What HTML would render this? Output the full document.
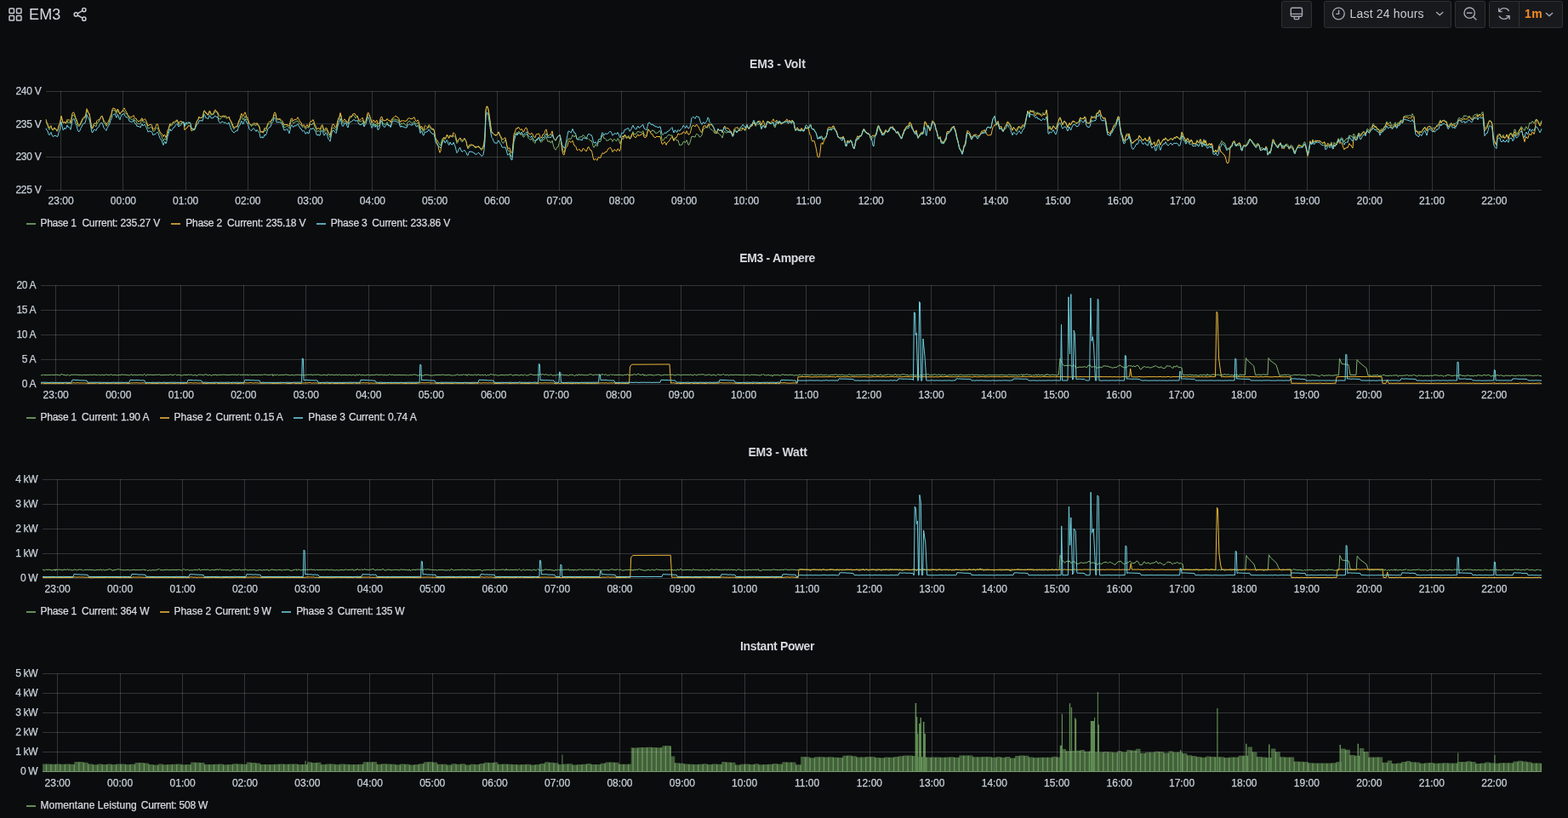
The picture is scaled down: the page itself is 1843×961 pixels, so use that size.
<!DOCTYPE html>
<html><head><meta charset="utf-8"><title>EM3 - Grafana</title>
<style>
html,body{margin:0;padding:0;background:#0b0c0e;}
body{width:1843px;height:961px;overflow:hidden;position:relative;font-family:"Liberation Sans",Arial,sans-serif;color:#ccccdc;}
.t{position:absolute;white-space:nowrap;line-height:1;transform-origin:0 0;}
.dash{position:absolute;height:2px;width:11px;opacity:0.78;}
.btn{position:absolute;top:1px;height:32px;background:#18191d;border:1px solid #303135;border-radius:2.5px;box-sizing:border-box;}
svg{position:absolute;left:0;top:0;}
</style></head><body>

<svg width="120" height="36" viewBox="0 0 120 36" style="left:0;top:0">
<g fill="none" stroke="#c7cad1" stroke-width="1.5">
<rect x="11" y="10" width="5.5" height="5.5" rx="0.8"/><rect x="19.5" y="10" width="5.5" height="5.5" rx="0.8"/>
<rect x="11" y="18.5" width="5.5" height="5.5" rx="0.8"/><rect x="19.5" y="18.5" width="5.5" height="5.5" rx="0.8"/>
<circle cx="98.8" cy="11.6" r="2.1"/><circle cx="98.8" cy="22.2" r="2.1"/><circle cx="89.3" cy="16.9" r="2.1"/>
<path d="M91.2 15.8 L96.9 12.7 M91.2 18 L96.9 21.1"/>
</g></svg>

<div class="t" style="left:33.96px;top:7.56px;font-size:18px;letter-spacing:0.185px;color:#d8d9e0;">EM3</div>
<div class="btn" style="left:1506px;width:36px;"></div>
<div class="btn" style="left:1556px;width:150px;"></div>
<div class="btn" style="left:1710px;width:36px;"></div>
<div class="btn" style="left:1750px;width:87px;"></div>
<svg width="1843" height="36" viewBox="0 0 1843 36" style="left:0;top:0">
<g fill="none" stroke="#a3a8b3" stroke-width="1.4" stroke-linecap="round" stroke-linejoin="round">
<rect x="1517.3" y="9.2" width="13.2" height="10" rx="1.5"/><path d="M1517.3 16.4 H1530.5"/><rect x="1521.3" y="19.6" width="5.4" height="3" rx="0.8"/>
<circle cx="1573.3" cy="16" r="6.9"/><path d="M1573.6 12.2 V16.4 H1570.8"/>
<path d="M1688.6 14.4 L1692.2 17.8 L1695.8 14.4"/>
<circle cx="1727.2" cy="15.2" r="6.2"/><path d="M1724.4 15.2 H1730 M1731.7 19.7 L1735 23"/>
<path d="M1773.4 12.6 A6.3 6.3 0 0 0 1762.3 13.4 M1762.3 19.2 A6.3 6.3 0 0 0 1773.5 18.6 M1761.7 10 V13.6 H1765.2 M1774.2 22.3 V18.6 H1770.6"/>
<path d="M1817.4 15.4 L1821 18.8 L1824.6 15.4"/>
</g>
<path d="M1785.5 1.5 V32.5" stroke="#303135" stroke-width="1"/>
</svg>

<div class="t" style="left:1586.58px;top:9.35px;font-size:14px;letter-spacing:0.172px;color:#c9cad3;">Last 24 hours</div>
<div class="t" style="left:1792.06px;top:9.15px;font-size:14px;font-weight:bold;letter-spacing:0.450px;color:#f48c26;">1m</div>
<div class="t" style="left:880.99px;top:68.15px;font-size:14px;font-weight:bold;letter-spacing:-0.091px;color:#d8d9e0;">EM3 - Volt</div>
<svg width="1843" height="130" viewBox="0 100 1843 130" style="top:100px">
<path d="M54 107.5H1812M54 145.5H1812M54 184.5H1812M54 223.5H1812M71.5 107 V224M144.5 107 V224M218.5 107 V224M291.5 107 V224M364.5 107 V224M437.5 107 V224M511.5 107 V224M584.5 107 V224M657.5 107 V224M730.5 107 V224M804.5 107 V224M877.5 107 V224M950.5 107 V224M1023.5 107 V224M1097.5 107 V224M1170.5 107 V224M1243.5 107 V224M1316.5 107 V224M1390.5 107 V224M1463.5 107 V224M1536.5 107 V224M1609.5 107 V224M1683.5 107 V224M1756.5 107 V224" stroke="rgba(200,200,200,0.22)" stroke-width="1" fill="none"/>
<path d="M54 142.8l1 2.6 1 1.7 1 3.9 1 1.3 1 -2.6 1 -2 1 3.4 1 2 1 -0.6 1 -1.5 1 0.6 1 0.4 1 2.5 1 -0.9 1 -4.6 1 -2.5 1 -3.5 1 -5.9 1 3.5 1 3.6 1 0.2 1 -1.4 1 1.8 1 -0.3 1 -2.4 1 2.4 1 -0.8 1 0.1 1 1.4 1 -4.7 1 -4.7 1 -0.8 1 0 1 2.4 1 3.1 1 2.1 1 3.7 1 2.1 1 0 1 -0.9 1 -1.9 1 -1.9 1 -2.7 1 -1.4 1 -0.7 1 -0.6 1 -3.4 1 -5.4 1 2.2 1 2 1 0.2 1 5.9 1 6.4 1 5 1 -0.3 1 -3.2 1 -0.8 1 1.4 1 0.4 1 -3.7 1 -1.1 1 -0.7 1 -2.3 1 -2.3 1 -2.1 1 -0.2 1 3.8 1 4.2 1 0.6 1 1.2 1 2.2 1 -1.4 1 -0.5 1 -2.6 1 -3.1 1 -3.5 1 -1.9 1 -4.8 1 -1.6 1 0.7 1 0 1 3.1 1 0.9 1 -3.8 1 0.4 1 2.6 1 1.6 1 -2.1 1 -1.2 1 -0.4 1 -0.6 1 0.4 1 2.3 1 0.4 1 0.5 1 2.3 1 0.9 1 2.3 1 0.4 1 0.3 1 0.5 1 0 1 -1.4 1 2 1 1.2 1 -0.1 1 3 1 -0.4 1 1.4 1 -0.7 1 0.3 1 -3.5 1 -1.9 1 3.1 1 0.1 1 -0.5 1 0.8 1 1.2 1 2.3 1 3.5 1 -0.3 1 0 1 -1.3 1 0 1 2.1 1 3.3 1 -0.9 1 -0.2 1 -2 1 -1.2 1 -0.2 1 2.3 1 2.9 1 1.7 1 1.4 1 2 1 3 1 2.4 1 -2.6 1 -0.4 1 1.8 1 -3 1 -5 1 -2.5 1 -5.1 1 -3 1 2.2 1 -1 1 -1.5 1 -0.9 1 0 1 -1.3 1 -0.2 1 -1.2 1 1.8 1 3 1 -1.3 1 0 1 -1.1 1 -1.3 1 0.4 1 -0.2 1 4.6 1 -3 1 0.5 1 0.7 1 -1.4 1 0 1 -1.2 1 1.7 1 5.2 1 0.4 1 0.4 1 1.8 1 -1.9 1 -4.4 1 -3.6 1 -1.6 1 -1.1 1 -3.2 1 1.3 1 -0.3 1 0 1 -0.1 1 -3.4 1 -4.5 1 0.2 1 2.6 1 -0.3 1 2.4 1 -0.1 1 -3.6 1 0.5 1 3.1 1 -0.2 1 -0.4 1 0 1 -2 1 -1.5 1 0.6 1 0.2 1 2.7 1 4.5 1 1.1 1 -0.1 1 -1.4 1 -1 1 -0.7 1 0.3 1 0.5 1 0 1 1.2 1 0.2 1 -1 1 -1 1 3.2 1 1.8 1 3.1 1 2.9 1 2.1 1 1.6 1 -1.6 1 -1.4 1 0 1 0.4 1 -3.4 1 -2.8 1 -1.3 1 -4.1 1 -1.2 1 3.7 1 0.6 1 -2.4 1 -1.9 1 1.9 1 2.7 1 -0.7 1 3.1 1 1.8 1 0.8 1 1.9 1 0.6 1 -1.2 1 -1.2 1 0.9 1 0.1 1 0.3 1 -2 1 1.8 1 0.8 1 2.1 1 5.3 1 -0.1 1 -1.4 1 2.3 1 -0.8 1 -2.9 1 1.6 1 -1.5 1 -3.6 1 -3.1 1 -0.1 1 -0.2 1 -1 1 -2.7 1 -0.8 1 -0.7 1 -4.1 1 -1.7 1 0.7 1 5 1 1.1 1 -0.8 1 -0.6 1 0.7 1 1.7 1 0.9 1 0.9 1 2.6 1 3.2 1 -0.2 1 -1 1 -1 1 0.5 1 1.3 1 1.5 1 -4.4 1 -4.1 1 -1.3 1 2.2 1 1.5 1 -1.3 1 -0.7 1 -0.1 1 -0.5 1 -0.7 1 2 1 1.6 1 1.6 1 -0.6 1 2.5 1 0.9 1 -1.3 1 1 1 2.3 1 -0.4 1 -2.2 1 1 1 -0.1 1 -3.4 1 -0.6 1 0.5 1 -0.1 1 -2.2 1 1.8 1 3.4 1 0.8 1 3.9 1 0.7 1 -1.5 1 0.8 1 0.7 1 -2.9 1 -2.4 1 -1 1 3.5 1 3.3 1 -0.8 1 -2.4 1 0.2 1 2.9 1 2.9 1 1.5 1 2.1 1 -4.5 1 -5.5 1 -1.8 1 0.5 1 0 1 1.5 1 1.5 1 -3.5 1 -5.6 1 -4.1 1 -1.8 1 -4.1 1 3.2 1 5.5 1 1.5 1 -0.5 1 -1.6 1 0.2 1 0.1 1 2.5 1 0.7 1 -3.7 1 -3 1 -1 1 -0.2 1 -1.7 1 -1.3 1 1.1 1 0.6 1 2.3 1 -1 1 -1.5 1 3 1 3.1 1 0.3 1 -0.1 1 -0.5 1 -1 1 2.2 1 3.1 1 -2.5 1 -1.3 1 -2.5 1 -4.8 1 -0.9 1 1.3 1 2.5 1 3 1 5.1 1 0.3 1 -2.6 1 1.3 1 2.2 1 -2.1 1 -1.1 1 4.1 1 0 1 -1.7 1 -4.3 1 -2.3 1 0.6 1 4.3 1 -0.1 1 1.5 1 -1.2 1 -0.1 1 -2 1 2.1 1 1.9 1 -0.2 1 1.5 1 -3.5 1 -4 1 -0.8 1 -0.4 1 0.2 1 0.3 1 0.4 1 0.4 1 -0.5 1 1.8 1 3.8 1 0.1 1 -1.8 1 1.3 1 -1.4 1 0.3 1 1.7 1 0.6 1 0.6 1 -3.6 1 -1.2 1 -0.9 1 0.4 1 1.6 1 0.6 1 0.6 1 -2 1 -0.9 1 2 1 1.5 1 -0.2 1 -1.7 1 1.5 1 3.2 1 4.9 1 -2.5 1 -0.7 1 3.3 1 1.1 1 -2.6 1 0 1 -0.6 1 -0.6 1 -0.1 1 -2.2 1 0.9 1 1.6 1 0.3 1 1.5 1 -1 1 0.4 1 4.4 1 6.3 1 0.5 1 1.5 1 1.4 1 1.9 1 2.2 1 -0.1 1 -4.5 1 -2.8 1 -1.2 1 -0.9 1 1.7 1 -0.8 1 -2.8 1 -0.1 1 2.7 1 0 1 -3 1 1.8 1 -0.3 1 1.1 1 -2.3 1 1.2 1 1 1 3.4 1 3.9 1 -1.2 1 -2.8 1 -1.8 1 0 1 3 1 1.1 1 -0.6 1 -2.2 1 -1.6 1 1.7 1 2.1 1 5.4 1 3.3 1 -1.4 1 -1.8 1 0.1 1 -1 1 -0.2 1 0 1 0.3 1 2.3 1 0.2 1 0.2 1 -1 1 -1.1 1 0.5 1 1.4 1 0.8 1 0.6 1 -1.6 1 -1.2 1 -4.1 1 -10 1 -28.4 1 -3.8 1 0.1 1 3.3 1 6.1 1 8.5 1 7.8 1 4.8 1 -0.4 1 0.8 1 1.2 1 1.5 1 -0.5 1 -0.2 1 -1.9 1 -1.6 1 2.8 1 2.5 1 2.2 1 4.2 1 1.3 1 -0.4 1 -1.9 1 -2 1 3.5 1 5.4 1 4.2 1 0.3 1 0.2 1 4 1 2.5 1 0.4 1 -11.2 1 -11 1 -3.2 1 -2.6 1 -1 1 2.3 1 -2.8 1 -0.7 1 2.5 1 1.9 1 -1.4 1 1.6 1 2.2 1 -0.1 1 -1.8 1 -1.1 1 -0.7 1 2.2 1 2.7 1 1.1 1 0.7 1 0.2 1 -1.7 1 1.6 1 2.3 1 1.1 1 0.8 1 -4.2 1 -1.1 1 0 1 -1.6 1 1 1 3.8 1 1.2 1 -1 1 -2.5 1 0.5 1 -0.8 1 -2.2 1 -0.9 1 3.4 1 2.8 1 -0.8 1 -0.4 1 2.3 1 -0.3 1 -2.5 1 4.3 1 3.6 1 2.3 1 1 1 -1.5 1 -1.9 1 -0.3 1 -3.6 1 -4.4 1 -2.1 1 5.5 1 6.3 1 3.7 1 1.2 1 -3.8 1 -4.4 1 -5 1 -0.5 1 -2.4 1 0.1 1 -0.1 1 0.6 1 -2 1 -3.2 1 1.5 1 1.2 1 -2 1 0.6 1 3.7 1 0.3 1 -1.5 1 -1.3 1 0.3 1 -0.6 1 0.2 1 -2.1 1 0.2 1 1 1 1.1 1 2.4 1 -0.4 1 -0.5 1 1 1 0.8 1 1.4 1 -0.7 1 2.1 1 4.1 1 2.2 1 -1.4 1 -2.3 1 1.5 1 0.7 1 -4.2 1 -1.9 1 1.2 1 -1.1 1 -4.3 1 -3.4 1 1.8 1 2.8 1 -0.4 1 1.2 1 1.6 1 0.1 1 -0.8 1 -0.1 1 -1.4 1 -0.1 1 1.2 1 2.2 1 -1.9 1 -1.2 1 1 1 1.5 1 -0.3 1 -2.9 1 0.8 1 3.5 1 2.4 1 -4.1 1 -2.9 1 1.5 1 -0.6 1 -4.7 1 0 1 2.6 1 0.3 1 -1.3 1 -0.5 1 3.4 1 0.2 1 -2 1 -3.6 1 -2.8 1 2.7 1 0.2 1 0.1 1 -0.8 1 -2 1 -0.8 1 1.2 1 -0.4 1 0.6 1 0.4 1 -1.5 1 -0.5 1 4.3 1 0.4 1 1.3 1 -0.2 1 -4.8 1 -2.8 1 1.4 1 0.4 1 1.1 1 -0.7 1 -1.7 1 1.4 1 -0.2 1 2.3 1 0.3 1 -0.1 1 -0.4 1 -0.9 1 -1.3 1 0.2 1 4.7 1 5 1 1.7 1 -0.7 1 -2.1 1 -1.3 1 1.1 1 -2 1 -1.2 1 -0.8 1 0.2 1 0.6 1 0.1 1 -0.4 1 3.5 1 2.7 1 -2.5 1 0.4 1 2 1 0.1 1 -0.3 1 3.6 1 2.7 1 -1 1 0.1 1 -0.4 1 -3 1 -0.3 1 0.7 1 0.2 1 -2.7 1 2.1 1 3.6 1 -0.4 1 -2.3 1 -3.8 1 -3.7 1 0.5 1 -0.4 1 0.4 1 0.7 1 -3 1 -1.2 1 1.2 1 0.1 1 2.6 1 0.1 1 -1 1 -1.2 1 -4.7 1 -3 1 -0.2 1 -1.3 1 -0.4 1 1.2 1 -2.3 1 -1.2 1 3.3 1 1.2 1 0.7 1 0.3 1 1.1 1 1.4 1 1.8 1 -0.7 1 0.3 1 0 1 -0.7 1 1.6 1 1 1 0.4 1 1.1 1 2.3 1 -3.5 1 -3.6 1 -0.7 1 1.7 1 0.1 1 -0.6 1 0 1 -0.7 1 -0.1 1 -0.7 1 2.1 1 3.2 1 -0.5 1 -5.8 1 -1.1 1 1.7 1 1.8 1 -1.5 1 -0.1 1 -0.7 1 -1.6 1 -0.5 1 -0.3 1 -0.8 1 1.5 1 1.6 1 0.5 1 -2.1 1 -2.5 1 1.3 1 0.8 1 -1.2 1 -1.2 1 -0.4 1 0 1 -2.9 1 -1.8 1 2 1 2.8 1 -0.7 1 -1 1 -1.2 1 0.9 1 -1.1 1 2.2 1 3 1 -1.8 1 -1.5 1 0.4 1 1.3 1 0 1 -3.8 1 -2.5 1 0.9 1 0.5 1 0.7 1 0.8 1 -0.6 1 -0.5 1 0.1 1 4.4 1 1.1 1 -3 1 -2.2 1 0.6 1 0.3 1 -2.9 1 0.8 1 1.4 1 -0.4 1 -0.5 1 -0.5 1 -0.5 1 0.6 1 -0.6 1 -0.2 1 2 1 -0.2 1 -2.2 1 1.5 1 1.3 1 -1.3 1 -0.4 1 -0.1 1 5.4 1 3.5 1 0 1 -0.7 1 1.7 1 -0.6 1 1 1 -0.2 1 -2.1 1 1.9 1 0.4 1 0.4 1 -3.1 1 -1.6 1 1.7 1 0.4 1 -1.2 1 -1 1 -3 1 -0.1 1 5 1 0.8 1 -0.8 1 0.8 1 2.2 1 1.4 1 3.3 1 3.9 1 0 1 -1 1 1.4 1 -3.3 1 0.1 1 3.2 1 -0.6 1 -0.2 1 -0.9 1 -0.6 1 -2.9 1 -4.2 1 -1.4 1 -0.4 1 -0.7 1 0.6 1 -1.3 1 -1.7 1 -0.2 1 2.2 1 1.9 1 1.5 1 3.4 1 3.7 1 0.1 1 0.8 1 -0.2 1 0.3 1 0.5 1 -2.3 1 2 1 3.4 1 5.3 1 -0.2 1 -6 1 0.4 1 1.7 1 -0.7 1 -1.5 1 1.7 1 3.9 1 3.1 1 1.3 1 -3.6 1 -4.9 1 -1 1 -2.9 1 1.3 1 -2.3 1 -1.4 1 0.3 1 -2.2 1 -3.2 1 -1.8 1 0.5 1 1.6 1 0.5 1 0.5 1 1.6 1 -0.9 1 1.7 1 3.7 1 2.2 1 -2.1 1 -1.4 1 -0.4 1 -1 1 -0.6 1 -1.5 1 -4 1 -4.1 1 -0.7 1 3.8 1 2.1 1 1.4 1 1.7 1 -0.5 1 1 1 -2.6 1 -2.6 1 1.2 1 1 1 -1.9 1 -1.9 1 -1.9 1 -0.8 1 1 1 -0.2 1 2 1 -0.1 1 1.4 1 2.3 1 1.1 1 -0.7 1 2.2 1 1.7 1 0.5 1 2.1 1 -0.2 1 -4.4 1 -2 1 -2.9 1 0 1 -2.2 1 -1.5 1 0 1 -0.7 1 -3.1 1 0.7 1 1.5 1 3.2 1 2 1 2.2 1 1.1 1 0.1 1 -1.9 1 5.1 1 3.6 1 -1.6 1 -2 1 -1.5 1 -1.7 1 0.8 1 0.2 1 -6.6 1 -7 1 1 1 3.2 1 1.8 1 -1.1 1 2.4 1 2.3 1 -2 1 -3.8 1 -3.1 1 0.6 1 1 1 1.2 1 4.6 1 2 1 5 1 4 1 -0.4 1 -0.4 1 4.4 1 2 1 -0.4 1 1.5 1 -1.9 1 -2.2 1 -1.7 1 -6.6 1 -0.8 1 -0.2 1 -1.3 1 -1.2 1 -1.7 1 -1.4 1 -0.6 1 -1.5 1 3.3 1 2.2 1 4.2 1 4.8 1 3.6 1 4.6 1 3.6 1 1.2 1 2.4 1 2.8 1 -3.5 1 -5.1 1 -0.5 1 -3.2 1 -8.6 1 -4.3 1 0.3 1 1.2 1 1.6 1 2.5 1 1.7 1 -2.1 1 -1.4 1 -0.5 1 0.8 1 0 1 1.3 1 0.3 1 -1.4 1 -0.8 1 -1.1 1 -1.3 1 -1 1 0 1 -0.4 1 -1 1 1.5 1 -2.7 1 -2.8 1 -1.1 1 -0.1 1 0.9 1 0.8 1 -0.4 1 -6 1 -4.7 1 -1.6 1 -1.6 1 5.5 1 4.1 1 -0.6 1 -1.9 1 4 1 3.9 1 -1.3 1 0 1 3 1 1.5 1 -2.6 1 -3 1 -1.1 1 -1.2 1 -2.8 1 0.3 1 2 1 0.8 1 2.1 1 2.6 1 1.2 1 -3.4 1 0.5 1 1.6 1 2.2 1 0.6 1 -1.9 1 -1.9 1 -1.7 1 1.2 1 1.7 1 -1.3 1 -2 1 0.1 1 -0.8 1 -2.6 1 -4.4 1 -4.9 1 -5.5 1 2.2 1 1.7 1 -4.5 1 0.6 1 0.2 1 -0.7 1 0 1 1.9 1 1.5 1 -0.7 1 -1.1 1 1.5 1 -0.2 1 0.4 1 0.9 1 0.5 1 -1 1 -1.4 1 1.8 1 0.6 1 -2.4 1 -3.4 1 6.6 1 14.3 1 -0.2 1 -1.6 1 2.6 1 0.9 1 -1.8 1 -2.2 1 1.2 1 1.6 1 0.8 1 -2.5 1 -3.5 1 -2.9 1 -2.2 1 -0.5 1 1.8 1 3.5 1 1.5 1 -3.1 1 -1.4 1 1.4 1 0.6 1 3.3 1 2.5 1 -3 1 -1.9 1 2.4 1 -0.7 1 -2.5 1 -0.8 1 -0.3 1 0.3 1 1 1 0.8 1 -0.7 1 -0.3 1 -0.4 1 -2.8 1 -2.7 1 1.3 1 0.2 1 -0.5 1 0.2 1 -2.2 1 2.1 1 4.4 1 1.1 1 0.3 1 0.1 1 -1.3 1 -3.8 1 -3.8 1 1.4 1 0 1 -1 1 0.9 1 -0.9 1 -3.6 1 -0.5 1 0.4 1 -2.7 1 1.3 1 3.7 1 1.8 1 1.1 1 1.7 1 -1.1 1 0 1 4.9 1 6.6 1 5.2 1 0.2 1 1 1 0.7 1 -3.4 1 0.4 1 -3.4 1 -3.2 1 -1.2 1 -1.3 1 -1.6 1 -3.6 1 -3 1 0 1 7.8 1 6.9 1 4.8 1 2.7 1 4.3 1 3.2 1 -1 1 -4.6 1 -3.5 1 -0.6 1 1.7 1 -1.8 1 4 1 3.1 1 3.8 1 0.7 1 -0.3 1 -1.9 1 -0.5 1 -0.9 1 -1.5 1 0.2 1 -1.3 1 -3 1 1.9 1 0.5 1 2.5 1 0.9 1 -1.1 1 -1.2 1 -0.7 1 3.4 1 -0.2 1 0.6 1 -2.7 1 -2.8 1 3.2 1 3.8 1 2.4 1 -0.5 1 -1.7 1 -0.8 1 4.2 1 0.1 1 -2.9 1 -2.6 1 -1.1 1 3.9 1 1.3 1 -2.6 1 -0.4 1 -1.7 1 -0.7 1 0.3 1 -2.6 1 1.4 1 1.2 1 0.2 1 -0.2 1 -0.4 1 -1.5 1 0.3 1 1.9 1 -0.9 1 -1.5 1 0 1 0.1 1 -1.1 1 0.4 1 -0.2 1 1.3 1 0.1 1 -2.3 1 -5.4 1 3.2 1 3.7 1 0.1 1 2.1 1 2.6 1 -2 1 -1.8 1 0.5 1 2.6 1 -0.6 1 -1.8 1 2.2 1 3.3 1 -0.2 1 -0.7 1 0.9 1 -2.2 1 -2.7 1 2.2 1 1 1 -2.4 1 -1.2 1 2.9 1 1.9 1 -2.5 1 -2.7 1 3 1 -2 1 3.8 1 2.4 1 0.4 1 -1.6 1 -0.3 1 1.6 1 -1.9 1 2.2 1 6.9 1 0.1 1 0.3 1 -1.9 1 1.5 1 -0.7 1 -2.6 1 -4.1 1 -1.8 1 -1 1 -2.7 1 1.5 1 1.4 1 -0.6 1 1.6 1 2.8 1 3.2 1 -0.8 1 -0.7 1 0.8 1 -1.8 1 -0.1 1 -0.4 1 -3.3 1 -1.3 1 -0.8 1 4 1 1.2 1 -2.7 1 -0.3 1 -1.2 1 0 1 2.6 1 4.6 1 0.1 1 -3.3 1 -1.2 1 0.6 1 -0.6 1 -0.2 1 -2.3 1 -1.9 1 -1.7 1 -1.6 1 1.2 1 0.8 1 1.6 1 0.8 1 1.9 1 0.1 1 1.4 1 -0.7 1 -1.8 1 0.6 1 1.4 1 3.5 1 1.2 1 -1.7 1 0.4 1 1.5 1 -0.9 1 2 1 -3.1 1 1.3 1 7.9 1 -1.4 1 -3.3 1 1.2 1 -3.6 1 -5.8 1 -5.8 1 0.6 1 3.4 1 1.8 1 0.8 1 1.3 1 0.9 1 -2.8 1 0 1 -1.7 1 2.1 1 2.1 1 -1.5 1 1.5 1 -1 1 -1.6 1 -0.1 1 -0.2 1 1.2 1 2.7 1 -0.3 1 -2 1 -0.4 1 1.3 1 1.4 1 3.7 1 2 1 -2.1 1 -2.1 1 -2.1 1 -2.1 1 -0.5 1 0.6 1 1 1 0.6 1 -0.3 1 -2.8 1 -2.2 1 0.3 1 4.4 1 4.6 1 4.6 1 -2.9 1 -5.4 1 -6 1 1.6 1 -0.5 1 -3.6 1 2.6 1 0.8 1 -1 1 0.3 1 -0.6 1 -1.2 1 1.2 1 -0.5 1 0.9 1 0.7 1 1.1 1 0.5 1 -1.2 1 0 1 4.5 1 0.2 1 -1.2 1 -1.4 1 0.8 1 0.6 1 -2.4 1 -1.7 1 4.8 1 0.5 1 -4.9 1 2.1 1 -0.8 1 -1.3 1 -1.5 1 -3.2 1 2 1 0.7 1 -2.7 1 -1.1 1 1.3 1 2.5 1 1.6 1 -2.5 1 -0.3 1 -1.9 1 1.2 1 -2.2 1 -2.4 1 1.1 1 -0.8 1 1.9 1 0.3 1 -4.2 1 1 1 3 1 -0.1 1 0.6 1 -3 1 -2.6 1 1 1 1.4 1 -0.9 1 -1.6 1 -0.8 1 -0.8 1 1.5 1 2.6 1 -3.7 1 -3.4 1 0.6 1 1.7 1 -0.6 1 -2.3 1 -1.5 1 -1.3 1 -2.7 1 1.3 1 2.4 1 -0.8 1 1.6 1 1.9 1 -0.4 1 1 1 2.1 1 -2.3 1 -0.8 1 1.6 1 -2 1 -2.1 1 -0.5 1 -3 1 -2.4 1 2.4 1 0.6 1 -1.7 1 -1 1 2.8 1 2.1 1 -0.5 1 -1.3 1 -0.2 1 -2.3 1 2.1 1 1.2 1 -3 1 0.1 1 0.2 1 -2.7 1 -0.6 1 1.5 1 -1.1 1 -4.6 1 -0.2 1 -0.7 1 -0.1 1 0.2 1 0 1 0.1 1 -0.9 1 1.3 1 -0.7 1 -2.2 1 1.8 1 1.1 1 11.4 1 5.4 1 0.7 1 0 1 1.2 1 -0.3 1 -0.9 1 1.8 1 -0.7 1 -2.9 1 -0.6 1 -1.9 1 -0.5 1 1.9 1 1.6 1 -3.2 1 -0.8 1 -0.4 1 -0.2 1 1.1 1 1.6 1 0.6 1 -1.6 1 0.9 1 -0.7 1 -1.3 1 -1.9 1 0.4 1 -1.1 1 -3.2 1 -2 1 2.5 1 -1.1 1 -0.5 1 -0.5 1 -0.2 1 1.5 1 -0.1 1 3 1 2.8 1 -0.2 1 -1.6 1 -1.8 1 -0.3 1 2.2 1 0.1 1 -2 1 1.4 1 -1.6 1 -0.7 1 -0.1 1 -4 1 -1.6 1 0.9 1 0.9 1 -0.3 1 -0.6 1 -1.5 1 -1.9 1 1.3 1 -1.4 1 1.2 1 0.9 1 -0.7 1 -0.4 1 0.8 1 1.5 1 0.9 1 -1.4 1 -2.5 1 -1 1 0 1 -0.2 1 -1 1 2.6 1 -1.6 1 -0.4 1 0.7 1 -1.1 1 -1.8 1 -0.5 1 9.6 1 10.2 1 -1 1 -1.7 1 -0.7 1 -3 1 -2.5 1 -1.3 1 1.1 1 0.6 1 4.3 1 12 1 5.4 1 1.7 1 2 1 1.1 1 -10.7 1 -0.8 1 0 1 0 1 3 1 -0.5 1 -0.5 1 -1.4 1 3.2 1 0.5 1 -0.8 1 -3.1 1 1.7 1 2 1 -4.2 1 -1.2 1 -0.1 1 0.6 1 2.6 1 -2.1 1 -5.4 1 0 1 4.4 1 0.4 1 -0.8 1 -1.4 1 -2.6 1 -1 1 -2.4 1 0.8 1 2.3 1 0.4 1 1.3 1 -4 1 -0.9 1 2.7 1 0.2 1 -4.2 1 -3.4 1 1 1 -0.1 1 -2.5 1 0.9 1 1.8 1 -2.2 1 -2.3 1 -0.1 1 0.7 1 2 1 1.7 1 1.5 1 -2.1 1 -2.6" stroke="#7EB26D" stroke-width="1" fill="none" stroke-linejoin="round"/><path d="M54 140.2l1 3.5 1 2.1 1 3.2 1 1.1 1 -1.5 1 -0.7 1 3.4 1 1.3 1 -1.5 1 -1.3 1 1.7 1 0.2 1 1.9 1 -1.4 1 -4.6 1 -2 1 -3.6 1 -5.9 1 3.9 1 4.1 1 0.1 1 -1.3 1 2 1 -0.9 1 -3.6 1 1.1 1 -1.2 1 1.4 1 2.2 1 -5.4 1 -5.5 1 -1.2 1 0.5 1 3.1 1 3.1 1 1.7 1 3.8 1 2.7 1 0.4 1 -0.7 1 -2.4 1 -2.3 1 -2.4 1 -1.2 1 -0.9 1 -0.2 1 -3.5 1 -5.8 1 2.3 1 2.4 1 1 1 5.9 1 6.3 1 4.9 1 -0.6 1 -3.6 1 -1.7 1 0.6 1 0.1 1 -3.6 1 -1 1 0.4 1 -0.6 1 -1.4 1 -2.2 1 -0.8 1 2.5 1 3.2 1 0.7 1 1.5 1 2.4 1 -1.8 1 -1.2 1 -2.2 1 -2.1 1 -3.2 1 -2.2 1 -5.3 1 -1.7 1 0.9 1 -0.2 1 2.8 1 1.2 1 -3.3 1 0.6 1 3.3 1 1.9 1 -1.8 1 -1 1 -0.9 1 -2 1 -1.4 1 2.2 1 1.8 1 1.4 1 2.4 1 1.1 1 2.1 1 -0.1 1 -0.1 1 -0.2 1 -0.7 1 -1.3 1 2.7 1 1.4 1 -0.4 1 2.5 1 0.1 1 1.4 1 -1.4 1 0.2 1 -2.3 1 -0.9 1 2.9 1 -0.8 1 -1.2 1 0.7 1 2.1 1 2.6 1 3 1 -1.1 1 -0.2 1 -0.6 1 0.4 1 2.3 1 3.6 1 -1.1 1 0 1 -2.6 1 -2.7 1 -0.5 1 3.2 1 3.5 1 2.5 1 1.6 1 0.6 1 1.6 1 2 1 -2.2 1 0.5 1 3 1 -3 1 -5.8 1 -1.5 1 -3.6 1 -2.8 1 1.4 1 -1.2 1 -1.3 1 -1 1 0.3 1 -1 1 -0.3 1 -1.3 1 1.8 1 2.8 1 -2.1 1 -0.6 1 -0.1 1 0.5 1 1.4 1 0.9 1 7.5 1 -1.7 1 -0.3 1 -0.5 1 -2.5 1 0.2 1 -0.5 1 1.6 1 4.8 1 -0.3 1 -1.7 1 0.5 1 -1.4 1 -2.9 1 -3.9 1 -2.7 1 -1.4 1 -2.9 1 1.6 1 -0.3 1 -0.3 1 -1 1 -3.9 1 -3.5 1 0.9 1 2.6 1 -0.5 1 2.2 1 -0.3 1 -4.4 1 0.3 1 3.1 1 0.4 1 0.1 1 -1 1 -3.3 1 -1.1 1 2.1 1 0.2 1 1 1 3.1 1 1.1 1 0.6 1 0.1 1 -0.1 1 -0.9 1 0 1 0.5 1 -0.6 1 0.9 1 1.6 1 0.1 1 -1.5 1 3.1 1 1.4 1 1.7 1 2 1 2.6 1 2.4 1 -0.5 1 -0.9 1 -0.5 1 -0.1 1 -4 1 -3 1 -1.2 1 -4.5 1 -2.2 1 2.7 1 0.2 1 -2.5 1 -1.9 1 2.5 1 3.8 1 -0.1 1 4.1 1 3 1 1 1 1 1 -0.2 1 -1.5 1 -1 1 0.8 1 -0.3 1 0.7 1 -1.3 1 2.1 1 0.7 1 2 1 5.8 1 0.7 1 -1.1 1 1.4 1 -2.3 1 -3.3 1 1.2 1 -1.4 1 -2.5 1 -2.8 1 -1.4 1 -0.6 1 0.5 1 -2.1 1 -1.5 1 -1.5 1 -4.7 1 -1.6 1 1.2 1 5.6 1 1.2 1 -0.1 1 0 1 -0.2 1 0.7 1 1 1 1.3 1 2.1 1 2.1 1 -0.3 1 0 1 -0.2 1 0.4 1 0.9 1 0.3 1 -4.3 1 -3.8 1 -1 1 2.5 1 0.7 1 -1.7 1 0.1 1 0.5 1 -1.5 1 -1.7 1 2.1 1 1.7 1 2.2 1 0.2 1 2.9 1 1.1 1 -1.4 1 1.3 1 2.1 1 -1.4 1 -2 1 2 1 0.4 1 -4.1 1 -2.2 1 -0.3 1 0.1 1 -1.9 1 2.4 1 4.1 1 0.5 1 3.6 1 0.8 1 -1.7 1 0.7 1 1.2 1 -2.5 1 -2.4 1 -0.5 1 3.7 1 2.8 1 -1 1 -2.1 1 0.4 1 2.4 1 2.2 1 1.4 1 2.4 1 -4.4 1 -5.7 1 -2.8 1 -0.1 1 1.2 1 2.4 1 0.5 1 -4.1 1 -4.5 1 -2.8 1 -1.6 1 -4.5 1 3.4 1 5.6 1 1.1 1 -1.5 1 -1.3 1 1.6 1 0.6 1 1.8 1 -0.1 1 -4 1 -2.7 1 -0.6 1 0.6 1 -1.7 1 -1.7 1 0.2 1 -0.4 1 2.2 1 0.7 1 -0.1 1 2.6 1 2.5 1 -0.2 1 -0.6 1 -1.2 1 -1.1 1 2.7 1 3.7 1 -1.9 1 -1.3 1 -3.1 1 -5.5 1 -0.5 1 2.1 1 2.9 1 3 1 3.4 1 -0.7 1 -2.1 1 1 1 2.1 1 -1.8 1 -0.9 1 4.3 1 -0.1 1 -1.8 1 -3.8 1 -2.6 1 0 1 4 1 -0.3 1 1.2 1 -1.1 1 0.3 1 -2 1 1.6 1 0.6 1 -0.4 1 2.7 1 -2.1 1 -2.6 1 -0.5 1 -0.9 1 -1.1 1 -0.6 1 0.5 1 1.4 1 0.2 1 1.5 1 3.4 1 0.2 1 -2 1 1 1 -0.7 1 0.4 1 0.6 1 -0.8 1 0.5 1 -2.6 1 -0.5 1 -0.6 1 0.5 1 0.8 1 -0.5 1 0.2 1 -1.7 1 -0.1 1 2.8 1 1.8 1 0.1 1 -1.7 1 1.8 1 3.5 1 4.6 1 -2.4 1 0.3 1 4 1 0.3 1 -4.6 1 -0.9 1 1 1 1.1 1 0.2 1 -3 1 0.6 1 2.2 1 0.6 1 1.6 1 -0.7 1 1.6 1 4.7 1 6 1 1.6 1 3.5 1 3.4 1 4.4 1 3.2 1 -2.4 1 -7.6 1 -3.6 1 -1.9 1 -1.8 1 1.6 1 -1.5 1 -3.5 1 -0.1 1 3.3 1 0.3 1 -3.1 1 1.4 1 -0.9 1 -0.3 1 -3.6 1 1 1 1.1 1 3.9 1 4.3 1 -0.2 1 -1.6 1 -1.5 1 -0.8 1 2.2 1 1 1 -0.3 1 -1.4 1 -0.6 1 1.8 1 1.8 1 4.8 1 2.3 1 -2 1 -1.6 1 0.4 1 -0.5 1 0.3 1 0.7 1 0.3 1 1.6 1 -0.5 1 0.3 1 0.2 1 -0.4 1 0.7 1 1.2 1 0.9 1 1.4 1 -1.1 1 -1.9 1 -5.4 1 -10 1 -28.5 1 -4.7 1 0.1 1 4 1 5.8 1 6.9 1 7.9 1 5.8 1 0.7 1 1.3 1 0.9 1 0.6 1 -0.5 1 0.3 1 -1.9 1 -2 1 2.3 1 2.4 1 1.3 1 2.7 1 0.3 1 -0.7 1 -1 1 -0.3 1 4.7 1 5 1 2.9 1 -0.3 1 -0.3 1 3.5 1 1.9 1 0.5 1 -10.7 1 -10.9 1 -2.6 1 -2.5 1 -2.6 1 1 1 -2.1 1 0.5 1 2.1 1 1 1 -1.6 1 1.6 1 2.3 1 -0.8 1 -3.1 1 -1.3 1 0.5 1 3.2 1 2.6 1 0.8 1 0.8 1 -0.2 1 -1.6 1 1.6 1 2.1 1 1.4 1 0.6 1 -3.5 1 -0.8 1 0.3 1 -1.1 1 1.4 1 3.4 1 0.6 1 -1.3 1 -2.8 1 0 1 -1.5 1 -3.2 1 -1.4 1 4.2 1 3.5 1 -0.2 1 -1.1 1 0.1 1 -1.9 1 -2.6 1 4.8 1 3.7 1 1.9 1 1 1 -1.9 1 -2.2 1 -0.8 1 -1.2 1 -1.1 1 5 1 7.5 1 7.4 1 3.5 1 0.6 1 -4.1 1 -4.2 1 -1 1 -1.6 1 -4.7 1 -1.1 1 0.8 1 1.3 1 -1.3 1 -1.1 1 3.1 1 3 1 0.1 1 1.2 1 3.7 1 0.4 1 -1.1 1 -0.2 1 1.8 1 0.2 1 0.4 1 -3.1 1 -0.1 1 1.3 1 0.7 1 1.5 1 -2.2 1 -2.8 1 -0.3 1 2.1 1 2 1 -0.4 1 3.1 1 5.3 1 3.1 1 -0.2 1 -1.4 1 1.3 1 0.8 1 -3.2 1 -0.8 1 1.4 1 -0.8 1 -3.1 1 -2.1 1 0.3 1 0.5 1 -1.9 1 0 1 -0.3 1 -1.9 1 -2 1 -0.1 1 -1.2 1 0.8 1 1.8 1 2.8 1 -1.5 1 -1.4 1 0.4 1 1.3 1 0.1 1 -2.7 1 0.6 1 2.1 1 -0.8 1 -7.9 1 -7.3 1 -1.8 1 1.5 1 -2.6 1 0.9 1 2.7 1 0.1 1 -0.9 1 -0.5 1 2.2 1 -1.3 1 -2.6 1 -2 1 -0.9 1 3.9 1 0.7 1 0.9 1 -0.8 1 -2.5 1 -0.5 1 1.9 1 -1.2 1 -0.2 1 -0.3 1 -1.5 1 -0.1 1 4.4 1 0.2 1 0.5 1 -1.5 1 -5.4 1 -3.1 1 1.6 1 1.4 1 2.2 1 0.5 1 0.1 1 3 1 0.1 1 1.4 1 -1.1 1 -0.6 1 0.2 1 0.1 1 -0.2 1 0.2 1 4.1 1 4.3 1 0.5 1 -1.4 1 -1.5 1 0.8 1 3 1 -2.4 1 -1.1 1 -0.7 1 -1.4 1 -1.8 1 -1.5 1 -1.1 1 2.8 1 2.3 1 -3.1 1 -0.8 1 0.2 1 -2 1 -3 1 0.8 1 0.7 1 -1.1 1 0 1 -0.1 1 -2.2 1 0.2 1 1.2 1 0.8 1 -3.3 1 1.6 1 2.7 1 -0.2 1 -1.1 1 -3.3 1 -4.9 1 -0.7 1 -0.4 1 0.4 1 1 1 -2.1 1 -0.5 1 1.9 1 0.7 1 2.4 1 2.1 1 1.7 1 0.3 1 -4.5 1 -3 1 0.2 1 -0.4 1 0.9 1 1.3 1 -3 1 -1.7 1 2 1 -0.6 1 0 1 0.5 1 1.8 1 1.6 1 3.4 1 1.9 1 1 1 -2 1 -2.6 1 0.9 1 0.5 1 -0.4 1 0.2 1 2.5 1 -3.2 1 -3.7 1 -0.8 1 2 1 0.7 1 -0.4 1 0.4 1 0.9 1 2.1 1 0.5 1 2.1 1 2.8 1 -2 1 -5.6 1 -1.3 1 -0.1 1 -0.3 1 -0.5 1 2.7 1 1.4 1 -0.9 1 1 1 -1 1 -2.5 1 0.8 1 1.4 1 -0.7 1 -2.9 1 -2 1 2.5 1 2.3 1 -0.6 1 -2.5 1 -1.2 1 0.4 1 -2.8 1 -1.3 1 1.9 1 1.5 1 -1.5 1 -1.2 1 -1.9 1 0.3 1 -0.7 1 2.4 1 2.6 1 -3 1 -2.4 1 2.1 1 3.9 1 2.3 1 -4 1 -3.3 1 0.4 1 0.2 1 0.6 1 0.7 1 -1.4 1 -1.6 1 -1.7 1 2.7 1 1 1 -1.7 1 -0.7 1 1.8 1 1.6 1 -1.6 1 1.8 1 1.4 1 -0.8 1 -0.9 1 -0.3 1 -1.1 1 -1 1 -1.2 1 -0.9 1 2.1 1 0.7 1 -1.5 1 1.7 1 0.1 1 -2 1 1.3 1 1.9 1 5.8 1 3.5 1 -1.4 1 -2.4 1 1.6 1 0.5 1 1.2 1 -0.5 1 -2.1 1 1.7 1 0.2 1 0.9 1 -2.1 1 -1.8 1 1.2 1 0.1 1 -1.6 1 5.6 1 3.5 1 1.1 1 5.6 1 1.4 1 -0.9 1 0.1 1 3.5 1 4.2 1 5.4 1 5.5 1 0.7 1 -0.1 1 -5.9 1 -10.1 1 -1 1 2 1 -2.8 1 -2.6 1 -1.3 1 -1.6 1 -4.8 1 -5.5 1 -1.6 1 0.4 1 -0.1 1 0.7 1 -1.1 1 -1.3 1 0 1 2.6 1 2.1 1 1 1 2.9 1 4.1 1 0.5 1 0.8 1 -0.1 1 -0.1 1 0.2 1 -1.8 1 2.3 1 3.3 1 5.3 1 0 1 -5.7 1 0.2 1 0.7 1 -1.1 1 -0.5 1 2.2 1 3.3 1 2.7 1 1.7 1 -4.6 1 -6.2 1 -1.6 1 -2.5 1 1.6 1 -1.6 1 -0.6 1 0.5 1 -2.2 1 -3.8 1 -2.2 1 0.5 1 2.3 1 1.1 1 0.2 1 1.3 1 -0.4 1 1.7 1 2.6 1 1 1 -2.3 1 -0.3 1 0.4 1 -0.4 1 -0.5 1 -2.8 1 -5 1 -3.2 1 0.1 1 3.1 1 1.3 1 1.9 1 2.8 1 -0.6 1 0.4 1 -2.3 1 -1.9 1 1.1 1 1.2 1 -0.4 1 -1.3 1 -2.2 1 -1.3 1 0 1 -1 1 2.1 1 0.4 1 1.9 1 2.7 1 0.9 1 -1.8 1 0.6 1 2.3 1 2.3 1 2.1 1 -0.2 1 -3.6 1 -2.3 1 -4 1 -0.6 1 -2.3 1 -1.1 1 0.6 1 -0.9 1 -3.9 1 0.2 1 1.4 1 3.5 1 2.3 1 2.5 1 1.3 1 0.2 1 -2.2 1 4.8 1 3.9 1 -1.6 1 -2 1 -1.2 1 -1.5 1 0.8 1 -0.2 1 -6.4 1 -6.7 1 0.6 1 2.7 1 1.7 1 -0.6 1 3.5 1 3.2 1 -3 1 -5.6 1 -3.5 1 1.1 1 1 1 1.9 1 5.4 1 2.4 1 5.3 1 3.9 1 -1.4 1 -1 1 4.1 1 1.9 1 -0.2 1 1.4 1 -2.2 1 -2.3 1 -1.5 1 -6.6 1 -0.9 1 0.7 1 -0.2 1 -1.2 1 -2.5 1 -1.6 1 0.2 1 -1.3 1 2.3 1 2.1 1 5.2 1 4.7 1 3.2 1 5.4 1 4 1 1.2 1 1.6 1 1.9 1 -3.3 1 -5.4 1 -1.5 1 -3.5 1 -8.3 1 -4.3 1 0.2 1 1.1 1 1.8 1 2.7 1 2 1 -1 1 -1.1 1 -1.1 1 0.3 1 -0.7 1 0.9 1 1 1 0 1 -0.1 1 -1.4 1 -2.2 1 -1.9 1 0 1 -0.2 1 -1.5 1 2.2 1 1.2 1 2.3 1 1 1 0.1 1 -0.4 1 -0.1 1 -0.1 1 -5 1 -3.9 1 -1.2 1 -1.8 1 0.6 1 -0.6 1 -2.8 1 -1.6 1 3.9 1 3.7 1 -1.4 1 0.2 1 3.4 1 2.2 1 -1.8 1 -2.9 1 -1.5 1 -1.9 1 -3 1 0 1 1.8 1 0.8 1 2.1 1 3.6 1 1.9 1 -3.4 1 0.4 1 1.3 1 1.6 1 -0.5 1 -2.6 1 -1.2 1 -0.6 1 1.3 1 0.7 1 -2.1 1 -1.6 1 0.9 1 -0.4 1 -2.9 1 -5 1 -4.2 1 -4.6 1 1.4 1 1.8 1 -4 1 1.6 1 0.3 1 -0.5 1 1.3 1 2.7 1 1.1 1 -1.5 1 -1.6 1 1.3 1 -0.6 1 0.3 1 1.3 1 1.2 1 -0.5 1 -1.7 1 0.5 1 0.2 1 -1.9 1 -3.5 1 6.6 1 14.8 1 0.4 1 -1.6 1 2.2 1 0.6 1 -1.9 1 -2.4 1 0.7 1 1.6 1 1.4 1 -2.2 1 -3.7 1 -3.4 1 -3.5 1 -1.4 1 2.3 1 4.3 1 2.3 1 -2.4 1 -1.2 1 1.3 1 0.5 1 3.1 1 1.9 1 -3.1 1 -2.3 1 1.8 1 -0.3 1 -2.7 1 -1.3 1 0.3 1 0.6 1 0.9 1 1.4 1 -0.4 1 -0.9 1 -1.1 1 -2.8 1 -2.1 1 1.7 1 0.1 1 -0.4 1 0.2 1 -2.6 1 2 1 4.6 1 0.9 1 -0.1 1 0.4 1 -0.5 1 -3.1 1 -3.6 1 1.2 1 -0.4 1 -0.9 1 1.5 1 -0.4 1 -4.2 1 -1.3 1 0.5 1 -3.9 1 0 1 4.7 1 2.7 1 0.6 1 1.6 1 -0.9 1 0.5 1 5.1 1 7 1 5.1 1 -0.6 1 0.8 1 1.1 1 -3.8 1 -0.2 1 -2.9 1 -2.1 1 -0.4 1 -1.2 1 -1.4 1 -4 1 -3.6 1 -0.4 1 7.6 1 7.1 1 4.9 1 1.7 1 3.5 1 3.1 1 -0.4 1 -3.7 1 -2.4 1 0.6 1 1.1 1 -3.2 1 3.4 1 3.5 1 3.7 1 0 1 -0.7 1 -1.3 1 -0.1 1 -0.9 1 -1.2 1 0.9 1 -1.3 1 -3.9 1 1.7 1 0.5 1 2.1 1 1.4 1 0.1 1 -1.2 1 -1.8 1 2.5 1 -0.1 1 1.4 1 -1.9 1 -2.8 1 3.1 1 4 1 1.9 1 -1.3 1 -1.4 1 0.1 1 4.4 1 -0.6 1 -3.9 1 -3.2 1 -0.5 1 5 1 1.6 1 -3 1 -1.3 1 -2.3 1 -0.7 1 1 1 -2.3 1 1.5 1 1.8 1 0.6 1 -1.1 1 -0.8 1 -1.3 1 0.1 1 1.3 1 -1.1 1 -1.3 1 0 1 -0.3 1 -1.2 1 0.9 1 0.7 1 1.8 1 0.7 1 -1.9 1 -6.7 1 1.2 1 3.3 1 1.2 1 2.4 1 1.9 1 -2.4 1 -0.9 1 2.1 1 3.3 1 -0.6 1 -2.9 1 1 1 3.4 1 0.1 1 -0.5 1 1.8 1 -1.6 1 -2.6 1 1.6 1 0.3 1 -2.8 1 -1.4 1 3.5 1 2.7 1 -2 1 -2.2 1 2.7 1 -2.6 1 3.2 1 1.9 1 -0.4 1 -1.7 1 0.1 1 2 1 -2.3 1 1.9 1 7.4 1 0.6 1 -0.3 1 -1.9 1 2.6 1 -0.4 1 -2.8 1 -3.8 1 3.2 1 4 1 -0.2 1 1.2 1 1.7 1 0.3 1 2 1 3.4 1 4.3 1 0 1 -0.3 1 -6.1 1 -12.8 1 -0.8 1 -1.3 1 -3.4 1 -0.7 1 -0.6 1 3.9 1 1.5 1 -1.7 1 0.7 1 -1.4 1 -0.6 1 2.3 1 5.3 1 1.1 1 -4.1 1 -2.1 1 0.8 1 -0.3 1 0.1 1 -1.2 1 -1.3 1 -1.9 1 -2.8 1 0.2 1 1.1 1 2.6 1 1.2 1 1.8 1 0.1 1 1.6 1 -0.5 1 -2 1 -0.1 1 0.8 1 4 1 2.3 1 -1.2 1 -0.3 1 0.6 1 -1.6 1 1.2 1 -3.7 1 1.5 1 8.4 1 -0.5 1 -3.2 1 0.6 1 -2.9 1 -4.8 1 -6.2 1 -0.1 1 2.8 1 1.6 1 2.4 1 1.4 1 0.9 1 -3.4 1 -1.1 1 -1.6 1 3.5 1 3.4 1 -1.1 1 1.3 1 -1.9 1 -2.4 1 0.4 1 0.4 1 1.1 1 2.7 1 -0.4 1 -2.6 1 0.1 1 1.8 1 1.1 1 3.3 1 1.9 1 -2.8 1 -2.6 1 -1.7 1 -1.6 1 -0.4 1 0.2 1 -0.2 1 0.7 1 0.7 1 -1.8 1 -0.8 1 0.4 1 3.6 1 4.3 1 5.1 1 -3.2 1 -7.1 1 -7.5 1 2.6 1 0.3 1 -3.8 1 2 1 -0.2 1 -1.6 1 0.4 1 0.3 1 -0.5 1 1 1 -0.9 1 0.7 1 0.8 1 1.2 1 0.5 1 -1.4 1 -0.2 1 4.9 1 -0.5 1 -2.1 1 -0.9 1 1.9 1 1.6 1 -1.9 1 -1.3 1 5.2 1 1.2 1 -4.4 1 1.7 1 -1.9 1 -1.7 1 -1.4 1 -3.3 1 3.3 1 1.5 1 -1.6 1 0.6 1 3 1 2.8 1 2.3 1 -1.9 1 0.5 1 -1.4 1 0.7 1 -3 1 -2.2 1 2.1 1 -0.2 1 2.5 1 1.2 1 -12.5 1 -1 1 3.1 1 -0.6 1 -0.7 1 -3.3 1 -2 1 1.4 1 1.8 1 -1.2 1 -2.2 1 -1.1 1 -1.1 1 1 1 2.4 1 -2.3 1 -2 1 0.7 1 1.1 1 -0.8 1 -1.9 1 -1.3 1 -1.5 1 -3.2 1 1.1 1 1.8 1 -1.3 1 1.5 1 2.5 1 -0.3 1 1.1 1 3 1 -1.9 1 -1.6 1 1.1 1 -1.8 1 -2 1 -0.6 1 -2.8 1 -2.5 1 2.1 1 1.2 1 -0.2 1 -0.5 1 2.2 1 1.3 1 -0.5 1 -1.6 1 -0.2 1 -2 1 2.2 1 1.2 1 -3 1 -0.8 1 -0.3 1 -2.7 1 -0.1 1 1.4 1 -1.8 1 -4.7 1 0.4 1 0.2 1 -0.2 1 -0.2 1 0.9 1 0.8 1 -1.1 1 1 1 -0.9 1 -2 1 1.3 1 0.3 1 11.4 1 5.2 1 0 1 0.4 1 2.4 1 0 1 -2.6 1 0.4 1 0.4 1 -2.2 1 -1.1 1 -2.1 1 0 1 2.4 1 1.4 1 -3.7 1 -1.6 1 -0.2 1 1.5 1 1.1 1 0.7 1 1.7 1 -0.3 1 -0.4 1 -2.2 1 -1.4 1 -1.2 1 0.6 1 -1.2 1 -3.2 1 -1.7 1 2.1 1 -2.1 1 -0.9 1 0.4 1 0.6 1 1.4 1 -0.7 1 2.8 1 3.1 1 -0.2 1 -1.8 1 -1.1 1 -0.2 1 1.5 1 0.3 1 -1.1 1 2.4 1 -1.1 1 -1.3 1 -1 1 -4.1 1 -1 1 0.9 1 0.2 1 -0.4 1 -0.2 1 -0.8 1 -1.2 1 1.8 1 -1.2 1 0.7 1 -0.5 1 -1.6 1 -0.9 1 0.9 1 1.8 1 1 1 -0.6 1 -1.7 1 -0.6 1 -0.3 1 -1 1 -1.3 1 2.1 1 -2 1 -0.3 1 1.2 1 0 1 -1.3 1 -1.3 1 9.4 1 10.6 1 -1.5 1 -1.6 1 -0.5 1 -3.7 1 -3 1 -1.4 1 1 1 0.1 1 3.8 1 12 1 5.6 1 2.5 1 2.6 1 0.6 1 -10.4 1 0.2 1 -0.8 1 -1.7 1 3.1 1 1.1 1 0.1 1 -1.8 1 2.3 1 -0.5 1 -1.5 1 -2.5 1 3 1 2.7 1 -4.6 1 -1.5 1 0.2 1 0.7 1 2.8 1 -1.1 1 -4.6 1 -0.3 1 3.6 1 0.2 1 -1 1 -2.1 1 -3 1 -0.8 1 -1.8 1 3.7 1 5.7 1 3.5 1 3.4 1 -4.5 1 -1.5 1 1.8 1 -0.1 1 -3.6 1 -1.8 1 1.9 1 -0.5 1 -3.3 1 0.4 1 2.2 1 -2.9 1 -10.1 1 -4.4 1 1.5 1 2.5 1 1.8 1 2.1 1 -1.8 1 -3" stroke="#EAB839" stroke-width="1" fill="none" stroke-linejoin="round"/><path d="M54 150.7l1 2.2 1 1.1 1 3.3 1 1.5 1 -1.8 1 -1.6 1 2.9 1 2 1 0.1 1 -1.3 1 0.7 1 -0.5 1 1.5 1 -0.8 1 -4.2 1 -2.4 1 -4.5 1 -5.9 1 4.9 1 4.7 1 -0.4 1 -2.2 1 1.6 1 -1.3 1 -3.3 1 2.2 1 -0.1 1 1.4 1 1.8 1 -5.2 1 -5.4 1 -1.9 1 -0.3 1 2.6 1 3.3 1 2.2 1 3.9 1 2.8 1 0.4 1 -1.6 1 -2.4 1 -1.9 1 -2.6 1 -1 1 -0.3 1 -0.4 1 -3.7 1 -6.2 1 2.1 1 2.7 1 0.6 1 4.9 1 5.7 1 4.9 1 0.2 1 -2.8 1 -1 1 1 1 0.5 1 -2.8 1 -0.4 1 -1 1 -2.3 1 -1.7 1 -1.1 1 0.3 1 2.6 1 3.1 1 1.2 1 1.2 1 0.9 1 -3 1 -1.6 1 -1.7 1 -1.9 1 -3.8 1 -1.7 1 -4 1 -1.2 1 0.1 1 -1.2 1 3.4 1 1.5 1 -4 1 1 1 3.9 1 1.5 1 -3.5 1 -2.5 1 -0.2 1 -0.6 1 -0.4 1 2.9 1 1.4 1 -0.4 1 0.9 1 1.3 1 2.8 1 0.4 1 0.2 1 0.4 1 -0.6 1 -1.8 1 2.8 1 1.9 1 -0.1 1 2.9 1 -0.5 1 1 1 -0.5 1 1.5 1 -2.6 1 -1.9 1 2.5 1 -1 1 -0.9 1 1.7 1 1.9 1 2.4 1 3.1 1 -1.1 1 0.1 1 0 1 0.4 1 1.5 1 2.8 1 -1.3 1 0.5 1 -0.8 1 -1.2 1 -1 1 1.6 1 2.8 1 2.7 1 1.7 1 1.2 1 2.9 1 2.5 1 -3.4 1 -0.7 1 2.4 1 -3 1 -5.6 1 -2.7 1 -4.2 1 -1.7 1 2.4 1 -1.2 1 -1.6 1 -1.5 1 -0.1 1 -1.9 1 -1.4 1 -1 1 1.7 1 2.1 1 -1.6 1 0.2 1 -1.3 1 -2.4 1 -0.7 1 0 1 5.2 1 -4 1 -0.4 1 0.5 1 -1.2 1 0.9 1 -0.3 1 1.8 1 5.2 1 0.3 1 0.2 1 1.6 1 -1 1 -2.7 1 -2.1 1 -1.2 1 -1.1 1 -3.4 1 0.5 1 -0.7 1 0.5 1 0.4 1 -3.7 1 -4.3 1 1.3 1 3.3 1 -0.7 1 1.5 1 -0.3 1 -3.7 1 0.3 1 2.7 1 0.1 1 0 1 -0.4 1 -1.9 1 -0.4 1 1.6 1 -0.7 1 1.1 1 4.1 1 1.7 1 0.6 1 -0.9 1 -0.6 1 -0.1 1 1 1 0.6 1 -0.8 1 1 1 1.2 1 -0.6 1 -1.5 1 3.4 1 2.5 1 2.7 1 1.7 1 0.9 1 1.1 1 -1.1 1 -0.9 1 -0.5 1 0.3 1 -3.2 1 -2.9 1 -0.7 1 -3.7 1 -1.4 1 3.6 1 0.1 1 -3.4 1 -2.5 1 1.9 1 2.7 1 -0.5 1 4.4 1 3.2 1 1.2 1 1 1 -0.5 1 -1.8 1 -1 1 1.4 1 1.3 1 1.5 1 -2.1 1 1.3 1 0.7 1 1.9 1 5.2 1 0.2 1 -1.3 1 1.7 1 -1.1 1 -3.1 1 1.1 1 -1.5 1 -3.2 1 -3.3 1 -1 1 -0.6 1 -0.6 1 -3.3 1 -1.8 1 -1 1 -3.6 1 -0.7 1 1.1 1 4.1 1 0.1 1 -0.4 1 0.2 1 0.2 1 0.2 1 0.7 1 2.4 1 3.2 1 2.7 1 -0.1 1 -0.2 1 -1.2 1 0.5 1 2.3 1 2.5 1 -4.5 1 -4 1 -1.6 1 2.1 1 0.5 1 -1.6 1 0.2 1 0.1 1 -1.4 1 -1.1 1 2.3 1 1.5 1 1.9 1 0 1 2.4 1 0.7 1 -1 1 1.5 1 2.5 1 -0.7 1 -1.7 1 2 1 -0.1 1 -4.3 1 -1.4 1 0.2 1 0.5 1 -1.7 1 1 1 2.5 1 0.6 1 4 1 1 1 -1.4 1 1.3 1 0.1 1 -3.9 1 -1.9 1 -0.1 1 3.3 1 2.6 1 -1.3 1 -2.2 1 1.1 1 3.6 1 2.9 1 1.1 1 1.8 1 -4.9 1 -5.7 1 -2.3 1 0.3 1 0.3 1 1.7 1 1.1 1 -3.7 1 -5 1 -3.5 1 -1.1 1 -4.3 1 2.8 1 5.4 1 1.3 1 -1.6 1 -2.3 1 -0.2 1 0.3 1 3.5 1 1.7 1 -4 1 -2.7 1 -0.3 1 0.3 1 -1.2 1 -1.3 1 0.2 1 -0.2 1 1.7 1 -0.6 1 -0.8 1 2.8 1 2.2 1 0.1 1 0.7 1 -0.8 1 -1.7 1 1.6 1 3 1 -2.2 1 -1.3 1 -3.1 1 -5.1 1 0.4 1 3.2 1 3.6 1 2.7 1 3.3 1 -1.2 1 -3.1 1 0.9 1 2.3 1 -1.8 1 -0.1 1 5 1 -0.3 1 -2.3 1 -4.7 1 -3 1 0.6 1 5.1 1 0.6 1 1.2 1 -2.1 1 -0.6 1 -1.7 1 2.1 1 0.6 1 -0.7 1 2.3 1 -2.8 1 -3.6 1 -0.9 1 -0.3 1 0.2 1 -0.1 1 0.6 1 0.9 1 -0.6 1 1.1 1 3.9 1 1.4 1 -1.6 1 1.3 1 -0.3 1 0.5 1 0.9 1 -0.5 1 0.4 1 -2.8 1 -0.6 1 -1 1 0.4 1 1.2 1 -0.7 1 0.4 1 -1.3 1 -1 1 1.6 1 2.2 1 0.4 1 -1.8 1 1.6 1 3 1 4.8 1 -2.4 1 0.2 1 4.1 1 0.8 1 -3.9 1 -0.2 1 0.2 1 -0.6 1 -0.6 1 -2.2 1 1.2 1 2.3 1 0.3 1 1.7 1 -0.3 1 0.5 1 3.7 1 6.1 1 0.7 1 1.9 1 1.2 1 0.7 1 1.2 1 0.8 1 -3.5 1 -2.7 1 -2.1 1 -0.8 1 3.1 1 -0.5 1 -3 1 0.9 1 4.4 1 0.7 1 -3.4 1 2.2 1 0.4 1 0.2 1 -2.5 1 2.3 1 2.3 1 4 1 3.8 1 -1.1 1 -2.7 1 -2.1 1 -0.3 1 3.4 1 1.4 1 -0.5 1 -1 1 -0.4 1 1.7 1 1.2 1 2.8 1 0.4 1 -3.1 1 -1.8 1 0.9 1 -0.4 1 0.4 1 0.6 1 0.1 1 1.7 1 0.2 1 0.2 1 -0.8 1 -1.1 1 0.3 1 1.4 1 0.9 1 1.5 1 -0.5 1 -1.3 1 -5.5 1 -10.5 1 -28.4 1 -4.7 1 -0.3 1 3.7 1 6.1 1 7.6 1 7 1 4.8 1 1.1 1 2.8 1 2.1 1 0.8 1 -0.6 1 0.8 1 -1.7 1 -1.9 1 2 1 1.7 1 1.4 1 2.9 1 0.2 1 0 1 0.2 1 -0.5 1 3.2 1 3.9 1 2.4 1 -1.3 1 -0.7 1 4.6 1 2.8 1 0.2 1 -11.1 1 -10.5 1 -3.3 1 -3.8 1 -2.3 1 2 1 -2 1 -0.6 1 0.8 1 -0.2 1 -1.8 1 1.9 1 1.9 1 -0.6 1 -1.6 1 -1 1 -0.8 1 2.2 1 2.4 1 0.8 1 1 1 0 1 -1.7 1 1.9 1 2.2 1 1.3 1 1 1 -1.2 1 -0.2 1 -0.4 1 -2.8 1 0.8 1 3.3 1 -0.2 1 -1.9 1 -2.1 1 0.8 1 -1.5 1 -2.5 1 -1.2 1 2.6 1 2.4 1 -0.6 1 -0.5 1 1.2 1 -1.5 1 -2.8 1 3.2 1 1.9 1 1.2 1 0.9 1 -1.9 1 -2.2 1 -0.7 1 -0.8 1 -0.6 1 4.4 1 5.2 1 3.4 1 0.1 1 2.3 1 -0.7 1 -4.1 1 -5.8 1 -4.7 1 -4.7 1 0.1 1 0.9 1 1.1 1 -2.2 1 -2.6 1 2.5 1 2.5 1 -0.3 1 2.4 1 4.8 1 1.1 1 -0.4 1 -0.5 1 0.8 1 -0.1 1 0.9 1 -2.9 1 -0.5 1 0.7 1 -0.3 1 0.7 1 -2 1 -2.7 1 -0.6 1 0 1 1.3 1 -0.4 1 2 1 4.5 1 3.1 1 -0.1 1 -1.3 1 2.1 1 1 1 -4.2 1 -2.2 1 0.6 1 -1.1 1 -3.9 1 -3.3 1 1.1 1 2.3 1 -1.7 1 -0.5 1 0.4 1 0.3 1 -1.3 1 -0.8 1 -1.2 1 0.6 1 1.6 1 2.9 1 -1 1 -1.5 1 -0.2 1 0.8 1 0 1 -1.9 1 1.5 1 3.1 1 1.9 1 -3.9 1 -2.3 1 1 1 -0.9 1 -3.4 1 -0.5 1 0.3 1 -1.3 1 -0.5 1 0.7 1 3 1 -0.7 1 -2 1 -2.5 1 -1.9 1 2.9 1 0.6 1 1.2 1 0 1 -2.8 1 -0.9 1 2.3 1 -0.7 1 -0.9 1 -0.6 1 -1.6 1 0 1 4.3 1 0.3 1 1.5 1 0.1 1 -4.4 1 -3.9 1 -0.5 1 0.3 1 1.8 1 0.3 1 -0.6 1 1.9 1 -0.6 1 1.8 1 -0.2 1 0.1 1 0.8 1 0.3 1 -0.8 1 -0.4 1 4 1 4.7 1 1.1 1 -1.2 1 -1.1 1 -0.3 1 0.8 1 -2 1 -0.4 1 -0.5 1 -0.9 1 -1 1 -1.3 1 -1 1 3.9 1 2.5 1 -2.9 1 0.1 1 2 1 -0.1 1 -2.6 1 1.1 1 0.3 1 -2 1 -0.5 1 -1.1 1 -2.9 1 0.7 1 1.5 1 0.8 1 -3 1 1.4 1 2.2 1 -0.4 1 -1.7 1 -4.3 1 -5.9 1 -1 1 -0.3 1 0.9 1 1.2 1 -2.4 1 -0.8 1 1.4 1 -0.7 1 1.9 1 3.4 1 2.5 1 1.5 1 -2.1 1 -0.7 1 1.6 1 -0.4 1 -1.7 1 -1.3 1 -3.8 1 1.2 1 4.4 1 1.2 1 1 1 0.6 1 1.7 1 2 1 2.8 1 0.9 1 1.1 1 -1.4 1 -2.3 1 1.4 1 1 1 -0.7 1 -0.3 1 2.8 1 -2.6 1 -2.8 1 0.4 1 2.6 1 0.8 1 0.2 1 0.7 1 0.4 1 1 1 -0.5 1 2 1 3 1 -0.9 1 -5.3 1 -0.7 1 1.2 1 1.2 1 -2.3 1 -0.3 1 -0.9 1 -2.6 1 -0.8 1 -0.7 1 -2.1 1 0.7 1 2.1 1 1.1 1 -2.1 1 -1.7 1 3 1 1.7 1 -1.6 1 -2.4 1 -0.9 1 0.3 1 -3.4 1 -1.9 1 2 1 2.7 1 -0.9 1 -1.5 1 -1 1 1.9 1 0 1 3.5 1 3.9 1 -2.1 1 -2.1 1 1.1 1 1.7 1 -0.9 1 -4.4 1 -2.3 1 1.3 1 0.4 1 0.6 1 0.7 1 -1 1 -0.9 1 -0.2 1 3.7 1 0.5 1 -3.4 1 -1.8 1 1.4 1 0.7 1 -3 1 1 1 1.7 1 -0.3 1 0.4 1 -0.6 1 -0.5 1 0.2 1 -1.2 1 -0.6 1 2.5 1 0.4 1 -2.4 1 0.7 1 0.8 1 -1.2 1 -0.1 1 0.6 1 6.1 1 3.8 1 -0.3 1 -1.1 1 1.6 1 -0.5 1 0.8 1 0.5 1 -1.6 1 1.3 1 -0.2 1 0.5 1 -3.2 1 -3.7 1 0 1 1 1 2.3 1 0 1 -2.5 1 -0.7 1 3.7 1 1 1 -0.1 1 0.9 1 2.1 1 0.9 1 3.2 1 4.3 1 -0.5 1 -2.2 1 1.7 1 -1.7 1 1 1 2.9 1 -1.2 1 -0.7 1 -1 1 -0.6 1 -3.7 1 -4.9 1 -0.6 1 0.6 1 -0.2 1 1 1 -1.3 1 -1.1 1 0.1 1 1.5 1 1.2 1 1.4 1 2.8 1 3.1 1 0.1 1 1.4 1 0.9 1 1.5 1 0.3 1 -3.5 1 1.2 1 3.3 1 5.5 1 0.4 1 -5.1 1 0.6 1 0.7 1 -1.6 1 -1.8 1 1.3 1 3.9 1 3.6 1 1.1 1 -5.1 1 -5.5 1 0.1 1 -2.3 1 1 1 -2.1 1 -1.3 1 0.2 1 -2 1 -3.3 1 -2.4 1 0.5 1 2.7 1 1 1 0.1 1 1.3 1 -0.6 1 1.4 1 2.5 1 1.4 1 2.9 1 6 1 0.8 1 -9.4 1 -2.8 1 -1.5 1 -4.4 1 -4.3 1 -1.2 1 3 1 2.3 1 2.8 1 2.6 1 -1.2 1 0.6 1 -1.8 1 -2.4 1 0.1 1 0.7 1 -0.2 1 -0.8 1 -2.7 1 -1.8 1 0.8 1 -0.1 1 2.3 1 -0.3 1 0.8 1 2.1 1 0.6 1 -1.5 1 1.6 1 2.7 1 2 1 2.4 1 -0.1 1 -3.7 1 -1.7 1 -3.7 1 -0.7 1 -1.7 1 -1 1 0.5 1 -0.3 1 -3.3 1 0.4 1 1 1 2.5 1 1.1 1 2.2 1 2.3 1 1.2 1 -2.4 1 3.4 1 2.3 1 -1.2 1 -0.7 1 -0.6 1 -1.7 1 0.6 1 -0.4 1 -7.2 1 -0.5 1 8.3 1 1.5 1 -8.7 1 -3.2 1 1.6 1 3 1 -1.4 1 -4.4 1 -3.1 1 1.1 1 1.3 1 2.1 1 5.2 1 1.6 1 4.4 1 4.3 1 -0.4 1 -0.2 1 4.6 1 1.4 1 -1.5 1 1 1 -1.4 1 -1.2 1 -1.4 1 -6.7 1 -0.7 1 0.2 1 -1.3 1 -1 1 -1.4 1 -1.8 1 -1.1 1 -1.4 1 3.5 1 2.4 1 5 1 4.2 1 2.8 1 5.2 1 3.5 1 0.6 1 2.5 1 2.8 1 -3.1 1 -5.4 1 -0.9 1 -3.3 1 -8.1 1 -3.8 1 -0.1 1 0.5 1 2 1 3.1 1 1.8 1 -1.8 1 -1.6 1 -1 1 0.3 1 -0.4 1 2.2 1 1.5 1 -1.2 1 -1.7 1 -1.7 1 -1.2 1 -0.9 1 -0.2 1 0.1 1 -0.9 1 1 1 -3.3 1 -3.1 1 -0.9 1 0.1 1 0.6 1 0 1 -0.7 1 -5.2 1 -4 1 -1.7 1 -2.1 1 5.1 1 4.6 1 0.5 1 -1.4 1 3.5 1 3.4 1 -1.1 1 0.1 1 2.2 1 1.3 1 -1.5 1 -1.5 1 -0.4 1 -1.6 1 -3 1 0.6 1 2.6 1 1 1 2.3 1 3.5 1 2.3 1 -3.1 1 0.3 1 0.5 1 1.2 1 0.5 1 -1.9 1 -1.5 1 -1.2 1 1.7 1 1.8 1 -1.7 1 -2.8 1 -0.5 1 -1.9 1 -3.7 1 -5.8 1 -5 1 -4.3 1 2.5 1 4.2 1 -4.4 1 0.9 1 0.3 1 -0.2 1 0.7 1 2 1 1.1 1 -0.8 1 -0.2 1 2.4 1 -0.3 1 0.3 1 1.2 1 0.7 1 -1.1 1 -1.5 1 1.2 1 0.5 1 -1.2 1 -2.7 1 5.9 1 14.1 1 0.2 1 -2.6 1 1.1 1 0 1 -1.5 1 -1.7 1 1.7 1 2.6 1 1.3 1 -3.1 1 -4.5 1 -3.5 1 -2.2 1 -0.4 1 1.6 1 3.3 1 1.9 1 -1.5 1 -0.8 1 0.2 1 0.1 1 3.4 1 1.5 1 -3.9 1 -1.3 1 3.5 1 0.1 1 -3.3 1 -2 1 -0.9 1 -0.3 1 0.8 1 1.7 1 0.3 1 -0.6 1 -0.7 1 -3.3 1 -3.7 1 1.4 1 1.3 1 0.3 1 -0.2 1 -2.7 1 2.3 1 4.8 1 1.4 1 0 1 0.5 1 -0.9 1 -4.2 1 -3.4 1 1.7 1 -0.2 1 -1.3 1 0.7 1 -0.8 1 -4.5 1 -0.9 1 1.1 1 -2.8 1 1.3 1 4.7 1 1.7 1 -0.4 1 0.8 1 -1.6 1 1 1 6 1 6.6 1 4.4 1 -0.6 1 0.9 1 0.7 1 -3.8 1 0.3 1 -2.2 1 -2.2 1 -1 1 -2.1 1 -1.7 1 -3.7 1 -3 1 -0.6 1 7.3 1 6.9 1 4.9 1 3.2 1 4.4 1 2.6 1 -0.4 1 -3.1 1 -1.8 1 0 1 -0.4 1 -3.6 1 3.7 1 4.2 1 5.2 1 2.2 1 0.5 1 -1.6 1 -1.3 1 -2.2 1 -1.6 1 0.9 1 -1.5 1 -4 1 0.9 1 -0.3 1 2.6 1 1.9 1 0 1 -0.8 1 -1 1 2.5 1 -0.1 1 1.4 1 -2.5 1 -3.3 1 2.6 1 3.9 1 2.2 1 -1.1 1 -1.2 1 0.4 1 4.8 1 -0.2 1 -3.9 1 -3.2 1 -0.4 1 5.3 1 1.8 1 -3.7 1 -1.5 1 -1.8 1 -0.6 1 0.4 1 -2.6 1 1.8 1 1.9 1 0.6 1 -0.7 1 -1 1 -1.2 1 0.9 1 1.6 1 -1.3 1 -1.2 1 0.4 1 0.2 1 -0.8 1 1.1 1 0.7 1 2.1 1 -1.1 1 -3.8 1 -7.6 1 2.6 1 3 1 -0.1 1 2.3 1 2.2 1 -2.4 1 -0.9 1 1 1 2.5 1 0.3 1 -1 1 1 1 2.1 1 -0.2 1 -0.5 1 1 1 -1.5 1 -1.7 1 2.7 1 0.5 1 -3.3 1 -2.2 1 2.9 1 3 1 -1.8 1 -2.7 1 3.3 1 -2.2 1 3 1 2 1 -0.1 1 -1.8 1 -0.3 1 1.9 1 -1.9 1 1.9 1 7.1 1 0.4 1 0.1 1 -2.2 1 2.5 1 1.3 1 -1.3 1 -4.7 1 -3.3 1 -1.4 1 -3.5 1 0 1 1.1 1 0.4 1 2 1 2.2 1 2.3 1 -1.4 1 -0.7 1 0.9 1 -1.8 1 -0.8 1 -1.1 1 -3.3 1 -1 1 -0.5 1 3.6 1 1 1 -1.6 1 1.2 1 -0.9 1 -0.4 1 1.9 1 4.7 1 0.6 1 -4.2 1 -1.9 1 1.2 1 -0.2 1 -0.3 1 -1.4 1 -1.4 1 -2.4 1 -2.6 1 0.8 1 0.9 1 2 1 0.8 1 2.3 1 0.8 1 1.9 1 -0.7 1 -2.3 1 0 1 1 1 3.8 1 1.9 1 -1 1 -0.5 1 0 1 -1.3 1 2.4 1 -3.3 1 1 1 7.3 1 -0.9 1 -2 1 1.5 1 -3.6 1 -5 1 -4.8 1 0.2 1 2.1 1 1 1 0.8 1 1.2 1 1.6 1 -2.1 1 -0.9 1 -2.5 1 2.3 1 2.9 1 -1.4 1 1.1 1 -1.4 1 -1.3 1 0.7 1 0.2 1 1 1 1.7 1 -0.8 1 -1.2 1 0.9 1 1.7 1 1.1 1 3.5 1 1.5 1 -3.3 1 -2.7 1 -1 1 -0.6 1 -0.1 1 0.1 1 -0.1 1 -0.1 1 0.2 1 -2 1 -1.9 1 -0.2 1 3.6 1 4.1 1 4.7 1 -2.5 1 -5.3 1 -6.4 1 2.1 1 0.2 1 -3.4 1 3 1 0.2 1 -2.3 1 -0.1 1 0.4 1 -0.8 1 0.9 1 -0.3 1 1.6 1 0.9 1 0.6 1 0.4 1 -0.4 1 1 1 4.5 1 -0.7 1 -2.1 1 -1.8 1 1.1 1 1.2 1 -2.1 1 -1.9 1 4.8 1 0.6 1 -5 1 1.5 1 -0.6 1 -0.7 1 -1.7 1 -4.3 1 1.8 1 0.9 1 -3.1 1 -0.9 1 2.4 1 3.3 1 1.6 1 -2.8 1 0.3 1 -1 1 0.9 1 -4.1 1 -3.1 1 2.5 1 0.3 1 2.2 1 0.4 1 -4.9 1 0.5 1 3.1 1 0 1 -0.1 1 -3.7 1 -2.3 1 2.6 1 2.9 1 -0.8 1 -2.4 1 -1.4 1 -1.7 1 0.6 1 1.6 1 -3.9 1 -2.6 1 1.2 1 1.8 1 -0.6 1 -1.9 1 -1 1 -0.7 1 -2.1 1 1.2 1 1.8 1 -1.1 1 1.4 1 1.6 1 -0.4 1 1.7 1 2.9 1 -2.5 1 -2 1 0.8 1 -1.6 1 -1.5 1 0.2 1 -2.6 1 -2.2 1 2.5 1 0.5 1 -0.9 1 -0.9 1 1.6 1 1.1 1 -0.6 1 -1.6 1 -0.3 1 -1.6 1 2.4 1 0.8 1 -3.3 1 -0.3 1 0.5 1 -2.7 1 -1.2 1 1 1 -0.8 1 -4 1 0.4 1 0.2 1 0.4 1 0.1 1 0.2 1 0.8 1 -0.2 1 1 1 -0.9 1 -1.5 1 2.6 1 -0.1 1 9.6 1 5.7 1 0.8 1 0.1 1 1.7 1 -0.8 1 -2.6 1 1.4 1 0.7 1 -2.3 1 -1.5 1 -2.1 1 0 1 2.9 1 2.6 1 -4.1 1 -3 1 -1 1 0.8 1 1.2 1 1.2 1 0.8 1 -1.1 1 1.2 1 -0.5 1 -1.4 1 -1.7 1 0.9 1 -1 1 -3.3 1 -2.2 1 1.9 1 -1.7 1 -0.7 1 0.1 1 0 1 1 1 -0.4 1 2.7 1 2.8 1 -0.8 1 -2.1 1 -1.2 1 0.3 1 2.1 1 0.4 1 -1.3 1 2 1 -1.5 1 -1.9 1 -1.2 1 -3.8 1 -1.7 1 0.3 1 1.6 1 0.6 1 0.1 1 -0.6 1 -0.5 1 2.2 1 -1.5 1 0.3 1 -0.7 1 -1.7 1 -0.3 1 1.3 1 1.4 1 0.2 1 -1.8 1 -2.2 1 -0.7 1 0.1 1 0 1 -0.8 1 2.5 1 -2.2 1 -1 1 0.9 1 0.2 1 -0.5 1 -0.3 1 10.9 1 11 1 -1.7 1 -1.4 1 0.1 1 -3.3 1 -3.9 1 -2.1 1 1.1 1 0.1 1 3.5 1 12.8 1 6.1 1 1.3 1 1.4 1 0.9 1 -10.9 1 -1.3 1 -0.4 1 0.1 1 3.9 1 0.7 1 -0.2 1 -2.2 1 2.1 1 0.2 1 -0.2 1 -2.2 1 1.7 1 1.4 1 -4 1 -0.9 1 -0.2 1 0.4 1 3.2 1 -1.1 1 -5.7 1 -1 1 3.7 1 0.1 1 -1 1 -1.5 1 -2.8 1 -1.1 1 -1.8 1 1.6 1 3.4 1 1.2 1 1.7 1 -4.6 1 -1.8 1 2.4 1 0.1 1 -3.8 1 -2.5 1 2.3 1 0.8 1 -2.4 1 0.5 1 1.2 1 -2.7 1 -2.1 1 0.2 1 0.9 1 1.8 1 1.9 1 2.2 1 -2.1 1 -2.5" stroke="#6ED0E0" stroke-width="1" fill="none" stroke-linejoin="round"/>
</svg>
<div class="t" style="left:18.40px;top:101.24px;font-size:12px;letter-spacing:-0.265px;-webkit-text-stroke:0.25px #c7d0d9;color:#c7d0d9;">240 V</div>
<div class="t" style="left:18.40px;top:139.84px;font-size:12px;letter-spacing:-0.265px;-webkit-text-stroke:0.25px #c7d0d9;color:#c7d0d9;">235 V</div>
<div class="t" style="left:18.40px;top:178.44px;font-size:12px;letter-spacing:-0.265px;-webkit-text-stroke:0.25px #c7d0d9;color:#c7d0d9;">230 V</div>
<div class="t" style="left:18.40px;top:217.04px;font-size:12px;letter-spacing:-0.265px;-webkit-text-stroke:0.25px #c7d0d9;color:#c7d0d9;">225 V</div>
<div class="t" style="left:56.55px;top:229.84px;font-size:12px;letter-spacing:0.030px;-webkit-text-stroke:0.25px #c7d0d9;color:#c7d0d9;">23:00</div>
<div class="t" style="left:129.86px;top:229.84px;font-size:12px;letter-spacing:0.030px;-webkit-text-stroke:0.25px #c7d0d9;color:#c7d0d9;">00:00</div>
<div class="t" style="left:203.11px;top:229.84px;font-size:12px;letter-spacing:0.030px;-webkit-text-stroke:0.25px #c7d0d9;color:#c7d0d9;">01:00</div>
<div class="t" style="left:276.36px;top:229.84px;font-size:12px;letter-spacing:0.030px;-webkit-text-stroke:0.25px #c7d0d9;color:#c7d0d9;">02:00</div>
<div class="t" style="left:349.61px;top:229.84px;font-size:12px;letter-spacing:0.030px;-webkit-text-stroke:0.25px #c7d0d9;color:#c7d0d9;">03:00</div>
<div class="t" style="left:422.86px;top:229.84px;font-size:12px;letter-spacing:0.030px;-webkit-text-stroke:0.25px #c7d0d9;color:#c7d0d9;">04:00</div>
<div class="t" style="left:496.11px;top:229.84px;font-size:12px;letter-spacing:0.030px;-webkit-text-stroke:0.25px #c7d0d9;color:#c7d0d9;">05:00</div>
<div class="t" style="left:569.36px;top:229.84px;font-size:12px;letter-spacing:0.030px;-webkit-text-stroke:0.25px #c7d0d9;color:#c7d0d9;">06:00</div>
<div class="t" style="left:642.61px;top:229.84px;font-size:12px;letter-spacing:0.030px;-webkit-text-stroke:0.25px #c7d0d9;color:#c7d0d9;">07:00</div>
<div class="t" style="left:715.86px;top:229.84px;font-size:12px;letter-spacing:0.030px;-webkit-text-stroke:0.25px #c7d0d9;color:#c7d0d9;">08:00</div>
<div class="t" style="left:789.11px;top:229.84px;font-size:12px;letter-spacing:0.030px;-webkit-text-stroke:0.25px #c7d0d9;color:#c7d0d9;">09:00</div>
<div class="t" style="left:862.15px;top:229.84px;font-size:12px;letter-spacing:0.030px;-webkit-text-stroke:0.25px #c7d0d9;color:#c7d0d9;">10:00</div>
<div class="t" style="left:935.85px;top:229.84px;font-size:12px;letter-spacing:0.029px;-webkit-text-stroke:0.25px #c7d0d9;color:#c7d0d9;">11:00</div>
<div class="t" style="left:1008.65px;top:229.84px;font-size:12px;letter-spacing:0.030px;-webkit-text-stroke:0.25px #c7d0d9;color:#c7d0d9;">12:00</div>
<div class="t" style="left:1081.90px;top:229.84px;font-size:12px;letter-spacing:0.030px;-webkit-text-stroke:0.25px #c7d0d9;color:#c7d0d9;">13:00</div>
<div class="t" style="left:1155.15px;top:229.84px;font-size:12px;letter-spacing:0.030px;-webkit-text-stroke:0.25px #c7d0d9;color:#c7d0d9;">14:00</div>
<div class="t" style="left:1228.40px;top:229.84px;font-size:12px;letter-spacing:0.030px;-webkit-text-stroke:0.25px #c7d0d9;color:#c7d0d9;">15:00</div>
<div class="t" style="left:1301.65px;top:229.84px;font-size:12px;letter-spacing:0.030px;-webkit-text-stroke:0.25px #c7d0d9;color:#c7d0d9;">16:00</div>
<div class="t" style="left:1374.90px;top:229.84px;font-size:12px;letter-spacing:0.030px;-webkit-text-stroke:0.25px #c7d0d9;color:#c7d0d9;">17:00</div>
<div class="t" style="left:1448.15px;top:229.84px;font-size:12px;letter-spacing:0.030px;-webkit-text-stroke:0.25px #c7d0d9;color:#c7d0d9;">18:00</div>
<div class="t" style="left:1521.40px;top:229.84px;font-size:12px;letter-spacing:0.030px;-webkit-text-stroke:0.25px #c7d0d9;color:#c7d0d9;">19:00</div>
<div class="t" style="left:1594.80px;top:229.84px;font-size:12px;letter-spacing:0.030px;-webkit-text-stroke:0.25px #c7d0d9;color:#c7d0d9;">20:00</div>
<div class="t" style="left:1668.05px;top:229.84px;font-size:12px;letter-spacing:0.030px;-webkit-text-stroke:0.25px #c7d0d9;color:#c7d0d9;">21:00</div>
<div class="t" style="left:1741.30px;top:229.84px;font-size:12px;letter-spacing:0.030px;-webkit-text-stroke:0.25px #c7d0d9;color:#c7d0d9;">22:00</div>
<div class="dash" style="left:30.5px;top:262px;background:#7EB26D;"></div>
<div class="dash" style="left:201.3px;top:262px;background:#EAB839;"></div>
<div class="dash" style="left:371.7px;top:262px;background:#6ED0E0;"></div>
<div class="t" style="left:47.44px;top:255.84px;font-size:12px;letter-spacing:-0.273px;-webkit-text-stroke:0.25px #d8d9e0;color:#d8d9e0;">Phase 1</div>
<div class="t" style="left:96.40px;top:255.84px;font-size:12px;letter-spacing:-0.183px;-webkit-text-stroke:0.25px #d8d9e0;color:#d8d9e0;">Current: 235.27 V</div>
<div class="t" style="left:218.14px;top:255.84px;font-size:12px;letter-spacing:-0.163px;-webkit-text-stroke:0.25px #d8d9e0;color:#d8d9e0;">Phase 2</div>
<div class="t" style="left:267.10px;top:255.84px;font-size:12px;letter-spacing:-0.145px;-webkit-text-stroke:0.25px #d8d9e0;color:#d8d9e0;">Current: 235.18 V</div>
<div class="t" style="left:388.64px;top:255.84px;font-size:12px;letter-spacing:-0.150px;-webkit-text-stroke:0.25px #d8d9e0;color:#d8d9e0;">Phase 3</div>
<div class="t" style="left:437.20px;top:255.84px;font-size:12px;letter-spacing:-0.164px;-webkit-text-stroke:0.25px #d8d9e0;color:#d8d9e0;">Current: 233.86 V</div>
<div class="t" style="left:869.19px;top:296.15px;font-size:14px;font-weight:bold;letter-spacing:-0.329px;color:#d8d9e0;">EM3 - Ampere</div>
<svg width="1843" height="130" viewBox="0 328 1843 130" style="top:328px">
<path d="M48 335.5H1812M48 364.5H1812M48 393.5H1812M48 422.5H1812M48 451.5H1812M65.5 335 V452M139.5 335 V452M212.5 335 V452M286.5 335 V452M359.5 335 V452M433.5 335 V452M506.5 335 V452M580.5 335 V452M653.5 335 V452M727.5 335 V452M800.5 335 V452M874.5 335 V452M947.5 335 V452M1021.5 335 V452M1094.5 335 V452M1168.5 335 V452M1241.5 335 V452M1315.5 335 V452M1388.5 335 V452M1462.5 335 V452M1535.5 335 V452M1609.5 335 V452M1682.5 335 V452M1756.5 335 V452" stroke="rgba(200,200,200,0.22)" stroke-width="1" fill="none"/>
<path d="M48 440.7l1 0.2 1 -0.3 1 -0.7 1 1 1 -0.2 1 -0.4 1 0.5 1 -0.1 1 -0.1 1 -0.1 1 0.2 1 -0.5 1 0.2 1 -0.1 1 0.5 1 -0.3 1 -0.1 1 -0.3 1 0.3 1 0.1 1 -0.1 1 0.7 1 -0.1 1 -1.7 1 0.3 1 0.8 1 -0.1 1 0.3 1 0 1 0.9 1 -1.5 1 0.3 1 1.1 1 -0.6 1 0 1 -0.5 1 -0.5 1 0.8 1 -0.1 1 -0.6 1 0.3 1 0.3 1 -0.4 1 0.4 1 0 1 0 1 -0.2 1 0.5 1 0.1 1 -0.3 1 -0.5 1 0.7 1 -0.5 1 0.6 1 -0.9 1 0.9 1 -0.4 1 -0.6 1 0.5 1 0.1 1 0.1 1 -0.5 1 -0.1 1 0.6 1 -0.3 1 0.3 1 0.2 1 -1 1 0.8 1 0.5 1 -0.7 1 -0.3 1 0.7 1 -0.2 1 0.3 1 -0.6 1 -0.5 1 0.7 1 -0.2 1 0.5 1 -0.2 1 -0.8 1 0.2 1 0.9 1 -0.1 1 -0.6 1 0.3 1 0.2 1 0 1 0.2 1 -0.3 1 -0.1 1 -0.1 1 0.6 1 -1.5 1 0.9 1 0.1 1 -0.6 1 0.7 1 -0.4 1 0.7 1 -0.5 1 0.4 1 0.2 1 -0.3 1 -0.6 1 -0.3 1 1.5 1 -0.9 1 -0.2 1 0.4 1 -0.2 1 0.5 1 -0.4 1 0 1 -0.3 1 0.5 1 -0.7 1 0.8 1 0.4 1 -1.4 1 -0.4 1 1.4 1 0.8 1 -1.6 1 -0.1 1 0.9 1 -0.7 1 0.2 1 0 1 0.4 1 -0.4 1 0.3 1 -0.2 1 -0.3 1 0.3 1 -0.3 1 0.4 1 -0.5 1 0 1 1.2 1 -0.7 1 0 1 0.2 1 -0.4 1 0.1 1 0.3 1 -0.1 1 -0.6 1 0.9 1 -0.7 1 -0.2 1 0.1 1 0.2 1 0.9 1 -1.2 1 0.6 1 -1.1 1 1 1 0.4 1 -0.5 1 -0.2 1 0.4 1 0.2 1 0 1 0.6 1 -0.8 1 -0.4 1 0.2 1 0.1 1 0 1 0 1 0.1 1 -0.9 1 1.2 1 -0.7 1 -0.2 1 0.8 1 0.3 1 -0.4 1 -0.1 1 -0.5 1 1.7 1 -0.9 1 -0.9 1 0.1 1 0.4 1 -0.7 1 0.8 1 -0.3 1 0.8 1 -0.2 1 -1.6 1 1.2 1 -0.7 1 1.2 1 -0.4 1 0.1 1 -0.7 1 1.3 1 0.1 1 -1.4 1 0.7 1 -0.5 1 0.3 1 -0.6 1 1.4 1 -1.2 1 0.3 1 0.3 1 -0.5 1 0.2 1 -0.2 1 0.2 1 -0.4 1 0.3 1 0.1 1 -0.1 1 0.2 1 -0.1 1 0.4 1 -0.4 1 0 1 -0.2 1 0.1 1 -0.4 1 0.8 1 -0.7 1 0.2 1 0.5 1 0 1 -0.4 1 -0.7 1 1.1 1 -0.1 1 -0.7 1 0.9 1 -0.6 1 -0.2 1 0.5 1 -0.1 1 0.2 1 -0.8 1 1.5 1 -1.1 1 -0.4 1 1 1 -0.5 1 0.3 1 -0.3 1 0.2 1 0.1 1 -0.4 1 0.6 1 -0.5 1 -0.2 1 0.4 1 0.2 1 -0.3 1 -0.3 1 0.7 1 -1.1 1 0.3 1 0.5 1 -0.6 1 0.6 1 0 1 0.4 1 -0.8 1 0.1 1 0.4 1 -1.2 1 2.5 1 -1.7 1 0 1 0.7 1 -0.4 1 -0.8 1 1.1 1 0.1 1 -0.6 1 0.1 1 0.3 1 -0.6 1 0.6 1 -0.1 1 -0.4 1 -0.3 1 0.5 1 -0.3 1 0.9 1 -0.4 1 0.3 1 -0.3 1 0 1 -0.5 1 0.7 1 0.5 1 -0.9 1 -0.2 1 0.2 1 -0.1 1 -0.1 1 0.4 1 -0.2 1 0.7 1 -0.6 1 0.1 1 0.3 1 -0.5 1 0.7 1 -0.9 1 -0.1 1 0.2 1 0.1 1 -0.5 1 0.6 1 -0.8 1 1.4 1 -0.6 1 -0.3 1 -0.1 1 0.2 1 0.1 1 -0.4 1 0.1 1 0.3 1 -0.1 1 0.6 1 0.1 1 -0.5 1 0.2 1 -0.8 1 0.9 1 -0.3 1 0.2 1 0.5 1 -1.7 1 1.1 1 -0.6 1 0.8 1 -0.9 1 0.4 1 0.3 1 0.2 1 -0.3 1 -0.4 1 0.2 1 0.6 1 -0.4 1 -0.8 1 1.2 1 -0.2 1 0.2 1 -0.6 1 0.6 1 -0.9 1 0.8 1 -0.5 1 0.5 1 0.2 1 -0.8 1 0.3 1 0 1 0.5 1 -0.2 1 -0.8 1 0.7 1 0.1 1 0.7 1 -1.8 1 0.6 1 0.8 1 -1.2 1 0.1 1 0.7 1 0.3 1 -0.8 1 0.5 1 -0.1 1 0.6 1 -0.7 1 0.4 1 -0.8 1 0.3 1 0.1 1 0.5 1 -0.2 1 -0.6 1 0.6 1 0 1 -0.4 1 0 1 0 1 -0.7 1 0.9 1 0 1 -0.5 1 0.7 1 -0.9 1 0.4 1 0 1 1.1 1 -1.6 1 1 1 0.1 1 -0.2 1 0.3 1 -1 1 -0.5 1 1.3 1 -0.8 1 0.4 1 -0.4 1 1 1 -0.1 1 -0.7 1 0.7 1 -0.3 1 -0.2 1 0.1 1 -0.1 1 0.4 1 -0.2 1 -0.3 1 0.7 1 -0.8 1 0.4 1 0.1 1 0.5 1 -0.9 1 1 1 -0.7 1 -0.2 1 -0.2 1 0.6 1 -0.3 1 -0.5 1 0 1 0.3 1 -0.1 1 0.8 1 0.1 1 -0.2 1 -0.2 1 -0.4 1 0.2 1 0.4 1 0.6 1 -0.6 1 -0.5 1 0.1 1 -0.2 1 -0.2 1 0.3 1 0.2 1 0.7 1 -0.8 1 0.6 1 0.2 1 -0.8 1 0.7 1 -0.4 1 -0.5 1 0.3 1 -0.1 1 -0.1 1 0 1 0.2 1 0.1 1 -0.6 1 0.4 1 -0.7 1 0.8 1 0.2 1 -0.2 1 0 1 0.2 1 -0.6 1 0.2 1 0.3 1 0.3 1 -0.3 1 0.9 1 -1.1 1 0.4 1 0.2 1 -0.7 1 -0.3 1 -0.1 1 0.6 1 0.4 1 -0.4 1 0 1 -0.3 1 0.5 1 -1.3 1 1.1 1 -0.1 1 -0.6 1 1.6 1 -1.6 1 0.1 1 0 1 1 1 -0.9 1 0.7 1 0 1 -0.2 1 -0.7 1 0.3 1 1.1 1 -1.4 1 0.2 1 0.3 1 0.5 1 -0.3 1 0.2 1 -0.8 1 0.9 1 -0.1 1 -1 1 1.4 1 0.3 1 -1.3 1 0.3 1 0.6 1 -1.3 1 -0.2 1 0.3 1 0.3 1 0 1 0.6 1 -0.2 1 -0.7 1 0.9 1 0.5 1 -0.3 1 -0.1 1 -0.4 1 0.4 1 -0.8 1 0.7 1 -0.3 1 0.5 1 -0.3 1 -0.7 1 0.6 1 0.4 1 -1 1 0.2 1 0 1 -0.4 1 1.1 1 0.2 1 -0.2 1 -0.3 1 -0.1 1 0.1 1 -0.4 1 0.7 1 0.1 1 -0.1 1 -0.6 1 0.2 1 -0.1 1 0.9 1 -0.7 1 -0.9 1 1 1 0.6 1 -0.5 1 0.1 1 -0.4 1 -0.9 1 0.1 1 0.2 1 0.5 1 0.2 1 0.2 1 -0.5 1 0.6 1 -0.5 1 -0.2 1 0.7 1 -0.8 1 -0.8 1 0.7 1 0.5 1 -1.4 1 1.2 1 0.1 1 -0.5 1 -0.1 1 0.5 1 0 1 0.8 1 -0.4 1 -0.9 1 0.3 1 0.7 1 0.6 1 -0.7 1 -0.1 1 0.7 1 -0.8 1 -0.1 1 -0.5 1 0.4 1 1.2 1 -1.6 1 0.6 1 -0.6 1 0.7 1 0.3 1 -0.5 1 0.4 1 0 1 -0.1 1 0.6 1 -0.4 1 -0.5 1 -0.2 1 -0.1 1 0.6 1 -0.3 1 1.3 1 -0.4 1 -0.9 1 0 1 0.9 1 -1.6 1 0.6 1 0.6 1 -0.8 1 0.2 1 0 1 0.5 1 -0.2 1 0.1 1 0.1 1 -0.3 1 0.5 1 -0.8 1 -0.3 1 -0.2 1 0.1 1 0.5 1 0.7 1 -0.4 1 -0.4 1 -0.2 1 0.3 1 0 1 -0.1 1 -0.3 1 0.4 1 0.7 1 -1.5 1 0.9 1 -0.9 1 1.1 1 -0.4 1 -0.6 1 0.9 1 0.8 1 -0.8 1 0.5 1 -0.5 1 -1 1 1.2 1 -0.4 1 -0.5 1 1.1 1 -0.3 1 -0.3 1 0.6 1 -0.8 1 0.7 1 -0.7 1 0.6 1 -0.7 1 1.2 1 -0.6 1 0.5 1 -1 1 0.2 1 0.6 1 -1.6 1 0.7 1 1 1 -0.3 1 0.2 1 -0.5 1 0.4 1 -0.6 1 -0.3 1 -0.2 1 0.6 1 0 1 -0.1 1 -1.3 1 0.7 1 0.7 1 0.3 1 -0.4 1 -0.1 1 -0.6 1 1.9 1 -1.4 1 1.3 1 -0.1 1 -0.6 1 -0.4 1 0.4 1 -0.6 1 0.6 1 -0.1 1 0.2 1 0.2 1 0.4 1 -1 1 0.7 1 -0.9 1 0 1 0.1 1 -0.1 1 0.8 1 0 1 0.2 1 -0.6 1 0.1 1 -0.4 1 -0.2 1 0.7 1 -0.1 1 -0.6 1 0.8 1 -1.1 1 0.7 1 -0.2 1 0.1 1 -0.3 1 0.9 1 -0.1 1 0.2 1 -0.4 1 -0.7 1 0.4 1 -0.3 1 0.7 1 0.3 1 -0.4 1 -0.4 1 0.1 1 0.3 1 -0.8 1 0.8 1 0 1 -0.4 1 0.1 1 0.3 1 -0.5 1 0 1 0.7 1 -0.2 1 0.6 1 -1.2 1 -0.3 1 1.2 1 0 1 -0.7 1 -0.4 1 0.7 1 -0.8 1 0.6 1 -0.8 1 0.9 1 -0.9 1 0.9 1 0.8 1 -0.8 1 0.4 1 -0.6 1 -0.1 1 -0.3 1 1.2 1 -0.5 1 0.7 1 -1.2 1 0.4 1 0.1 1 0.6 1 0.2 1 -1.1 1 -0.2 1 -0.3 1 1.4 1 -0.7 1 -0.2 1 0.3 1 -1.2 1 0.4 1 1.2 1 -0.2 1 -0.2 1 -0.5 1 0.7 1 0.6 1 -1.4 1 0.6 1 -0.2 1 0.3 1 -0.1 1 -0.1 1 -0.3 1 0.4 1 -0.3 1 0.2 1 0 1 0.4 1 -0.6 1 0.1 1 0.7 1 -0.6 1 0 1 0.5 1 -0.3 1 -0.1 1 0.1 1 -0.7 1 0.8 1 0.4 1 -0.4 1 -0.9 1 0.8 1 -0.5 1 0.3 1 0.1 1 -0.6 1 1.2 1 -0.7 1 0.4 1 0 1 0.3 1 -0.1 1 -1.2 1 0.7 1 -1 1 0.8 1 0.5 1 0.1 1 0.2 1 -0.8 1 0.3 1 -0.1 1 0.6 1 0.1 1 -0.9 1 1.9 1 -1.7 1 -0.2 1 0.5 1 0 1 -0.1 1 -0.5 1 0.9 1 -0.6 1 0.7 1 -0.1 1 -1.2 1 0.1 1 0 1 0.6 1 -0.1 1 0.1 1 -0.5 1 0.6 1 0.4 1 -1.2 1 0.5 1 0.2 1 -0.2 1 0 1 0.9 1 -0.2 1 -0.2 1 -0.7 1 1.3 1 -0.8 1 -0.5 1 0.1 1 0 1 1.1 1 -0.8 1 -0.1 1 -1 1 1.3 1 -0.8 1 0 1 0.8 1 -0.7 1 0.8 1 0.1 1 -1.3 1 0.7 1 -0.6 1 0.7 1 0.4 1 -1 1 1.4 1 -0.9 1 -0.4 1 0.4 1 0.4 1 -0.9 1 0.6 1 -0.6 1 1.1 1 -0.4 1 -0.3 1 0.7 1 -1.1 1 0.4 1 1 1 -0.9 1 0.7 1 -0.5 1 -0.4 1 0.2 1 0.1 1 -0.2 1 -0.2 1 0 1 -0.3 1 0.7 1 0.2 1 0.1 1 -1.1 1 1.2 1 -0.4 1 -0.7 1 0.7 1 0.4 1 -0.2 1 0.1 1 0.1 1 0 1 -0.4 1 -0.9 1 0.5 1 0.6 1 -0.4 1 0.5 1 0 1 -0.3 1 0.8 1 -1.2 1 0.8 1 -0.6 1 -0.2 1 0.7 1 -0.6 1 0.7 1 -0.9 1 0.5 1 -0.4 1 0.3 1 -0.1 1 -0.3 1 0.8 1 -0.9 1 0.2 1 0.8 1 0 1 -0.1 1 -0.2 1 0.9 1 -1.6 1 0.3 1 -0.2 1 0.9 1 -0.3 1 0.4 1 -0.1 1 -0.5 1 -0.3 1 -0.1 1 1.5 1 -0.6 1 -0.1 1 -0.5 1 0.1 1 -0.1 1 0 1 -0.9 1 1.1 1 -0.2 1 0.3 1 0 1 0.3 1 -0.4 1 0.4 1 -1.6 1 0.7 1 1.3 1 -1.4 1 0.5 1 0.4 1 -0.7 1 0.7 1 -0.9 1 -0.3 1 0.3 1 -0.2 1 0.8 1 -0.1 1 0.2 1 -0.6 1 1.6 1 -1.1 1 0 1 0.2 1 -0.3 1 -0.2 1 0.3 1 0.4 1 -0.1 1 0.1 1 -0.7 1 -0.1 1 1.3 1 -1 1 0.3 1 0.1 1 0.3 1 -1.2 1 0.4 1 0 1 0.1 1 -1 1 1.1 1 -1.3 1 1.4 1 0.1 1 0.1 1 -0.8 1 0.9 1 -0.8 1 -0.2 1 0.2 1 0 1 0.5 1 0.3 1 -1.3 1 0.7 1 0.6 1 -0.3 1 0.1 1 -0.9 1 1.1 1 -1.1 1 0.8 1 0.5 1 0.2 1 -0.6 1 0.2 1 -0.7 1 0.1 1 0.7 1 -0.5 1 -0.1 1 -0.5 1 0.7 1 0.2 1 -0.7 1 0.2 1 0.9 1 -0.6 1 -0.2 1 -0.4 1 0.2 1 0.2 1 0.7 1 -0.9 1 1.1 1 -1.2 1 0.2 1 0.6 1 -0.5 1 -0.3 1 0.3 1 0.3 1 -1 1 0.7 1 0.1 1 -0.2 1 0.5 1 -0.6 1 0.1 1 0.2 1 0.3 1 -0.4 1 0.8 1 -1.1 1 1 1 -1 1 0.3 1 0.3 1 0.7 1 -0.5 1 -0.6 1 0.8 1 -0.7 1 -0.3 1 0.6 1 -0.2 1 0.4 1 -0.6 1 0.4 1 0.1 1 -0.2 1 -0.1 1 -0.3 1 0.7 1 -0.3 1 0.1 1 -0.4 1 0.2 1 -0.5 1 0.5 1 0.3 1 -0.3 1 0.4 1 -0.3 1 0.5 1 -0.7 1 -0.6 1 0.9 1 -0.3 1 -0.3 1 0.7 1 -0.2 1 0.1 1 -0.3 1 0.2 1 0 1 0.7 1 -1.1 1 0.3 1 0.2 1 -1 1 0.1 1 1.7 1 -1.8 1 1.1 1 -0.7 1 0.1 1 -0.6 1 0.5 1 0.8 1 -1 1 0.9 1 -0.2 1 0.8 1 -1.1 1 0.8 1 -0.2 1 -0.5 1 -0.6 1 1.4 1 -1.3 1 0.4 1 0.6 1 0.1 1 -0.9 1 0.4 1 -0.1 1 0.6 1 0.6 1 -1.9 1 1.2 1 -1.7 1 1.3 1 -0.5 1 1.4 1 -0.8 1 -0.4 1 0.1 1 -0.1 1 0.4 1 -0.2 1 0.4 1 0.4 1 -0.4 1 -0.9 0.4 0.4 1.6 -19.1 2.8 6.3 2.2 2.5 1 -0.6 1 -0.1 1 0.1 1 0.3 1 0.1 1 -1 1 0.2 1 1.2 1 0.6 1 -1.3 1 -1 1 1.4 1 1.8 1 1 1 -1.3 1 0.6 1 -0.8 1 0 1 -0.1 1 0.4 1 -0.3 1 0 1 -0.3 1 -0.1 1 0.3 1 1 1 -0.9 1 -2 1 0.1 1 -0.5 1 0.9 1 1.7 1 -0.1 1 -0.9 1 1 1 -1 1 0.7 1 1.4 1 -0.2 1 -0.8 1 -0.3 1 0.2 1 0.3 1 0.4 1 -1.5 1 -0.8 1 0.4 1 -0.6 1 0.6 1 0.3 1 -0.5 1 0.6 1 0.9 1 -0.7 1 0.8 1 0.5 1 0.1 1 -0.3 1 -0.3 1 -0.1 1 0.5 1 -1 1 -1.2 1 0.2 1 -1.2 1 0.7 1 0.6 1 0.9 1 0.3 1 0.1 1 1.3 1 -1.7 1 0.4 1 -0.3 1 -1 1 -0.9 1 1.1 1 -0.9 1 0.4 1 1.2 1 -0.9 1 -0.3 1 1.3 1 -0.9 1 -0.6 1 -0.6 1 1 1 1.1 1 2.6 1 0.2 1 -0.4 1 -2.2 1 0 1 -0.8 1 0.2 1 1.1 1 -0.1 1 -0.8 1 0.4 1 0.6 1 0.3 1 -0.7 1 0.4 1 -1.3 1 0.4 1 -0.8 1 -0.4 1 -0.1 1 1.1 1 0.7 1 -0.4 1 1.3 1 -1.4 1 -0.1 1 1.3 1 0.4 1 0.3 1 -0.3 1 -0.7 1 -2.1 1 0.1 1 0.1 1 0.3 1 -0.4 1 0.6 1 1.3 1 0.3 1 0.4 1 -2.5 1 0.7 1 0.4 1 -1.6 1 0.4 1 1.9 1 0.1 1 -0.8 1 1 1 -0.2 1 8.4 1 0.3 1 -0.2 1 0.4 1 -1 1 1.1 1 -0.6 1 0.6 1 -1.1 1 0.5 1 0.2 1 0.4 1 -0.9 1 1.3 1 -0.6 1 -0.4 1 0.7 1 -0.5 1 0.5 1 0.5 1 -0.7 1 -0.5 1 0 1 0.5 1 -0.2 1 -0.5 1 0.1 1 0.6 1 0.8 1 -2.3 1 1.5 1 -0.4 1 0.5 1 0 1 -0.4 1 -0.5 1 -0.1 1 -0.2 1 1.4 1 -0.7 1 -0.1 1 0.1 1 -0.5 1 0.7 1 0.5 1 -0.1 1 -1.2 1 1.3 1 -0.9 1 -0.6 1 0.3 1 0.2 1 0.4 1 -0.5 1 -0.2 1 0.6 1 1 1 -1.2 1 0.5 1 -0.2 1 1.2 1 -2.1 1 1.4 1 -1.1 1 0.3 1 0.3 1 1.4 1 -1.7 1 -0.5 1 1.4 1 -1 1 0.3 1 0.1 1 0 0.5 0 1 -20 1.5 2.5 7.7 7 1.8 10.5 0.5 0.1 1 0.2 1 -0.8 1 0 1 0.4 1 -0.4 1 0.8 1 -0.9 1 0.6 1 -1.1 1 0.6 1 0.3 1 0.1 1 -0.7 1 0.8 1 -20 2 3 7 5.2 3.7 11.8 0.3 1 1 -0.6 1 -0.2 1 0 1 0.3 1 -0.9 1 0 1 0.6 1 -0.5 1 0.4 1 -1 1 1.2 1 0.4 1 -0.4 1 0.1 1 0.6 1 -1.2 1 0.1 1 -0.1 1 0.3 1 -0.3 1 0.5 1 -0.3 1 -0.4 1 0 1 1.2 1 -0.5 1 -0.1 1 0.1 1 0 1 0.3 1 0 1 -0.6 1 -0.1 1 -0.1 1 -0.1 1 1.2 1 -1 1 -0.5 1 0.5 1 0 1 0.5 1 -0.5 1 0.6 1 0 1 0.4 1 0.4 1 0.3 1 -0.7 1 -1.1 1 0.3 1 0.3 1 0.8 1 -0.6 1 0.2 1 -0.6 1 0.4 1 0 1 -0.5 1 0.5 1 0.2 1 -0.6 1 0.6 1 0.2 1 -0.7 1 0 1 -0.1 1 -0.2 1 0.4 1 -0.3 0.5 0.2 1 -19.8 2.5 6.5 8 1 2 12 7 0 1 -18 3 3.5 8 6.5 2 8.5 1 0 1 -0.4 1 0.4 1 1.5 1 -1.2 1 -0.6 1 0.4 1 -0.3 1 0.2 1 0.2 1 -1.2 1 1.4 1 0.4 1 -0.7 1 -0.1 1 0.7 1 -1.1 1 0 1 0 1 0.5 1 0.3 1 -0.2 1 0.2 1 0.2 1 -0.2 1 -0.6 1 0.3 1 0.7 1 -1.1 1 0.4 1 -0.1 1 0.1 1 -0.4 1 -0.1 1 1.8 1 -0.8 1 -0.7 1 0.3 1 0.3 1 -0.5 1 0.5 1 -0.6 1 0.1 1 0.2 1 -0.2 1 -0.9 1 1.1 1 0.1 1 0.1 1 -0.6 1 0.6 1 -0.1 1 -0.9 1 -0.2 1 1.2 1 -0.6 1 0.9 1 0.5 1 -1.3 1 0 1 0.3 1 0.3 1 -0.8 1 1.1 1 -0.2 1 -0.1 1 -0.5 1 0.6 1 0 1 -0.9 1 1.4 1 -1 1 0.3 1 -0.4 1 0.4 1 0.3 1 -0.9 1 -0.3 1 0.5 1 -0.4 1 0.3 1 0.2 1 0.1 1 0.6 1 -1.1 1 0.7 1 -0.4 1 0.8 1 0.5 1 -1 1 0.7 1 -1 1 -0.5 1 0.1 1 -0.1 1 0.3 1 0.3 1 0.6 1 -0.2 1 -0.1 1 -0.4 1 -0.1 1 0.3 1 0.1 1 0 1 0.1 1 -0.3 1 -0.8 1 0.4 1 0.1 1 1.2 1 -1 1 0.5 1 0.4 1 -0.5 1 -0.4 1 0.1 1 -0.4 1 0.6 1 0.4 1 -0.2 1 0 1 0 1 0.6 1 -1.2 1 0.4 1 0.2 1 0.3 1 -1.7 1 0.9 1 0.1 1 -0.4 1 0.9 1 -0.3 1 -0.3 1 -0.5 1 0.1 1 0.2 1 0.6 1 -0.7 1 -0.4 1 0.2 1 0.4 1 1.1 1 0.3 1 -1.3 1 0.6 1 0.2 1 0 1 -0.7 1 -0.5 1 0.4 1 -0.6 1 0.9 1 0.2 1 -1.2 1 0.9 1 0.1 1 0.5 1 0 1 -0.2 1 -0.7 1 0.1 1 0.7 1 -0.8 1 0.3 1 0.7 1 -0.6 1 -0.7 1 0.5 1 0.4 1 -0.4 1 0.6 1 0.1 1 -0.9 1 0.1 1 0.2 1 -0.5 1 0.7 1 -0.3 1 0.5 1 -0.7 1 -0.1 1 1.2 1 -1.2 1 0.1 1 0 1 0.2 1 -0.3 1 0.4 1 -0.3 1 0.1 1 0.4 1 0.1 1 -0.1 1 -0.5 1 0.5 1 -0.3 1 0.1 1 -0.8 1 1.1 1 -0.4 1 0.9 1 -0.5" stroke="#7EB26D" stroke-width="1" fill="none" stroke-linejoin="round"/><path d="M48 450.3l1 -0.1 1 0 1 -0.3 1 0.7 1 -0.1 1 -0.2 1 0.1 1 -0.1 1 -0.1 1 0.2 1 -0.1 1 0 1 -0.1 1 0.2 1 -0.1 1 0.1 1 -0.2 1 0.1 1 -0.1 1 0.2 1 -0.1 1 0 1 0.1 1 -0.3 1 0.3 1 0.2 1 -0.5 1 -0.1 1 0.1 1 0.3 1 -0.1 1 0.2 1 -0.1 1 -0.1 1 0 1 0 1 -0.3 1 -0.3 1 0.1 1 0.1 1 0.2 1 -0.3 1 -0.1 1 0.1 1 0.2 1 -0.1 1 0.2 1 -0.5 1 0.5 1 0 1 -0.4 1 0.3 1 0.1 1 -0.1 1 0.4 1 0.3 1 -0.4 1 0 1 -0.1 1 0.2 1 -0.1 1 0 1 0 1 0.1 1 -0.3 1 0 1 -0.2 1 0.6 1 -0.2 1 0.2 1 -0.2 1 -0.1 1 0.2 1 -0.1 1 -0.2 1 0.1 1 0.4 1 -0.2 1 0 1 -0.1 1 -0.1 1 0.2 1 -0.1 1 -0.1 1 0.1 1 -0.1 1 0.1 1 0.2 1 -0.3 1 0.3 1 -0.3 1 0.1 1 -0.1 1 0.1 1 0 1 -0.1 1 0 1 0 1 0 1 -0.1 1 0.2 1 0.1 1 0 1 0 1 -0.2 1 -0.3 1 -0.1 1 0.3 1 -0.4 1 0.3 1 -0.3 1 0.2 1 -0.3 1 0.4 1 -0.1 1 -0.1 1 0.4 1 -0.2 1 -0.1 1 -0.1 1 0.1 1 0 1 0.5 1 0 1 -0.2 1 0 1 0 1 -0.1 1 0.1 1 0.1 1 0.1 1 0.1 1 -0.3 1 0.2 1 -0.2 1 0.4 1 -0.3 1 0.1 1 -0.2 1 0 1 0.1 1 -0.1 1 0.2 1 -0.3 1 0.3 1 -0.2 1 0.4 1 -0.3 1 0.2 1 -0.4 1 0.3 1 -0.2 1 0 1 0.1 1 0 1 0 1 0.1 1 0 1 -0.1 1 -0.2 1 0.1 1 0.1 1 -0.3 1 0.4 1 -0.1 1 0 1 0.1 1 0 1 -0.1 1 -0.2 1 0.2 1 0.1 1 -0.7 1 0.3 1 -0.1 1 -0.3 1 0.3 1 -0.2 1 0.4 1 -0.1 1 -0.3 1 0.1 1 0.1 1 0 1 0.3 1 -0.2 1 -0.1 1 0.1 1 -0.3 1 0.6 1 0.1 1 -0.1 1 -0.1 1 0.2 1 0.2 1 -0.3 1 -0.2 1 0.4 1 -0.5 1 0.4 1 -0.2 1 0.2 1 -0.2 1 0.3 1 -0.2 1 -0.3 1 0 1 0.3 1 0.2 1 -0.2 1 0 1 0 1 0.1 1 0 1 -0.1 1 -0.1 1 0.3 1 0 1 -0.4 1 0.5 1 -0.2 1 -0.2 1 -0.2 1 0.4 1 0 1 -0.2 1 -0.2 1 0.5 1 -0.3 1 0 1 0.5 1 -0.1 1 -0.2 1 -0.2 1 0.2 1 -0.4 1 0.3 1 -0.1 1 -0.1 1 -0.5 1 0.3 1 0 1 0 1 0.1 1 -0.3 1 0 1 -0.1 1 0.2 1 0.2 1 -0.1 1 0.1 1 -0.3 1 0.2 1 -0.1 1 0 1 0.4 1 -0.1 1 0.1 1 0 1 0.1 1 -0.2 1 0.3 1 -0.3 1 0.1 1 -0.1 1 0.1 1 -0.1 1 0 1 0.1 1 0 1 0.1 1 0 1 0.2 1 -0.1 1 -0.1 1 0.1 1 -0.2 1 0.3 1 -0.1 1 -0.3 1 0.3 1 0 1 -0.5 1 0.3 1 0 1 -0.2 1 0.1 1 0.1 1 0.2 1 -0.1 1 0.4 1 -0.5 1 0.3 1 -0.2 1 0 1 -0.2 1 -0.1 1 0.2 1 0.2 1 0.1 1 -0.1 1 0 1 -0.2 1 0.3 1 0 1 -0.3 1 0.1 1 -0.6 1 0.4 1 -0.2 1 -0.1 1 0.1 1 0 1 -0.1 1 -0.1 1 0 1 -0.1 1 0.4 1 0.3 1 -0.6 1 0.3 1 0 1 -0.2 1 0.2 1 -0.2 1 0.7 1 -0.3 1 0.1 1 0.1 1 -0.2 1 -0.2 1 0.2 1 0.2 1 -0.1 1 0 1 -0.2 1 0.2 1 0.1 1 -0.1 1 0.3 1 -0.3 1 -0.2 1 0 1 0.4 1 -0.2 1 0.2 1 -0.1 1 0.1 1 0 1 -0.3 1 0.1 1 0.2 1 -0.4 1 0.4 1 0 1 -0.1 1 -0.1 1 0 1 -0.2 1 0.2 1 -0.1 1 0.1 1 -0.1 1 0.1 1 0.2 1 -0.4 1 0.3 1 -0.4 1 0 1 0.3 1 0 1 0.1 1 -0.3 1 0.2 1 0 1 -0.3 1 -0.2 1 0.1 1 -0.2 1 0.1 1 0 1 0.2 1 -0.3 1 0.1 1 0.2 1 0.2 1 -0.2 1 0 1 -0.1 1 0.2 1 -0.1 1 0.2 1 -0.2 1 0.2 1 0 1 0 1 -0.1 1 0.4 1 -0.1 1 -0.3 1 0.5 1 -0.3 1 -0.1 1 0.2 1 -0.1 1 -0.1 1 -0.2 1 0.3 1 0 1 -0.4 1 0.5 1 0 1 -0.2 1 0.1 1 0 1 -0.1 1 0 1 0.3 1 -0.4 1 0.2 1 0 1 -0.1 1 0 1 -0.1 1 0.1 1 0.1 1 0 1 -0.1 1 0.6 1 -0.6 1 0.1 1 0 1 -0.1 1 0.3 1 -0.3 1 0.3 1 0 1 -0.4 1 0.4 1 -0.3 1 0.5 1 -0.5 1 0 1 -0.2 1 0.1 1 -0.3 1 -0.1 1 0 1 0.1 1 0 1 0.3 1 -0.5 1 0.2 1 0 1 -0.1 1 0 1 0.1 1 0.2 1 -0.1 1 0 1 0.1 1 0 1 -0.1 1 0.5 1 -0.2 1 0.2 1 0 1 -0.2 1 -0.1 1 0.4 1 -0.2 1 0.5 1 -0.6 1 0.2 1 -0.2 1 0.1 1 0.1 1 -0.2 1 0.1 1 0 1 0 1 0.1 1 0.1 1 -0.1 1 -0.1 1 -0.1 1 -0.1 1 0.1 1 0 1 0.2 1 -0.2 1 -0.1 1 0.3 1 -0.2 1 0 1 0.1 1 0.1 1 -0.5 1 0.2 1 0.2 1 -0.1 1 0 1 0 1 0.3 1 -0.3 1 0.2 1 0 1 -0.2 1 0.2 1 -0.2 1 0 1 -0.1 1 0.3 1 -0.2 1 -0.4 1 -0.1 1 0.4 1 -0.1 1 -0.2 1 0 1 -0.1 1 0.2 1 0 1 -0.2 1 0.4 1 -0.1 1 -0.2 1 0 1 0.1 1 0.1 1 -0.1 1 -0.2 1 0.8 1 -0.2 1 0.2 1 0 1 -0.2 1 0.1 1 0 1 0 1 -0.1 1 -0.1 1 0.1 1 -0.1 1 0 1 -0.2 1 0.3 1 -0.2 1 0.1 1 0.1 1 0 1 0.3 1 -0.3 1 -0.2 1 0.2 1 -0.1 1 0.2 1 -0.2 1 0 1 0 1 0 1 -0.2 1 0.2 1 0.1 1 0.2 1 -0.2 1 -0.1 1 0.2 1 0 1 0.1 1 -0.1 1 -0.1 1 0.2 1 0 1 -0.3 1 0.1 1 -0.3 1 0.2 1 0 1 0.1 1 -0.1 1 0.1 1 0 1 0.1 1 -0.1 1 -0.5 1 -0.1 1 0.3 1 0.1 1 -0.3 1 0.2 1 -0.3 1 0 1 0.2 1 0.2 1 -0.3 1 0 1 0.4 1 -0.6 1 0.4 1 0 1 -0.1 1 0.1 1 0.7 1 -0.6 1 0.2 1 0 1 -0.1 1 -0.1 1 0.4 1 -0.2 1 -0.3 1 0.2 1 0.2 1 0 1 -0.3 1 0.2 1 0 1 0.1 1 0 1 -0.4 1 0.6 1 -0.3 1 0.3 1 0.1 1 -0.4 1 -0.2 1 0.3 1 -0.1 1 -0.1 1 -0.1 1 0.5 1 -0.4 1 -0.1 1 0.1 1 -0.1 1 0.2 1 -0.1 1 -0.1 1 0.3 1 -0.2 1 0.2 1 0.1 1 -0.3 1 0 1 0.1 1 0.1 1 -0.1 1 0 1 0 1 0 1 0.1 1 -0.2 1 0 1 0.1 1 -0.1 1 -0.3 1 0 1 0 1 -0.1 1 0 1 0.3 1 -0.1 1 -0.3 1 0.1 1 0.4 1 -0.1 1 -0.2 1 0.2 1 -0.4 1 0.2 1 0.2 1 -0.4 1 0.1 1 0.6 1 0.1 1 -0.3 1 0.1 1 0.2 1 -0.3 1 -0.1 1 0.2 1 -0.1 1 0.3 1 -0.2 1 -0.1 1 0.5 1 -0.5 1 0.2 1 0 1 0 0.5 -0.1 1 -19.3 2 -2.8 44.5 -0.2 1.5 22.3 0.5 -0.7 1 0.5 1 -0.4 1 0.2 1 0.1 1 0.2 1 0.3 1 -0.2 1 -0.1 1 0 1 0.3 1 0.1 1 -0.2 1 -0.2 1 0.3 1 -0.3 1 0 1 0.1 1 0.1 1 -0.1 1 0.1 1 0.1 1 -0.1 1 -0.4 1 0 1 0.3 1 0 1 0.3 1 -0.3 1 0 1 0.1 1 0.1 1 -0.2 1 0.1 1 -0.3 1 0.1 1 0.3 1 -0.4 1 0.3 1 0 1 0 1 0 1 0 1 -0.4 1 0.1 1 0.1 1 0.2 1 -0.3 1 0.1 1 0 1 0.3 1 -0.4 1 0 1 0.3 1 -0.4 1 0.3 1 -0.1 1 -0.6 1 0.2 1 -0.1 1 0.2 1 0 1 0.2 1 -0.2 1 0 1 -0.1 1 0.1 1 0.2 1 -0.5 1 0.4 1 -0.1 1 0 1 0.1 1 0.1 1 -0.1 1 0.2 1 0.1 1 0 1 0 1 0 1 0.1 1 -0.1 1 0 1 -0.2 1 0.2 1 -0.3 1 0.4 1 -0.2 1 0.3 1 0.2 1 -0.5 1 0.3 1 -0.1 1 -0.2 1 0 1 0.2 1 0.1 1 -0.1 1 -0.3 1 0 1 0.2 1 0.2 1 -0.2 1 0 1 0.2 1 -0.2 1 0 1 0 1 -0.3 1 0.4 1 0 1 0 1 -0.3 1 0.1 1 0.2 1 -0.1 1 0.2 1 -0.3 1 0.1 1 -0.1 1 0.1 1 -0.1 1 0.2 1 0.1 1 -0.1 1 -0.4 1 0.4 1 0 1 -0.3 1 -0.4 1 0.1 1 0.1 1 -0.1 1 -0.2 1 0.3 1 0 1 0.4 1 -0.6 1 0.6 1 -0.1 1 -0.2 1 0.2 1 -0.3 1 0.2 1 -0.3 1 0.2 1 -0.2 1 0.3 1 0.2 1 -7.7 1 0.2 1 0.1 1 -0.2 1 0 1 0 1 -0.3 1 0.3 1 0 1 0 1 -0.2 1 -0.1 1 0.3 1 0 1 0.2 1 0 1 0 1 -0.1 1 0.1 1 -0.2 1 0.1 1 0 1 0.3 1 -0.4 1 -0.2 1 0.4 1 -0.3 1 0.1 1 0 1 -0.1 1 0.3 1 -0.1 1 -0.2 1 0.1 1 -0.1 1 0.2 1 -0.2 1 0 1 0 1 0 1 0.1 1 -0.1 1 0.1 1 0.1 1 0.3 1 -0.3 1 -0.5 1 0.3 1 0 1 0.1 1 0.2 1 -0.1 1 -0.4 1 0.3 1 0 1 0.1 1 0.1 1 -0.4 1 0.4 1 -0.4 1 0.2 1 0.1 1 0.2 1 -0.4 1 -0.2 1 0.4 1 -0.2 1 0.3 1 -0.3 1 0 1 0.3 1 -0.2 1 0.2 1 -0.4 1 0.4 1 -0.3 1 0.2 1 -0.3 1 0 1 0.2 1 0 1 0.2 1 -0.1 1 0 1 0 1 0.4 1 -0.6 1 0.3 1 -0.2 1 0 1 -0.1 1 0.3 1 -0.4 1 0 1 0.2 1 -0.2 1 0.3 1 0 1 -0.2 1 0.2 1 -0.2 1 0.1 1 0 1 0.3 1 -0.3 1 -0.1 1 0 1 0.3 1 -0.5 1 0.2 1 0 1 -0.3 1 0.3 1 0.3 1 -0.2 1 -0.1 1 0.2 1 0 1 0.2 1 -0.4 1 0 1 0.1 1 0 1 0 1 0 1 -0.1 1 -0.1 1 0.1 1 -0.1 1 0 1 0.1 1 0.2 1 0 1 -0.3 1 0.2 1 0.1 1 -0.1 1 -0.2 1 -0.1 1 0.4 1 0 1 -0.1 1 -0.2 1 0.4 1 0 1 -0.2 1 0 1 -0.3 1 0.4 1 -0.3 1 0.3 1 0 1 -0.1 1 0.2 1 -0.3 1 0.2 1 0 1 -0.1 1 -0.1 1 0.3 1 -0.1 1 -0.1 1 0 1 0 1 0.3 1 -0.3 1 0 1 -0.2 1 0 1 -0.1 1 0.3 1 0 1 -0.2 1 0 1 0.1 1 0 1 -0.1 1 0.2 1 0 1 0 1 0.1 1 -0.2 1 0.3 1 -0.4 1 0.3 1 0 1 -0.1 1 0 1 -0.2 1 0 1 0.2 1 -0.1 1 0.2 1 -0.1 1 0.1 1 -0.1 1 0 1 0 1 -0.1 1 0 1 0.4 1 -0.6 1 0.3 1 0.1 1 0 1 0.1 1 -0.1 1 -0.3 1 0.1 1 -0.1 1 0.3 1 0.1 1 -0.3 1 0.2 1 -0.2 1 -0.1 1 0.1 1 -0.1 1 0.1 1 0.1 1 0.1 1 0.1 1 -0.3 1 0.1 1 0.1 1 0 1 -0.5 1 0.3 1 0.2 1 -0.3 1 0.2 1 0.1 1 -0.4 1 0.3 1 0 1 0 1 -0.2 1 0.2 1 -0.1 1 0.2 1 0 1 -0.2 1 0.1 1 -0.1 1 0 1 -0.1 1 0.2 1 0.1 1 -0.1 1 0 1 -0.1 1 0 1 0.2 1 -0.3 1 0.5 1 -0.3 1 0.3 1 -0.1 1 -0.3 1 0.2 1 -0.1 1 0.1 1 0 1 -0.2 1 0 1 0 1 -0.1 1 0.1 1 0.1 1 0 1 0 1 -0.1 1 0.2 1 -0.4 1 0.2 1 0 1 0.2 1 0 1 0 1 -0.1 1 0.1 1 -0.3 1 0.2 1 -0.3 1 0.5 1 0 1 -0.3 1 0 1 -0.2 1 0 1 0.3 1 0 1 -0.2 1 0.1 1 0 1 0.1 1 0.1 1 -0.2 1 0.1 1 0 1 -0.3 1 0.3 1 0 1 0.1 1 -0.4 1 0.4 1 -0.2 1 0.1 1 0.2 1 -0.4 1 0 1 0.3 1 -0.3 1 0 1 0.3 1 -0.2 1 0.2 1 -0.1 1 0 1 0.1 1 0.2 1 -0.3 1 0.2 1 -0.1 1 -0.1 1 0 1 -0.2 1 0.1 1 0.1 1 0 1 0.2 1 -0.4 1 0.1 1 0 1 0.1 1 0.2 1 -0.4 1 0.3 1 -0.2 1 0 1 0.2 1 -0.2 1 0.2 1 -0.1 1 0 1 -0.1 1 -0.2 1 0.2 1 0.1 1 0 1 -0.2 1 0.3 1 0 1 -0.3 1 0 1 0.3 1 -0.4 1 0.2 1 0.1 1 0 1 0 1 0 1 -0.1 1 0 1 0.4 1 -0.5 1 0.1 1 0.1 1 -0.1 1 0.3 1 -0.2 1 0.1 1 -0.5 1 0.6 1 0 1 -0.3 1 0.3 1 -0.2 1 0.1 1 0.2 1 -0.3 1 -0.2 1 0.2 1 -0.2 1 0.1 1 0 1 0 1 0.3 1 -0.1 1 -0.2 0.5 0.1 1.2 -9.7 1.3 9.7 1 0 1 0.2 1 -0.1 1 0 1 0.1 1 -0.1 1 0.1 1 -0.3 1 -0.2 1 0.2 1 0.2 1 -0.1 1 0.1 1 0 1 0 1 0 1 -0.2 1 0.3 1 -0.4 1 0.2 1 -0.2 1 0.3 1 -0.3 1 0.4 1 -0.4 1 0.2 1 0 1 -0.1 1 0.3 1 -0.3 1 0.3 1 -0.4 1 0.1 1 -0.2 1 0.4 1 0 1 -0.1 1 0 1 -0.1 1 0.4 1 -0.2 1 -0.4 1 0.2 1 -0.3 1 0.6 1 0.1 1 -0.1 1 -0.2 1 -0.1 1 -0.1 1 0.3 1 -0.2 1 0 1 0 1 0 1 0.2 1 0.1 1 -0.2 1 0 1 -0.2 1 0 1 0 1 0.3 1 -0.1 1 0.1 1 0 1 -0.2 1 -0.1 1 0.1 1 -0.1 1 0.5 1 -0.3 1 -0.1 1 0.4 1 -0.4 1 0.2 1 -0.1 1 0 1 -0.1 1 0.2 1 0.1 1 -0.4 1 -0.1 1 0.5 1 -0.2 1 0.1 1 -0.2 1 0.3 1 0.1 1 -0.5 1 0.3 1 -0.2 1 -0.2 1 0.2 1 0.2 1 -0.3 1 0 1 0.4 0.5 -0.2 1.5 -76.5 1 1.8 1.5 52 1.5 12 1.5 10.7 0.5 0.2 1 -0.2 1 -0.2 1 0.1 1 0.1 1 0.2 1 -0.3 1 0 1 0.1 1 -0.1 1 0 1 0 1 0.2 1 0 1 -0.2 1 0.1 1 -0.2 1 0.3 1 0 1 -0.1 1 -0.3 1 0.6 1 -0.8 1 0.3 1 0 1 0.3 1 -0.3 1 0.2 1 0 1 -0.1 1 0.2 1 0.1 1 -0.2 1 -0.1 1 -0.3 1 0.6 1 -0.3 1 -0.2 1 0.3 1 0.2 1 -0.2 1 -0.2 1 0.5 1 -0.2 1 -0.1 1 0.1 1 -0.4 1 0.3 1 0 1 0.3 1 -0.4 1 0 1 -0.1 1 0.1 1 0.1 1 0 1 0 1 0.3 1 -0.2 1 0 1 0.1 1 -0.1 1 -0.2 1 -0.1 1 0.2 1 -0.1 1 0.3 1 -0.3 1 -0.3 1 0.4 1 0.1 1 -0.1 1 0 1 0 1 0.2 1 -0.2 1 0 1 -0.1 1 -0.2 1 0.5 1 0 1 -0.4 1 7.9 1 -0.1 1 -0.1 1 0 1 0.2 1 -0.3 1 0.1 1 0.1 1 0 1 0 1 0 1 0.1 1 -0.3 1 0.2 1 -0.1 1 0.3 1 -0.4 1 0.1 1 0.2 1 -0.2 1 0 1 0 1 0.1 1 -0.2 1 0.2 1 0 1 -0.2 1 0.2 1 -0.1 1 0.1 1 0.1 1 -0.1 1 -0.2 1 0.2 1 -0.3 1 0.2 1 0.3 1 -0.2 1 0.2 1 -0.2 1 0 1 -0.2 1 0.3 1 -0.1 1 0.1 1 0 1 0 1 -0.1 1 0 1 0 1 -0.1 1 -0.2 1 0.4 1 -7.6 1 -0.1 1 0.1 1 -0.2 1 -0.3 1 0 1 0.3 1 -0.1 1 0 1 0.1 1 -0.2 1 0.2 1 -0.1 1 0 1 0.2 1 -0.2 1 0.2 1 0 1 -0.3 1 0.5 1 -0.6 1 0.2 1 0.1 1 -0.4 1 0.5 1 0 1 -0.2 1 0 1 0 1 0 1 0.2 1 -0.3 1 0.1 1 0.1 1 0 1 0.1 1 -0.4 1 -0.1 1 0.3 1 0 1 -0.2 1 0.2 1 0.1 1 0 1 0.2 1 -0.5 1 0.2 1 0.3 1 -0.2 1 -0.3 1 0.2 1 0.2 1 0.1 1 -0.2 1 7.9 1 -0.4 1 0.2 1 0.2 1 -0.2 1.5 -4.3 1.5 4.3 1 0 1 0.1 1 -0.3 1 0 1 0.5 1 -0.4 1 0 1 0.2 1 0 1 -0.4 1 0.2 1 0.1 1 0 1 0.1 1 -0.2 1 0.1 1 0 1 -0.1 1 0 1 0 1 0.1 1 0 1 -0.1 1 0.1 1 0 1 0 1 0.1 1 -0.3 1 0.3 1 -0.3 1 0.3 1 -0.2 1 0.2 1 0.1 1 -0.5 1 0.4 1 -0.1 1 -0.1 1 0.2 1 -0.2 1 0.1 1 -0.2 1 0.3 1 0 1 0 1 -0.2 1 0.4 1 0 1 -0.3 1 -0.1 1 0 1 0.2 1 0.1 1 -0.3 1 -0.2 1 0.4 1 -0.1 1 0 1 0.1 1 -0.3 1 0.2 1 0 1 0.1 1 0.1 1 -0.2 1 -0.1 1 0.3 1 -0.1 1 -0.1 1 -0.3 1 0.2 1 0.1 1 0.1 1 -0.2 1 0.2 1 -0.2 1 0 1 0.2 1 -0.1 1 0 1 0.1 1 0.1 1 -0.3 1 0.1 1 -0.2 1 0 1 0.2 1 -0.1 1 -0.2 1 0.4 1 -0.2 1 0 1 0.2 1 0 1 -0.1 1 -0.3 1 0.4 1 -0.2 1 -0.1 1 -0.1 1 0.5 1 -0.2 1 0 1 0.1 1 -0.1 1 -0.2 1 0.3 1 0 1 0 1 0.1 1 0.1 1 -0.4 1 0 1 0.2 1 -0.1 1 0 1 0.1 1 0 1 -0.2 1 0.1 1 -0.1 1 0.1 1 -0.2 1 -0.1 1 0.2 1 0 1 0.2 1 0.1 1 -0.2 1 0.1 1 -0.2 1 0 1 0.1 1 0 1 0 1 0 1 0.2 1 -0.2 1 -0.3 1 0.3 1 -0.1 1 0.1 1 0.2 1 -0.3 1 0.1 1 0.1 1 -0.2 1 0.1 1 0.1 1 0 1 0.1 1 -0.1 1 0 1 -0.3 1 -0.2 1 0.3 1 0.3 1 -0.2 1 -0.3 1 0.2 1 0.2 1 -0.4 1 0.4 1 -0.3 1 0.4 1 -0.2 1 0.5 1 -0.7 1 0.2 1 -0.2 1 0.4 1 -0.2 1 0.1 1 -0.1 1 -0.2 1 0.1 1 -0.1 1 0 1 0.2 1 0.2" stroke="#EAB839" stroke-width="1" fill="none" stroke-linejoin="round"/><path d="M48 449.5l1 -0.5 1 0.4 1 -0.2 1 0 1 0.1 1 -0.2 1 0.2 1 -0.1 1 0.5 1 -0.4 1 0 1 0 1 -0.1 1 0 1 0.1 1 0.1 1 -0.1 1 0.1 1 -0.1 1 0 1 0.2 1 -0.1 1 -0.2 1 0.1 1 0.1 1 0.1 1 -0.2 1 0 1 0.1 1 -0.2 1 0.1 1 0.1 1 0 1 -0.1 1 0.1 1 -0.4 1 -2.6 1 -0.2 1 0 1 0.3 1 0.1 1 -0.1 1 0 1 0.1 1 0.1 1 0.2 1 0 1 -0.1 1 0.2 1 -0.1 1 -0.1 1 0.3 1 0 1 0 1 2.1 1 0.1 1 -0.3 1 0.4 1 0 1 -0.3 1 0.2 1 -0.1 1 0.2 1 -0.3 1 0.1 1 0.2 1 0 1 -0.4 1 0.2 1 0.1 1 -0.1 1 0.3 1 -0.3 1 0.1 1 -0.1 1 0.3 1 -0.2 1 0 1 -0.2 1 0.4 1 -0.1 1 0 1 0 1 -0.1 1 -0.1 1 0 1 0 1 0.3 1 -0.4 1 0.1 1 0.1 1 0 1 0.1 1 -0.2 1 -0.1 1 0.2 1 0.1 1 0 1 -0.1 1 0 1 0 1 0 1 0.1 1 -0.2 1 -2.9 1 0 1 0.2 1 0 1 0.3 1 -0.1 1 0.1 1 -0.4 1 0.2 1 0 1 0.2 1 -0.3 1 0.5 1 0 1 -0.2 1 0.1 1 0 1 0.2 1 2.3 1 0.1 1 -0.2 1 0.1 1 -0.1 1 0.2 1 -0.1 1 0.1 1 -0.3 1 0.1 1 -0.1 1 0.3 1 -0.1 1 -0.1 1 -0.1 1 0.2 1 -0.2 1 0 1 0.2 1 0.2 1 -0.3 1 -0.1 1 0 1 -0.1 1 0.3 1 0 1 -0.1 1 0 1 0 1 0 1 -0.2 1 0.1 1 0.1 1 -0.1 1 0 1 0 1 0.1 1 0.1 1 -0.1 1 0 1 0.1 1 0 1 0.1 1 -0.5 1 0.4 1 -0.2 1 0.1 1 0.1 1 0 1 0 1 -3 1 0.2 1 -0.2 1 0.1 1 0.1 1 -0.1 1 0.4 1 -0.1 1 0.2 1 -0.3 1 0 1 0.2 1 0.1 1 -0.1 1 0.1 1 0 1 0.3 1 1.9 1 0.2 1 -0.2 1 0 1 0 1 0 1 0.1 1 0.1 1 -0.1 1 0.1 1 0.1 1 -0.2 1 0 1 0 1 -0.2 1 0.3 1 -0.3 1 0.3 1 -0.1 1 0.1 1 -0.1 1 -0.1 1 0.1 1 -0.1 1 0.1 1 0 1 0 1 0 1 -0.1 1 0.1 1 -0.3 1 0.3 1 -0.1 1 0.2 1 0.1 1 -0.4 1 0.2 1 0 1 -0.1 1 0.2 1 -0.2 1 -0.1 1 0.2 1 0 1 0 1 -0.1 1 0.2 1 0 1 -0.2 1 0 1 -2.9 1 0 1 0.3 1 -0.1 1 -0.1 1 0 1 0.2 1 0.3 1 -0.2 1 0 1 0.1 1 0 1 0.3 1 -0.3 1 0.2 1 0 1 0.1 1 -0.2 1 2.6 1 -0.2 1 0 1 -0.1 1 0 1 0.2 1 0 1 0 1 0 1 0 1 -0.1 1 0.1 1 0 1 -0.1 1 0.1 1 0.1 1 -0.2 1 0 1 0.1 1 0.1 1 -0.2 1 0 1 0 1 0.1 1 -0.3 1 0.2 1 0.1 1 -0.2 1 0.3 1 -0.1 1 -0.2 1 0.1 1 -0.2 1 0.1 1 0.3 1 -0.3 1 0.3 1 -0.2 1 0.1 1 -0.1 1 -0.3 1 0.2 1 0.1 1 -0.1 1 -0.1 1 0.2 1 -0.1 1 -0.1 1 0.1 0.6 0.1 0.7 -28.3 1.1 0.5 0.7 25.4 0.9 -0.3 1 -0.1 1 -0.1 1 0 1 0.2 1 0.1 1 0 1 0.1 1 -0.1 1 0.2 1 -0.1 1 0.1 1 -0.1 1 0 1 0.2 1 0 1 2.2 1 0.2 1 -0.1 1 0.3 1 -0.2 1 -0.2 1 0.2 1 -0.1 1 -0.1 1 0.2 1 -0.2 1 -0.3 1 0.5 1 -0.2 1 0.3 1 -0.3 1 0 1 0.3 1 -0.3 1 0.1 1 0.2 1 -0.2 1 0 1 0 1 0.1 1 -0.2 1 0.2 1 0 1 0.2 1 -0.3 1 -0.1 1 0.2 1 -0.1 1 0 1 0 1 0.1 1 -0.2 1 0.1 1 -0.3 1 0.2 1 0.3 1 -0.3 1 0 1 0 1 0.2 1 -0.1 1 -0.1 1 0.2 1 -0.1 1 0.1 1 -3.2 1 0.4 1 -0.1 1 -0.1 1 0 1 0.1 1 0.2 1 -0.1 1 0.2 1 0 1 0.1 1 0 1 0 1 -0.2 1 0.3 1 0.1 1 0 1 0.1 1 2 1 0.1 1 -0.1 1 0.3 1 -0.2 1 -0.1 1 -0.1 1 0.2 1 0.2 1 -0.1 1 -0.2 1 0.3 1 0 1 -0.1 1 0 1 0 1 0 1 0 1 -0.2 1 0.3 1 -0.2 1 0.2 1 -0.4 1 0.3 1 0 1 -0.1 1 0.1 1 0 1 0 1 -0.2 1 0.1 1 0.1 1 0.1 1 -0.2 1 0 1 0 1 0.1 1 -0.2 1 -0.1 1 0.2 1 -0.1 1 0 1 0.1 1 0.1 1 -0.2 1 0.2 1 -0.3 1 0.3 1 -0.3 1 0 1 0.3 1 -0.1 0.1 0 0.7 -21.1 1.1 0.5 0.7 18.2 0.4 -0.4 1 -0.1 1 0.1 1 0.2 1 -0.2 1 0.1 1 0 1 0.3 1 0 1 0.1 1 -0.1 1 0 1 0.2 1 -0.1 1 0.1 1 0.1 1 2 1 0.1 1 0 1 0.2 1 0.1 1 -0.3 1 0 1 -0.3 1 0.3 1 0 1 -0.1 1 0.2 1 -0.3 1 0.2 1 0 1 -0.1 1 0.2 1 0 1 -0.3 1 0 1 0.3 1 -0.1 1 -0.1 1 0.1 1 0 1 0 1 0.1 1 -0.1 1 0.2 1 0 1 -0.1 1 0 1 0.1 1 -0.1 1 -0.2 1 0.2 1 -0.1 1 0.2 1 -0.2 1 0.1 1 -0.1 1 0.2 1 -0.2 1 0 1 0 1 -0.1 1 0.1 1 0 1 0 1 0.2 1 -0.2 1 -3 1 0 1 0.2 1 -0.2 1 0.1 1 0.1 1 0.2 1 -0.1 1 0 1 0 1 0.2 1 0.2 1 -0.1 1 0 1 0.1 1 -0.1 1 0.1 1 0.1 1 2.2 1 0 1 -0.1 1 0.2 1 0.1 1 -0.2 1 0 1 0 1 0.1 1 -0.3 1 0.4 1 -0.3 1 0.3 1 -0.2 1 0 1 0 1 0.1 1 -0.2 1 0.1 1 -0.1 1 -0.1 1 0.4 1 -0.1 1 -0.1 1 0.1 1 -0.2 1 0.1 1 0.2 1 -0.1 1 -0.4 1 -0.1 1 0.3 1 0.2 1 -0.2 1 0.1 1 0.1 1 -0.2 1 0.1 1 0.1 1 0 1 -0.1 1 -0.1 1 0.2 1 -0.2 1 0.3 1 0.1 1 -0.4 1 -0.2 1 0.2 1 0.1 1 0.1 1 0 0.6 -0.1 0.7 -21.8 1.1 0.5 0.7 18.9 0.9 -0.6 1 0.3 1 -0.1 1 0.1 1 0.1 1 0 1 0.1 1 -0.2 1 0.2 1 0 1 0.1 1 0.2 1 -0.2 1 0 1 0.1 1 0.1 1 2.3 1 -0.2 1 0.2 1 -0.1 1 0 0.9 0 0.7 -12.3 1.1 0.5 0.7 11.8 0.6 -0.2 1 0.3 1 0.1 1 -0.2 1 0.1 1 0.2 1 -0.2 1 -0.2 1 0.1 1 0 1 0 1 -0.3 1 0.4 1 -0.2 1 0.1 1 0 1 0.1 1 -0.1 1 -0.1 1 0.2 1 0.1 1 -0.2 1 0.2 1 -0.2 1 -0.1 1 0.3 1 -0.3 1 0.2 1 -0.2 1 0.2 1 -0.2 1 0 1 0.2 1 -0.1 1 0 1 -0.1 1 0.2 1 -0.3 1 0.1 1 0.1 1 -0.1 1 0 1 0.1 1 0 0.6 0 0.7 -9.3 1.1 0.5 0.7 6.4 0.9 -0.4 1 -0.1 1 0 1 0 1 0.1 1 -0.1 1 0.2 1 0.2 1 0.2 1 -0.1 1 -0.1 1 0.2 1 -0.1 1 0.2 1 -0.1 1 0.2 1 2.4 1 -0.2 1 0.2 1 -0.3 1 0 1 0.2 1 0 1 -0.3 1 0.1 1 -0.2 1 0.2 1 0.1 1 -0.1 1 -0.1 1 -0.1 1 0.2 1 0.1 1 0 1 -0.1 1 -0.2 1 0.4 1 -0.2 1 0 1 0.1 1 -0.4 1 0.3 1 0 1 0 1 0.2 1 -0.1 1 -0.3 1 0.2 1 0 1 0 1 -0.2 1 0 1 0.3 1 -0.1 1 0 1 -0.2 1 0.4 1 -0.5 1 0.3 1 0.3 1 -0.3 1 0 1 -0.1 1 0.3 1 -0.4 1 0.2 1 0 1 -0.1 1 0.2 1 -0.3 1 -2.9 1 0.2 1 0 1 0.1 1 0.1 1 -0.1 1 0 1 0.1 1 0 1 0.2 1 -0.1 1 0.2 1 -0.1 1 0 1 0.3 1 -0.2 1 0.1 1 0.3 1 1.9 1 0.1 1 -0.2 1 0.1 1 -0.1 1 0.2 1 -0.1 1 0.1 1 0.2 1 -0.2 1 0.1 1 -0.1 1 0 1 -0.1 1 -0.1 1 0.2 1 0.2 1 -0.1 1 -0.2 1 0.3 1 -0.3 1 0 1 0 1 0 1 0.1 1 0.2 1 -0.2 1 -0.1 1 0 1 0.1 1 -0.2 1 0.2 1 0.1 1 -0.1 1 0.1 1 -0.3 1 0 1 0.4 1 -0.1 1 -0.3 1 0.2 1 0 1 0.1 1 -0.1 1 -0.1 1 0.1 1 0 1 0 1 -0.2 1 -0.2 1 0.3 1 -3.1 1 0.3 1 0.1 1 0 1 -0.1 1 0.1 1 0.2 1 -0.2 1 0.3 1 0 1 0 1 0.2 1 -0.2 1 0.2 1 -0.2 1 0.1 1 0 1 0.2 1 2.1 1 0.1 1 -0.1 1 0.2 1 0.1 1 -0.2 1 0.2 1 -0.1 1 0.2 1 -0.3 1 -0.2 1 0.4 1 -0.2 1 -0.1 1 0 1 -0.1 1 0.2 1 -0.1 1 0.3 1 -0.1 1 -0.3 1 0 1 0.1 1 -0.1 1 0.2 1 0 1 -0.1 1 0 1 0.2 1 0.1 1 0 1 -0.2 1 0.1 1 -0.2 1 0.1 1 -0.1 1 0.2 1 -0.2 1 0 1 0.1 1 0.1 1 -0.3 1 0.1 1 0.1 1 0 1 -0.1 1 0.1 1 0 1 0.2 1 -0.1 1 -0.3 1 -0.1 1 0.3 1 0.1 1 -3.1 1 0.2 1 -0.2 1 0 1 0.3 1 0 1 0.1 1 -0.2 1 0.2 1 -0.1 1 0.3 1 -0.2 1 0.1 1 0 1 0.3 1 -0.1 1 0 1 0 1 2.2 1 0.3 1 -2.7 1 0.1 1 0.2 1 0 1 -0.1 1 0.1 1 0 1 0 1 -0.1 1 0.2 1 -0.2 1 0.2 1 -0.3 1 0.2 1 -0.2 1 -0.1 1 0.3 1 -0.2 1 0.2 1 -0.2 1 0.3 1 -0.2 1 -0.1 1 0.1 1 0.1 1 -0.2 1 0.2 1 0.2 1 -0.2 1 -0.1 1 -0.1 1 0.2 1 -0.3 1 -0.2 1 0.3 1 0 1 0.3 1 -0.2 1 -0.1 1 0 1 0.2 1 -0.2 1 0 1 0.1 1 0 1 0 1 0 1 0.2 1 -2.1 1 -0.3 1 0.5 1 -0.3 1 0.2 1 -0.2 1 0.2 1 0 1 0 1 0.1 1 0 1 -0.1 1 0.1 1 0.1 1 0.1 1 -0.1 1 0 1 0.1 1 1.4 1 0 1 0.3 1 -0.2 1 0 1 -0.1 1 0.3 1 0 1 -0.2 1 0.1 1 -0.2 1 0.3 1 -0.1 1 -0.2 1 0.3 1 -0.1 1 0 1 0 1 -0.2 1 0 1 0.2 1 -0.1 1 -0.1 1 0.4 1 -0.3 1 -0.1 1 0 1 0.2 1 0 1 -0.1 1 0.1 1 -0.3 1 0.2 1 0 1 0 1 0.1 1 -0.3 1 0.6 1 -0.5 1 0.1 1 0.1 1 0 1 -0.1 1 -0.3 1 0.2 1 0.2 1 -0.2 1 0 1 -0.2 1 0.5 1 -0.1 1 -0.2 1 -2 1 0.1 1 -0.1 1 0.1 1 0.1 1 0.1 1 0.1 1 -0.1 1 -0.1 1 0.2 1 -0.1 1 -0.1 1 0.4 1 -0.2 1 0.1 1 0.1 1 -0.2 1 0.2 0.5 1.5 0.9 -80.1 1.2 0.6 0.6 26.3 1 -2.8 1.6 56.5 0.6 -0.5 1.2 -92.6 0.9 1.6 1.3 91.5 1 -0.5 1.2 -49 2 20.8 1.8 28.2 0.2 0 1 0 1 0.1 1 -0.1 1 0 1 -0.1 1 -0.1 1 0 1 0.1 1 0.3 1 -0.1 1 -0.2 1 -0.1 1 0.3 1 0 1 -0.3 1 0.3 1 -0.1 1 0.2 1 -0.2 1 0.1 1 -0.1 1 -0.1 1 0.1 1 -0.1 1 0.2 1 -0.2 1 -0.1 1 0.3 1 0 1 0.1 1 -0.1 1 -0.3 1 0.1 1 0 1 -2 1 -0.2 1 0.3 1 0.1 1 -0.2 1 0.2 1 0.2 1 -0.1 1 0.1 1 0 1 0 1 0 1 0 1 0.2 1 -0.2 1 0 1 0.2 1 -0.1 1 1.7 1 0 1 -0.1 1 0 1 0.1 1 0 1 -0.3 1 0 1 0.4 1 -0.2 1 -0.2 1 0 1 0.2 1 -0.1 1 0.2 1 -0.1 1 0.1 1 -0.2 1 0.2 1 0.1 1 -0.3 1 0.3 1 -0.1 1 0 1 -0.1 1 -0.1 1 0 1 0.2 1 0 1 0 1 0 1 0 1 -0.1 1 -0.1 1 0.1 1 0.1 1 -0.1 1 -0.2 1 0.1 1 -0.1 1 0.2 1 -0.1 1 0.1 1 0 1 0 1 0.2 1 -0.3 1 -0.2 1 0.4 1 -2 1 0 1 -0.1 1 0.1 1 0 1 -0.2 1 0.2 1 0.1 1 -0.1 1 0.3 1 -0.3 1 0.1 1 0.2 1 -0.1 1 -0.1 1 0 1 0.2 1 0.3 1 1.4 1 0 1 -0.2 1 0.2 1 -0.1 1 -0.1 1 0 1 0.1 1 0.1 1 -0.1 1 0.1 1 0.1 1 -0.3 1 0 1 0.2 1 0 1 -0.1 1 0 1 0 1 0.1 1 -0.1 1 0.1 1 -0.2 1 0 1 0.1 1 -0.1 1 0.2 1 -0.1 1 -0.1 1 0.1 1 -0.1 1 -0.1 1 0.1 1 0 1 0 1 0.1 1 0.1 1 0 0.5 -0.1 1 -65.8 1 65.8 6.5 0 1 -98.2 1.5 67.2 1.3 -70.4 1.2 94.4 0.6 6 0.7 0 0.9 -58 1.1 4 1.7 53.5 1 -0.2 1 -0.1 1 0.1 1 -0.1 1 0 1 0.1 1 0.1 1 0.1 1 -0.2 1 0.3 1 1.2 1 0.1 1 0.1 1 0.1 1 -0.2 0.6 -0.4 1.3 -96.5 1.2 50.6 1.3 -5 1.1 9.4 2 42 1.3 0 1.4 -95.8 0.8 1.3 0.9 94.5 0.1 0 1 0.1 1 -0.1 1 0.3 1 -0.2 1 -0.1 1 0 1 -0.1 1 0.1 1 0.1 1 -0.2 1 0.3 1 -0.2 1 0 1 0.1 1 -0.3 1 0.1 1 0.2 1 -0.1 1 0 1 0.1 1 -0.2 1 0.1 1 -0.2 1 0 1 0.4 1 -0.3 1 0 1 0.3 1 -0.1 0.6 -0.1 0.7 -29.5 1.1 0.5 0.7 27.1 0.9 -0.2 1 0.2 1 0 1 0 1 0.1 1 0 1 0.2 1 0 1 -0.4 1 0.4 1 -0.2 1 0 1 0.3 1 -0.2 1 0.1 1 0.2 1 1.3 1 0 1 0.1 1 0.2 1 -0.1 1 -0.3 1 0.1 1 0.1 1 0.2 1 -0.1 1 0 1 0 1 -0.1 1 0.1 1 0 1 -0.2 1 0.1 1 0.1 1 -0.2 1 0.2 1 0 1 0 1 -0.2 1 0.1 1 0.2 1 -0.1 1 -0.2 1 0.1 1 0.2 1 -0.2 1 0.1 1 0.2 1 -0.3 1 0 1 -0.1 1 0 1 0.3 1 -0.2 1 -0.1 1 0 1 0.1 1 0.1 1 -0.2 1 0.2 1 -0.2 1 0.1 0.1 0 0.7 -10.8 1.1 0.6 0.7 8.3 0.4 -0.2 1 0.1 1 0.1 1 -0.2 1 0.2 1 0.1 1 0.1 1 -0.1 1 0 1 0.1 1 -0.1 1 0.1 1 0.1 1 0 1 -0.1 1 0.1 1 1.3 1 0.4 1 -0.2 1 0.1 1 -0.1 1 0.1 1 0.1 1 0 1 -0.3 1 0.3 1 -0.1 1 -0.1 1 0.2 1 -0.1 1 0 1 -0.1 1 0.1 1 0 1 0 1 -0.1 1 0 1 0.1 1 0.2 1 -0.2 1 0.2 1 -0.2 1 -0.1 1 0.2 1 -0.2 1 0.1 1 0.1 1 -0.1 1 0 1 0.3 1 -0.3 1 0 1 0.1 1 -0.1 1 0 1 0 1 -0.3 1 0.5 1 -0.3 1 0 1 0.2 1 -0.1 1 -0.2 0.1 0.2 0.7 -25.8 1.1 0.6 0.7 23.3 0.4 -0.2 1 -0.1 1 0.2 1 0.1 1 0 1 0.1 1 0.1 1 -0.1 1 0 1 0 1 0.3 1 -0.2 1 0.1 1 0 1 0.1 1 0 1 1.5 1 0 1 -0.1 1 0 1 0.1 1 0.1 1 0 1 -0.1 1 -0.1 1 0.2 1 0 1 -0.3 1 0.3 1 0 1 0.1 1 -0.3 1 -0.1 1 0.3 1 -0.3 1 0.1 1 0 1 0 1 -0.1 1 0.2 1 0.1 1 0 1 0 1 -0.1 1 0.2 1 -0.1 1 0 1 -0.3 1 0.2 1 -0.1 1 0.1 1 0 1 -0.1 1 0.1 1 0.1 1 0 1 0 1 -0.2 1 0 1 0 1 0.1 1 0.1 1 0 1 -2.2 1 -0.1 1 0.2 1 0 1 -0.2 1 0.1 1 0.2 1 -0.1 1 0.4 1 -0.2 1 -0.1 1 0.1 1 0.3 1 -0.3 1 0.3 1 0 1 0.1 1 -0.1 1 1.5 1 0.1 1 -0.1 1 0.1 1 -0.1 1 0.2 1 -0.2 1 0.1 1 -0.2 1 0.1 1 0 1 0 1 0.1 1 -0.2 1 0 1 0.2 1 -0.1 1 -0.1 1 0.2 1 0 1 -0.4 1 0.3 1 0.1 1 0 1 -0.2 1 0.3 1 -0.3 1 0.1 1 0 1 0 1 0.1 1 0 1 -0.1 1 0.2 1 -0.3 1 0.1 1 0.2 1 -0.2 1 0.1 1 -0.1 1 0 1 0 1 0 1 0 1 0 1 0.1 1 0 0.1 -0.1 0.7 -30.8 1.1 0.6 0.7 28.3 0.4 0 1 -0.2 1 0 1 0.4 1 0 1 -0.1 1 0 1 -0.1 1 0 1 0.2 1 -0.2 1 0.4 1 -0.2 1 0.1 1 0.3 1 0 1 1.3 1 0.1 1 -0.2 1 0 1 0.1 1 0.2 1 -0.3 1 0.2 1 -0.1 1 -0.1 1 0.1 1 0.2 1 -0.2 1 0.1 1 0 1 -0.2 1 0.3 1 0 1 0 1 0 1 -0.3 1 0 1 0 1 0 1 0 1 0.2 1 0.1 1 -0.3 1 0.2 1 -0.2 1 0.1 1 -0.1 1 -0.1 1 0.2 1 0 1 0 1 -0.1 1 0 1 0.1 1 -0.1 1 0.1 1 -0.1 1 0.1 1 0.1 1 0.1 1 -0.1 1 -0.1 1 -2.2 1 -0.1 1 0.3 1 0.2 1 0.1 1 -0.5 1 0.2 1 0.1 1 0 1 0.1 1 0.1 1 -0.1 1 0.1 1 -0.1 1 0.1 1 0 1 0.2 1 -0.2 1 1.7 1 0.1 1 -0.1 1 0.1 1 -0.2 1 0.2 1 0 1 0.2 1 -0.2 1 0.1 1 -0.2 1 0 1 0.2 1 -0.1 1 0.1 1 -0.1 1 0.2 1 0 1 -0.4 1 0.3 1 -0.1 1 0 1 -0.1 1 0.1 1 -0.2 1 0 1 0 1 0.1 1 0.1 1 0 1 -0.1 1 -0.1 1 -0.1 1 0.3 1 -0.1 1 0 1 0.2 1 -0.2 1 0 1 -0.3 1 0.4 1 -0.1 1 -0.1 1 0.1 1 -0.1 1 0 1 0.3 1 -0.1 0.4 -0.1 0.6 -21.8 1.2 0.5 0.6 19.4 0.2 0 1 0 1 0.2 1 -0.2 1 0.1 1 -0.1 1 0 1 -0.2 1 0.1 1 0.5 1 0 1 -0.2 1 0.1 1 0.1 1 -0.2 1 0.4 1 1.2 1 0 1 -0.2 1 0.5 1 -0.2 1 0.2 1 -0.3 1 0.1 1 0 1 0 1 0.3 1 0 1 -0.1 1 -0.2 1 0.1 1 0.1 1 -0.1 1 0 1 0 1 -0.2 1 0.1 1 0.2 1 -0.3 1 0.1 1 0.1 0.6 -0.1 0.7 -12.5 1.1 0.5 0.7 12 0.9 -0.1 1 -0.1 1 0.1 1 0 1 0.1 1 0 1 -0.3 1 0.5 1 -0.2 1 -0.1 1 0 1 0.1 1 -0.1 1 0.1 1 -0.1 1 0.2 1 -0.2 1 0.2 1 -0.1 1 -2.1 1 0.2 1 -0.1 1 -0.1 1 0.2 1 0 1 0 1 0.1 1 0.3 1 -0.3 1 0.1 1 -0.1 1 0.3 1 -0.2 1 0 1 0 1 0.2 1 0.1 1 1.2 1 0.1 1 0.2 1 0 1 -0.3 1 0.2 1 0.1 1 -0.2 1 0 1 0 1 -0.1 1 0.2 1 0 1 -0.2 1 0.2 1 0.1 1 -0.1" stroke="#6ED0E0" stroke-width="1" fill="none" stroke-linejoin="round"/>
</svg>
<div class="t" style="left:19.41px;top:329.24px;font-size:12px;letter-spacing:-0.270px;-webkit-text-stroke:0.25px #c7d0d9;color:#c7d0d9;">20 A</div>
<div class="t" style="left:19.40px;top:358.24px;font-size:12px;letter-spacing:-0.266px;-webkit-text-stroke:0.25px #c7d0d9;color:#c7d0d9;">15 A</div>
<div class="t" style="left:19.40px;top:387.24px;font-size:12px;letter-spacing:-0.266px;-webkit-text-stroke:0.25px #c7d0d9;color:#c7d0d9;">10 A</div>
<div class="t" style="left:25.84px;top:416.24px;font-size:12px;letter-spacing:-0.291px;-webkit-text-stroke:0.25px #c7d0d9;color:#c7d0d9;">5 A</div>
<div class="t" style="left:25.84px;top:445.04px;font-size:12px;letter-spacing:-0.291px;-webkit-text-stroke:0.25px #c7d0d9;color:#c7d0d9;">0 A</div>
<div class="t" style="left:50.61px;top:457.84px;font-size:12px;letter-spacing:0.030px;-webkit-text-stroke:0.25px #c7d0d9;color:#c7d0d9;">23:00</div>
<div class="t" style="left:124.17px;top:457.84px;font-size:12px;letter-spacing:0.030px;-webkit-text-stroke:0.25px #c7d0d9;color:#c7d0d9;">00:00</div>
<div class="t" style="left:197.67px;top:457.84px;font-size:12px;letter-spacing:0.030px;-webkit-text-stroke:0.25px #c7d0d9;color:#c7d0d9;">01:00</div>
<div class="t" style="left:271.17px;top:457.84px;font-size:12px;letter-spacing:0.030px;-webkit-text-stroke:0.25px #c7d0d9;color:#c7d0d9;">02:00</div>
<div class="t" style="left:344.67px;top:457.84px;font-size:12px;letter-spacing:0.030px;-webkit-text-stroke:0.25px #c7d0d9;color:#c7d0d9;">03:00</div>
<div class="t" style="left:418.17px;top:457.84px;font-size:12px;letter-spacing:0.030px;-webkit-text-stroke:0.25px #c7d0d9;color:#c7d0d9;">04:00</div>
<div class="t" style="left:491.67px;top:457.84px;font-size:12px;letter-spacing:0.030px;-webkit-text-stroke:0.25px #c7d0d9;color:#c7d0d9;">05:00</div>
<div class="t" style="left:565.17px;top:457.84px;font-size:12px;letter-spacing:0.030px;-webkit-text-stroke:0.25px #c7d0d9;color:#c7d0d9;">06:00</div>
<div class="t" style="left:638.67px;top:457.84px;font-size:12px;letter-spacing:0.030px;-webkit-text-stroke:0.25px #c7d0d9;color:#c7d0d9;">07:00</div>
<div class="t" style="left:712.17px;top:457.84px;font-size:12px;letter-spacing:0.030px;-webkit-text-stroke:0.25px #c7d0d9;color:#c7d0d9;">08:00</div>
<div class="t" style="left:785.67px;top:457.84px;font-size:12px;letter-spacing:0.030px;-webkit-text-stroke:0.25px #c7d0d9;color:#c7d0d9;">09:00</div>
<div class="t" style="left:858.96px;top:457.84px;font-size:12px;letter-spacing:0.030px;-webkit-text-stroke:0.25px #c7d0d9;color:#c7d0d9;">10:00</div>
<div class="t" style="left:932.91px;top:457.84px;font-size:12px;letter-spacing:0.029px;-webkit-text-stroke:0.25px #c7d0d9;color:#c7d0d9;">11:00</div>
<div class="t" style="left:1005.96px;top:457.84px;font-size:12px;letter-spacing:0.030px;-webkit-text-stroke:0.25px #c7d0d9;color:#c7d0d9;">12:00</div>
<div class="t" style="left:1079.46px;top:457.84px;font-size:12px;letter-spacing:0.030px;-webkit-text-stroke:0.25px #c7d0d9;color:#c7d0d9;">13:00</div>
<div class="t" style="left:1152.96px;top:457.84px;font-size:12px;letter-spacing:0.030px;-webkit-text-stroke:0.25px #c7d0d9;color:#c7d0d9;">14:00</div>
<div class="t" style="left:1226.46px;top:457.84px;font-size:12px;letter-spacing:0.030px;-webkit-text-stroke:0.25px #c7d0d9;color:#c7d0d9;">15:00</div>
<div class="t" style="left:1299.96px;top:457.84px;font-size:12px;letter-spacing:0.030px;-webkit-text-stroke:0.25px #c7d0d9;color:#c7d0d9;">16:00</div>
<div class="t" style="left:1373.46px;top:457.84px;font-size:12px;letter-spacing:0.030px;-webkit-text-stroke:0.25px #c7d0d9;color:#c7d0d9;">17:00</div>
<div class="t" style="left:1446.96px;top:457.84px;font-size:12px;letter-spacing:0.030px;-webkit-text-stroke:0.25px #c7d0d9;color:#c7d0d9;">18:00</div>
<div class="t" style="left:1520.46px;top:457.84px;font-size:12px;letter-spacing:0.030px;-webkit-text-stroke:0.25px #c7d0d9;color:#c7d0d9;">19:00</div>
<div class="t" style="left:1594.11px;top:457.84px;font-size:12px;letter-spacing:0.030px;-webkit-text-stroke:0.25px #c7d0d9;color:#c7d0d9;">20:00</div>
<div class="t" style="left:1667.61px;top:457.84px;font-size:12px;letter-spacing:0.030px;-webkit-text-stroke:0.25px #c7d0d9;color:#c7d0d9;">21:00</div>
<div class="t" style="left:1741.11px;top:457.84px;font-size:12px;letter-spacing:0.030px;-webkit-text-stroke:0.25px #c7d0d9;color:#c7d0d9;">22:00</div>
<div class="dash" style="left:30.5px;top:490px;background:#7EB26D;"></div>
<div class="dash" style="left:187.5px;top:490px;background:#EAB839;"></div>
<div class="dash" style="left:345.2px;top:490px;background:#6ED0E0;"></div>
<div class="t" style="left:47.44px;top:483.84px;font-size:12px;letter-spacing:-0.223px;-webkit-text-stroke:0.25px #d8d9e0;color:#d8d9e0;">Phase 1</div>
<div class="t" style="left:96.00px;top:483.84px;font-size:12px;letter-spacing:-0.086px;-webkit-text-stroke:0.25px #d8d9e0;color:#d8d9e0;">Current: 1.90 A</div>
<div class="t" style="left:204.44px;top:483.84px;font-size:12px;letter-spacing:0.053px;-webkit-text-stroke:0.25px #d8d9e0;color:#d8d9e0;">Phase 2</div>
<div class="t" style="left:253.60px;top:483.84px;font-size:12px;letter-spacing:-0.107px;-webkit-text-stroke:0.25px #d8d9e0;color:#d8d9e0;">Current: 0.15 A</div>
<div class="t" style="left:362.24px;top:483.84px;font-size:12px;letter-spacing:-0.050px;-webkit-text-stroke:0.25px #d8d9e0;color:#d8d9e0;">Phase 3</div>
<div class="t" style="left:409.90px;top:483.84px;font-size:12px;letter-spacing:-0.057px;-webkit-text-stroke:0.25px #d8d9e0;color:#d8d9e0;">Current: 0.74 A</div>
<div class="t" style="left:879.39px;top:524.15px;font-size:14px;font-weight:bold;letter-spacing:-0.170px;color:#d8d9e0;">EM3 - Watt</div>
<svg width="1843" height="130" viewBox="0 556 1843 130" style="top:556px">
<path d="M50 563.5H1812M50 592.5H1812M50 621.5H1812M50 650.5H1812M50 679.5H1812M67.5 563 V680M141.5 563 V680M214.5 563 V680M287.5 563 V680M361.5 563 V680M434.5 563 V680M508.5 563 V680M581.5 563 V680M655.5 563 V680M728.5 563 V680M801.5 563 V680M875.5 563 V680M948.5 563 V680M1022.5 563 V680M1095.5 563 V680M1168.5 563 V680M1242.5 563 V680M1315.5 563 V680M1389.5 563 V680M1462.5 563 V680M1536.5 563 V680M1609.5 563 V680M1682.5 563 V680M1756.5 563 V680" stroke="rgba(200,200,200,0.22)" stroke-width="1" fill="none"/>
<path d="M50 669.2l1 0.2 1 0.8 1 -0.4 1 -1 1 0.7 1 -0.3 1 0.4 1 -0.8 1 0.8 1 0 1 0.6 1 -0.6 1 0.1 1 -0.9 1 1.7 1 -1.9 1 1.4 1 -0.6 1 -0.3 1 0.1 1 0 1 0.5 1 -0.2 1 0.7 1 -1.5 1 0.8 1 -0.4 1 0.7 1 -1.3 1 0.8 1 0.3 1 -0.8 1 1.1 1 -0.3 1 0.4 1 -0.1 1 -0.8 1 0 1 0.3 1 0.4 1 0.1 1 -0.7 1 0 1 -0.1 1 0.1 1 0.2 1 0 1 1 1 -1.1 1 0.1 1 0.3 1 -0.6 1 0.2 1 0.2 1 0.3 1 -0.9 1 1.2 1 -0.8 1 0.3 1 0.3 1 -0.1 1 0.2 1 -0.4 1 -0.1 1 0.1 1 -0.5 1 0.9 1 -0.8 1 -0.3 1 1.5 1 -1 1 -0.4 1 1.3 1 -0.9 1 0.6 1 -0.9 1 0.3 1 -0.7 1 -0.1 1 0.5 1 0.4 1 0.4 1 0.7 1 -1.6 1 1 1 -0.8 1 0.2 1 -0.6 1 0 1 0.3 1 -0.1 1 0.5 1 -0.3 1 0.9 1 -0.5 1 0 1 0.4 1 -0.3 1 -0.2 1 0 1 -0.1 1 0.6 1 -0.1 1 -0.2 1 0.2 1 -0.6 1 0.4 1 -0.8 1 1.2 1 -0.6 1 0.1 1 0.2 1 -0.3 1 -0.1 1 0.6 1 -0.4 1 -0.5 1 0.6 1 -1 1 1.5 1 -0.8 1 0.1 1 1 1 0 1 -0.9 1 0.2 1 0.2 1 0.3 1 -0.9 1 0.2 1 0.5 1 -0.5 1 0.2 1 0 1 -0.8 1 0.1 1 -0.8 1 1.1 1 0.7 1 -1.1 1 1.1 1 -0.2 1 -0.4 1 0 1 0 1 -0.4 1 0.3 1 0.1 1 0.3 1 0.1 1 -0.7 1 0.7 1 -0.8 1 0.3 1 0.3 1 -0.2 1 -0.1 1 0.2 1 -0.3 1 -0.1 1 0.2 1 0.5 1 -0.4 1 0.9 1 -0.8 1 -1.4 1 1.1 1 0.9 1 -0.7 1 -0.2 1 -0.2 1 1 1 -0.1 1 -0.2 1 -0.1 1 0.4 1 -0.2 1 -1 1 0.9 1 -0.2 1 -0.1 1 0.3 1 -0.3 1 -1.3 1 2 1 -0.2 1 -0.6 1 -0.1 1 0.3 1 -0.7 1 0.7 1 -0.2 1 -0.1 1 -0.2 1 0.1 1 0.8 1 0.1 1 -0.4 1 -0.2 1 -0.4 1 0.7 1 0.4 1 -1.4 1 1.2 1 -1.5 1 0.8 1 0.4 1 -0.8 1 -0.1 1 0.8 1 0.3 1 -0.6 1 0.8 1 -1 1 1.2 1 -0.7 1 0 1 0.2 1 -0.2 1 0.7 1 0.2 1 -0.8 1 -0.3 1 -0.4 1 0.2 1 0.3 1 0 1 0 1 0 1 0.2 1 -0.8 1 0.1 1 1 1 -0.1 1 -0.6 1 0.8 1 -0.9 1 0.2 1 -0.7 1 1.2 1 -0.4 1 0.5 1 -0.2 1 -0.3 1 0.1 1 0.4 1 -0.6 1 0 1 0.1 1 0.4 1 0 1 0.5 1 -0.9 1 0.6 1 -0.9 1 0.6 1 -0.2 1 0.7 1 -0.5 1 -0.5 1 0.5 1 -0.1 1 -0.3 1 0 1 -0.3 1 1.7 1 -1.2 1 0.4 1 -1 1 0 1 0.5 1 0 1 0.4 1 -0.8 1 0.7 1 0.4 1 -1.1 1 0.8 1 -0.8 1 0.6 1 0 1 0.6 1 -1.1 1 0.4 1 0.4 1 -1 1 0.5 1 -0.4 1 0.1 1 0.6 1 0 1 0.9 1 -0.6 1 0 1 -0.7 1 0 1 0.2 1 -1.1 1 1.8 1 -1.1 1 -0.2 1 0.3 1 0.6 1 0.2 1 -0.8 1 0.4 1 -0.2 1 -0.4 1 0.5 1 -0.1 1 -0.7 1 1.2 1 -1.2 1 0.8 1 -0.6 1 0.1 1 0.1 1 0.6 1 -0.9 1 0.5 1 0.8 1 -1 1 0.3 1 0.3 1 -0.6 1 0.5 1 -0.5 1 0.6 1 -0.3 1 -0.4 1 1 1 -0.6 1 -0.1 1 -0.3 1 0.2 1 0.2 1 0.1 1 0.4 1 -1.1 1 0.4 1 0.7 1 -0.4 1 0.1 1 0.5 1 -0.5 1 0 1 -0.2 1 0.8 1 -0.3 1 -0.8 1 0.6 1 -0.8 1 1 1 -0.2 1 -0.4 1 -0.1 1 -0.6 1 1.1 1 -0.3 1 -0.1 1 0.4 1 -0.6 1 0 1 0 1 -0.3 1 1.7 1 -1.2 1 -0.1 1 0.6 1 -1.8 1 1.4 1 0 1 -0.4 1 0.6 1 -1.1 1 0.9 1 0.4 1 -1.4 1 0.3 1 0.6 1 0.1 1 -0.3 1 0.4 1 0 1 -0.8 1 0.6 1 -0.5 1 -0.4 1 -0.2 1 1.6 1 -0.5 1 0.9 1 -1.5 1 0.5 1 0.3 1 -0.2 1 0.2 1 -0.1 1 -0.4 1 -0.7 1 0.6 1 1.2 1 -0.4 1 0.3 1 -0.9 1 0.1 1 -0.3 1 0.6 1 -0.1 1 0.1 1 0.6 1 -1.1 1 0.7 1 -1 1 1.1 1 -0.7 1 0.2 1 0.1 1 0.7 1 -0.8 1 -0.2 1 -0.3 1 0.7 1 -0.5 1 0.1 1 0.2 1 0.3 1 -0.6 1 0.6 1 0.5 1 -1.4 1 1.3 1 0.3 1 -1.2 1 0.5 1 -0.9 1 0.8 1 -0.3 1 0.3 1 -0.6 1 0.1 1 0.1 1 -0.1 1 0.1 1 0.1 1 -0.4 1 0.5 1 0.3 1 -1.3 1 1.1 1 -0.4 1 -0.2 1 -0.1 1 0.2 1 0.1 1 0.5 1 -0.7 1 1 1 -0.8 1 0.6 1 0.2 1 -1 1 1 1 0.5 1 -1.2 1 0.5 1 -0.3 1 0.1 1 -0.1 1 -0.2 1 0.6 1 0.1 1 -0.4 1 0.7 1 -0.2 1 -0.2 1 -0.6 1 1.1 1 -0.2 1 -1.6 1 0.5 1 0.3 1 0.6 1 0.2 1 -0.7 1 0.2 1 0.2 1 -0.9 1 0.9 1 -0.4 1 0.2 1 -0.1 1 -0.5 1 0.1 1 0.4 1 0.1 1 -0.2 1 0.6 1 -0.7 1 -0.3 1 0.3 1 0.1 1 0 1 0.6 1 -0.3 1 0.3 1 -0.2 1 -0.4 1 0.6 1 -0.6 1 0.2 1 -0.5 1 0.4 1 -0.1 1 0.3 1 0.6 1 0.3 1 -0.6 1 -0.5 1 0.4 1 -0.3 1 -0.4 1 0.3 1 -0.1 1 -0.2 1 0.9 1 -0.8 1 0 1 0.5 1 -0.6 1 -0.2 1 0.1 1 0.6 1 0 1 -0.1 1 -0.3 1 -0.2 1 0.8 1 -1 1 0.5 1 -0.5 1 0.4 1 0.1 1 0.7 1 -1.9 1 1.9 1 -1 1 0.5 1 0.3 1 -0.7 1 0.3 1 0.2 1 -0.2 1 -0.3 1 0.4 1 0 1 -0.8 1 1.3 1 -0.5 1 -1.2 1 0.7 1 1.2 1 -0.1 1 -0.6 1 -0.8 1 0.6 1 0.6 1 -0.3 1 -0.3 1 -0.2 1 0.7 1 -0.5 1 0.3 1 0 1 0.6 1 -0.7 1 0 1 -0.9 1 1.3 1 -0.1 1 -0.4 1 -1 1 0.8 1 0.3 1 0.9 1 -0.7 1 0.1 1 0 1 0.2 1 -1.1 1 0.1 1 -0.1 1 0.4 1 0 1 0.2 1 -0.5 1 0.5 1 -0.5 1 1.4 1 -1.2 1 1.4 1 -0.4 1 -1.3 1 0.9 1 -0.1 1 -1 1 1 1 -0.3 1 0.2 1 -0.6 1 0.4 1 0.2 1 -0.3 1 -0.2 1 0.2 1 -0.3 1 0.6 1 -1.3 1 1.8 1 -0.7 1 0.2 1 0.2 1 -0.9 1 1.5 1 -1.5 1 0.7 1 0 1 0.4 1 -0.6 1 -0.6 1 0.8 1 -1.3 1 1 1 -0.1 1 0.9 1 -0.8 1 -0.1 1 -0.1 1 -0.1 1 0.2 1 0.5 1 -0.9 1 0.5 1 -0.6 1 0.6 1 0.2 1 -0.7 1 0.3 1 0.4 1 0.3 1 0 1 -0.4 1 -0.4 1 -0.3 1 1.1 1 0.2 1 -0.4 1 0.5 1 -0.9 1 0 1 0.9 1 -1.2 1 0.8 1 -0.1 1 -0.1 1 0.7 1 -1.2 1 0.2 1 -0.7 1 0.4 1 0.3 1 0 1 0.1 1 0.2 1 -0.4 1 -0.6 1 1 1 0.1 1 -0.7 1 0.1 1 1.2 1 -0.3 1 0 1 -0.2 1 -0.2 1 -0.3 1 0.5 1 -0.4 1 -0.1 1 0.2 1 0 1 0.4 1 -0.8 1 1.5 1 -1.6 1 0.3 1 0.6 1 -0.8 1 0.2 1 0.2 1 -1.3 1 1.1 1 -0.2 1 0.3 1 0.3 1 0.1 1 0.4 1 0 1 -0.2 1 -0.5 1 0.5 1 -1 1 0.5 1 0.7 1 -0.3 1 -1 1 0.3 1 0.7 1 -0.1 1 0.2 1 -1.3 1 0.2 1 0.5 1 -0.3 1 0.4 1 0 1 0.2 1 -0.3 1 0.4 1 0.1 1 -0.3 1 -0.6 1 1.1 1 -0.5 1 0.1 1 -0.1 1 -0.8 1 1 1 -0.6 1 -0.2 1 1.1 1 -0.7 1 0.2 1 0.3 1 0.3 1 -1.5 1 0.5 1 0.6 1 -0.6 1 -1.2 1 1.6 1 0 1 0.3 1 -0.3 1 -0.3 1 0.3 1 -0.1 1 -0.2 1 0.3 1 0.1 1 -0.7 1 1 1 -0.1 1 0 1 -1.6 1 1.3 1 -0.1 1 -0.4 1 0.7 1 -1 1 1.3 1 -0.4 1 -0.4 1 0.9 1 -0.5 1 0 1 -0.8 1 0.8 1 0.4 1 -0.1 1 -1.1 1 1.2 1 0.1 1 -0.3 1 -0.6 1 -0.5 1 0.3 1 0.1 1 0.4 1 0.1 1 -0.5 1 -0.4 1 0.5 1 -0.4 1 1.2 1 -1.2 1 0.8 1 0.2 1 -0.9 1 0.9 1 -0.5 1 -0.3 1 0 1 0.4 1 0.5 1 -1.4 1 1.2 1 -0.4 1 -0.3 1 0.3 1 0.1 1 0 1 0.3 1 -0.7 1 1.3 1 -0.5 1 -0.7 1 -0.6 1 0.9 1 -0.2 1 0.5 1 0 1 0.6 1 -1 1 0.4 1 -0.5 1 0 1 0.9 1 -0.8 1 0 1 -0.1 1 0.3 1 0.2 1 -0.4 1 -0.4 1 0.7 1 -0.6 1 0.2 1 0.3 1 0 1 -1.2 1 1.9 1 -0.4 1 0.5 1 0.2 1 -1.5 1 0.1 1 0.4 1 0.3 1 -0.6 1 0.1 1 0.6 1 -0.9 1 0.5 1 0.4 1 -0.6 1 0.4 1 -0.4 1 -0.6 1 0.4 1 0.2 1 -0.1 1 0.2 1 0.2 1 -0.1 1 0 1 -0.3 1 0.1 1 -0.1 1 -0.1 1 0.9 1 -1.5 1 1 1 -0.9 1 0.5 1 0.6 1 -0.5 1 0.8 1 -1.1 1 0.3 1 -0.2 1 0.3 1 -0.1 1 0 1 0.2 1 0.4 1 -0.4 1 -0.1 1 -0.1 1 -0.2 1 -0.3 1 0.1 1 0.5 1 -0.9 1 1.2 1 -0.5 1 -0.2 1 0.1 1 0.6 1 -0.1 1 -0.1 1 0.7 1 0.3 1 -1.7 1 1 1 -0.7 1 -0.3 1 0.4 1 0.7 1 -0.6 1 -0.1 1 0.9 1 -0.4 1 -0.3 1 0.9 1 -0.6 1 -0.5 1 -0.2 1 0.3 1 0.3 1 0.3 1 0 1 -0.3 1 -0.6 1 0.9 1 -0.4 1 -0.5 1 -0.1 1 0.7 1 0.1 1 0.2 1 -1 1 1.5 1 -1.7 1 0.8 1 0.6 1 -0.1 1 -0.9 1 0.7 1 0.2 1 -0.2 1 -0.8 1 1.2 1 -1.5 1 0.8 1 -0.5 1 0.3 1 0 1 0.4 1 -0.8 1 0.7 1 0.5 1 -0.6 1 0.2 1 0 1 -0.6 1 0.2 1 0.2 1 0.2 1 0.7 1 -0.2 1 -0.9 1 0 1 -0.3 1 -0.6 1 1.7 1 -0.4 1 -1.1 1 0.9 1 1 1 -0.8 1 0 1 -0.1 1 -0.5 1 -0.2 1 0.2 1 0.4 1 -0.1 1 0.4 1 0.5 1 -0.6 1 0.2 1 -0.6 1 -0.4 1 1.6 1 -0.7 1 0.2 1 -0.7 1 -0.6 1 1.4 1 -1.6 1 0.9 1 -0.2 1 0.4 1 0.3 1 0 1 -1.4 1 1.4 1 -1.3 1 1.2 1 -0.5 1 -0.3 1 0.2 1 -0.3 1 0.6 1 0.4 1 -0.1 1 -0.3 1 0.5 1 -0.3 1 0.8 1 -0.8 1 -0.5 1 0.2 1 -0.3 1 0.3 1 0 1 0.4 1 0 1 -0.3 1 0.2 1 -0.6 1 0.1 1 -0.8 1 0.7 1 0.2 1 1.4 1 -1.8 1 0.6 1 -0.2 1 -0.5 1 0.8 1 -0.1 1 -0.7 1 -0.4 1 1.1 1 -0.7 1 1 1 -0.4 1 0.3 1 -0.4 1 0.9 1 -0.4 1 0.4 1 -0.7 1 -0.5 1 -0.2 1 0.5 1 0.3 1 -0.4 1 1.4 1 -1.1 1 0.2 1 -0.2 1 -0.6 1 1.1 1 -0.2 1 0.1 1 -0.8 1 0.4 1 0 1 0.5 1 -1.1 1 0.9 1 0.3 1 -0.8 1 -0.2 1 1 1 -0.5 1 0.4 1 -0.1 1 0.1 1 -0.6 1 -0.9 1 1.3 1 -0.6 1 0.6 1 -0.5 1 1 1 -0.9 1 0.5 1 0.1 1 -0.5 1 0.2 1 -0.2 1 -0.4 1 1.1 1 -1.1 1 -0.3 1 0.5 1 0.3 1 0 1 -0.2 1 -0.1 1 -0.8 1 1.3 1 0.5 1 -1.1 1 -0.5 1 1.2 1 -0.5 1 -1.7 1 1.5 1 -0.4 1 0.2 1 1.4 1 -0.4 1 -0.6 1 0.1 1 0.7 1 -1.2 1 0.9 1 -0.7 1 0.7 1 -0.3 1 -0.4 1 0.8 1 -0.2 1 0.6 1 -1.1 1 0.3 1 -0.4 1 0.9 1 -0.9 1 0.3 1 0.6 1 -0.3 1 -0.1 1 -0.1 1 0.1 1 0.1 1 -0.4 1 -0.8 1 1.5 1 -1.1 1 1.4 1 -0.7 1 1.3 1 -0.9 1 -0.4 1 0.2 1 -1 1 0.7 1 -0.3 1 0.2 1 -0.9 1 -0.1 1 1.3 1 -0.3 1 -0.2 1 0.2 1 -0.3 1 0.1 1 0.5 1 -0.4 1 0.4 1 -0.6 1 -0.5 1 0.5 1 0.2 1 -0.4 1 0.3 1 0 1 0.6 1 0 1 0.1 1 -0.9 1 0.6 1 0.4 1 -0.5 1 -0.1 1 -0.4 1 0.8 1 -0.3 1 0.4 1 -0.6 1 1.1 1 -1 1 -0.6 1 0.7 1 0.1 1 0.4 1 -0.8 1 -0.1 1 0.2 1 -0.1 1 -0.8 1 1.3 1 0.3 1 -1 1 -0.1 1 0.4 1 -0.3 1 0.8 1 -0.7 0 0.1 1.1 -17 2.5 5.7 3 3.4 0.4 -0.8 1 -1.2 1 0.5 1 -0.7 1 1.2 1 -1.7 1 1.4 1 1.7 1 -0.9 1 -0.8 1 -0.5 1 0.1 1 1.6 1 0.8 1 0.4 1 0.2 1 -0.9 1 -0.1 1 -0.6 1 -0.5 1 0.8 1 0.5 1 -1 1 0.6 1 -0.6 1 0.2 1 -0.2 1 -1.4 1 0.2 1 0.1 1 1.2 1 0.5 1 -0.3 1 -0.3 1 0.3 1 0.7 1 0.5 1 0.5 1 0.3 1 -0.5 1 -1.7 1 0.7 1 1.1 1 -0.5 1 -0.6 1 -0.6 1 -1 1 0.7 1 -0.7 1 0.4 1 1.1 1 -0.2 1 -1 1 0 1 0.3 1 1.1 1 -0.1 1 1 1 0.5 1 0.1 1 -1.4 1 -0.9 1 -0.9 1 -0.6 1 0.6 1 -1.2 1 0.9 1 1.7 1 0.4 1 0.7 1 0.2 1 -0.7 1 -1.3 1 0.5 1 -0.8 1 -0.1 1 -1.3 1 0.6 1 1.8 1 0.4 1 -0.2 1 -0.5 1 0.5 1 -1.8 1 -0.9 1 0.5 1 0.8 1 2 1 1.7 1 -0.6 1 0.4 1 -0.9 1 -2.2 1 -0.7 1 0.5 1 1.6 1 -0.3 1 -0.6 1 -0.3 1 1.4 1 0.1 1 -0.6 1 0 1 -0.4 1 -0.6 1 0.6 1 -1.4 1 -0.6 1 0.7 1 2 1 -0.2 1 -0.9 1 0 1 1.2 1 0.2 1 1.1 1 0.4 1 -0.8 1 -0.7 1 -1 1 -0.9 1 -0.6 1 0.6 1 0 1 0 1 1.6 1 1 1 -0.9 1 -1 1 0.5 1 0.2 1 -1.1 1 -0.5 1 1.4 1 0.4 1 -0.3 1 -0.4 1 1.1 1 0 1 6.6 1 0.6 1 -0.3 1 -0.1 1 0.3 1 -0.2 1 -0.9 1 1.1 1 -0.6 1 0.4 1 0.4 1 -0.4 1 -0.1 1 0.2 1 0.2 1 -0.6 1 0.1 1 0.5 1 0.5 1 -0.7 1 0.4 1 -0.8 1 0.4 1 0 1 -0.6 1 0.6 1 -0.1 1 -1.1 1 1.1 1 0.2 1 0 1 0 1 -0.6 1 0.1 1 0.3 1 -0.3 1 0.2 1 0.7 1 -0.9 1 0.2 1 1 1 -0.9 1 -0.4 1 0.6 1 0 1 -0.1 1 -0.8 1 0.9 1 0 1 0.8 1 -0.6 1 -0.5 1 0.3 1 0.2 1 -0.4 1 0.1 1 0.6 1 -0.4 1 0 1 -0.6 1 0.6 1 -1 1 1.4 1 -0.8 1 0.5 1 0.3 1 -1.1 1 1 1 -0.4 1 0.4 1 -0.6 1 -0.2 1 0.9 0.9 -0.6 1 -17 1.5 2.5 7.7 8 1.8 6.5 0.1 0.7 1 0 1 -0.8 1 -0.3 1 0.5 1 -0.8 1 0.8 1 0 1 0 1 0.6 1 0.1 1 -0.6 1 -0.3 1 0.6 1 0 0.4 -0.5 1 -17.7 2 3.2 7 6.5 3.6 8 1 -0.2 1 0.6 1 -0.1 1 -0.2 1 -0.1 1 0 1 0.1 1 -0.3 1 0 1 -0.1 1 -0.1 1 0.9 1 -1.1 1 1.2 1 -0.3 1 -1 1 -0.1 1 0.8 1 -0.5 1 0.6 1 0.3 1 -0.2 1 -0.3 1 0 1 0.8 1 -0.8 1 0.9 1 0.1 1 -1 1 0.3 1 0.6 1 -1.1 1 0.5 1 0.3 1 -0.9 1 0.6 1 -0.1 1 -0.3 1 0.9 1 -0.7 1 1 1 -0.6 1 -0.7 1 0.5 1 -0.5 1 0.7 1 -0.1 1 -0.8 1 0.4 1 0.4 1 -0.2 1 -0.5 1 0.9 1 0.1 1 -1.2 1 1.3 1 -1.6 1 0.9 1 -0.3 1 0.1 1 0.3 1 -0.6 1 0.5 1 0.8 1 -0.6 1 0.5 1 -0.3 1 -1.1 1 1.5 0.8 -0.8 1 -17 2.5 5.5 8 1 2 10.5 6.9 0 1 -16.3 3 3.8 8 6 2 6.5 0.8 0 1 0.5 1 -0.4 1 0.3 1 -0.6 1 0.7 1 -0.2 1 -0.6 1 0.2 1 0.2 1 -0.6 1 0.1 1 0.6 1 0 1 0.4 1 -1.1 1 0.4 1 -0.8 1 1.7 1 -1.4 1 0.5 1 1 1 -0.3 1 -1 1 1.4 1 -0.8 1 -0.6 1 0.5 1 0.2 1 0 1 -1.2 1 1.7 1 -1.5 1 0.6 1 0.7 1 -0.4 1 -0.2 1 -0.2 1 0.5 1 0.3 1 -0.8 1 0.4 1 -0.3 1 -0.1 1 -0.7 1 1 1 0.3 1 -0.4 1 0.5 1 -0.4 1 0.5 1 -0.5 1 -0.2 1 -0.1 1 0.3 1 0.1 1 -0.5 1 0.3 1 -0.5 1 -0.1 1 0.9 1 -0.1 1 0.2 1 -0.3 1 0 1 0.7 1 -1.1 1 0.5 1 0.5 1 0.2 1 -0.6 1 -0.3 1 -0.4 1 0.4 1 0.1 1 -0.1 1 0.2 1 0.1 1 -0.5 1 -0.2 1 0.3 1 0.3 1 0.5 1 -1.4 1 1.2 1 -0.6 1 0.6 1 0.3 1 -0.6 1 -0.7 1 0.3 1 0.4 1 -0.3 1 0.1 1 -0.3 1 0.2 1 -0.1 1 0.6 1 -0.2 1 0.1 1 -1 1 0.5 1 -0.1 1 0.1 1 -0.2 1 0.1 1 1 1 -0.8 1 -0.4 1 0.4 1 1.1 1 -0.7 1 -0.7 1 0.3 1 0.1 1 0 1 -0.8 1 0.4 1 0.3 1 -0.6 1 0.6 1 0.1 1 0.3 1 0.2 1 -0.6 1 0.2 1 0.2 1 0.1 1 -0.4 1 -0.3 1 0.6 1 0.1 1 -0.3 1 0.2 1 0.4 1 -0.9 1 -0.1 1 -0.2 1 0.7 1 0.2 1 -0.6 1 1 1 -1 1 0.3 1 -0.1 1 0.6 1 -0.9 1 1 1 -0.8 1 -0.5 1 0.4 1 0.1 1 0.8 1 -0.9 1 0.2 1 0.9 1 -0.8 1 -0.4 1 0 1 -0.4 1 0.9 1 0.3 1 -0.6 1 -0.3 1 0.5 1 -0.1 1 -0.1 1 0.3 1 -0.2 1 -0.2 1 0.6 1 -1.2 1 0.3 1 0.4 1 -0.5 1 1.2 1 -1.5 1 1.2 1 -0.1 1 -0.1 1 0.1 1 -0.5 1 0 1 0.9 1 -0.7 1 -0.5 1 0.1 1 -0.2 1 0.8 1 0.4 1 -0.6 1 0.2 1 -0.3 1 0.6 1 0 1 0 1 0.4 1 -1.3 1 0.8 1 -1 1 1 1 0.1 1 -0.1 1 0.1" stroke="#7EB26D" stroke-width="1" fill="none" stroke-linejoin="round"/><path d="M50 678.4l1 -0.1 1 0.2 1 0.1 1 0.1 1 -0.2 1 -0.1 1 0 1 0.2 1 0.1 1 -0.2 1 -0.2 1 0.1 1 0.3 1 -0.2 1 -0.3 1 0.3 1 -0.2 1 0.1 1 0 1 0 1 0.2 1 -0.1 1 -0.1 1 0.2 1 0 1 -0.3 1 0.2 1 -0.1 1 0.1 1 -0.2 1 0.2 1 0 1 0 1 -0.2 1 0.1 1 -0.1 1 -0.5 1 0.3 1 -0.2 1 0.3 1 0 1 -0.4 1 0.3 1 -0.2 1 0.2 1 0 1 -0.3 1 0.3 1 0 1 0.2 1 -0.3 1 0.3 1 -0.3 1 0.5 1 -0.1 1 0.3 1 -0.1 1 0.3 1 -0.3 1 0 1 0 1 -0.2 1 0.1 1 0.2 1 -0.3 1 0.1 1 0 1 0.1 1 -0.2 1 0.1 1 0 1 0 1 -0.1 1 0.2 1 -0.3 1 0 1 0 1 0.3 1 -0.2 1 0 1 -0.1 1 0.3 1 -0.3 1 0 1 0.3 1 -0.3 1 0.2 1 0 1 -0.1 1 0.1 1 0.2 1 -0.3 1 -0.1 1 -0.1 1 0.3 1 -0.1 1 0.1 1 -0.1 1 0 1 0 1 0 1 0.1 1 -0.1 1 0.1 1 -0.2 1 -0.2 1 -0.3 1 0.5 1 -0.2 1 -0.2 1 0.3 1 -0.1 1 -0.1 1 0 1 0 1 0.1 1 0.2 1 -0.2 1 0.1 1 0.2 1 -0.4 1 0.5 1 0 1 -0.2 1 0 1 0.2 1 0.1 1 -0.2 1 0.1 1 0.1 1 -0.1 1 0.1 1 0 1 0 1 0.2 1 -0.2 1 -0.1 1 0.1 1 -0.2 1 0 1 0.2 1 0 1 0.1 1 -0.2 1 -0.2 1 0.5 1 -0.1 1 -0.4 1 0.4 1 -0.2 1 -0.3 1 0.2 1 0 1 0.3 1 -0.3 1 0.1 1 0 1 -0.1 1 0 1 0.1 1 0.2 1 -0.1 1 -0.2 1 -0.1 1 0.2 1 -0.1 1 0 1 -0.2 1 0.6 1 -0.2 1 -0.2 1 0.2 1 -0.4 1 -0.5 1 0.3 1 0 1 0.2 1 -0.1 1 0 1 0 1 0.3 1 0 1 -0.4 1 0 1 0.5 1 -0.5 1 0.1 1 0.1 1 0 1 0.5 1 -0.1 1 -0.2 1 0.2 1 -0.1 1 0.3 1 -0.3 1 -0.2 1 0 1 0.4 1 -0.3 1 -0.2 1 0.2 1 0.1 1 0.2 1 -0.4 1 0.3 1 0 1 -0.2 1 0.1 1 0.3 1 0 1 -0.2 1 -0.1 1 0.2 1 -0.2 1 0 1 -0.1 1 0.1 1 0 1 0.4 1 -0.4 1 0.2 1 0 1 -0.2 1 0.2 1 -0.5 1 0.3 1 0.1 1 -0.5 1 0.2 1 0.4 1 -0.2 1 -0.2 1 0.1 1 0 1 0.2 1 0 1 -0.1 1 -0.1 1 -0.4 1 0.2 1 -0.1 1 0.1 1 -0.2 1 -0.1 1 0.1 1 0.2 1 -0.1 1 -0.1 1 -0.1 1 0.2 1 0 1 0 1 0 1 0.1 1 0 1 0.4 1 0 1 0.1 1 -0.1 1 -0.2 1 0.1 1 0.1 1 -0.1 1 0.1 1 0.1 1 -0.3 1 -0.2 1 0.5 1 -0.2 1 0.1 1 -0.3 1 0.5 1 -0.2 1 -0.1 1 -0.1 1 0.1 1 0 1 0 1 -0.2 1 0.4 1 -0.2 1 0 1 0 1 -0.4 1 0.5 1 -0.1 1 0 1 0 1 -0.1 1 0.2 1 -0.2 1 0 1 0 1 0.1 1 0.1 1 -0.2 1 -0.1 1 0.4 1 -0.4 1 0.4 1 -0.2 1 -0.1 1 0 1 0.2 1 0 1 -0.1 1 -0.3 1 0.2 1 -0.4 1 -0.1 1 0 1 0 1 0.1 1 0 1 -0.1 1 0.3 1 -0.5 1 0.2 1 0.5 1 -0.1 1 -0.1 1 0 1 0.2 1 0.2 1 -0.1 1 -0.2 1 0.2 1 -0.1 1 0 1 0 1 0.1 1 0 1 0.1 1 -0.3 1 0.2 1 0.3 1 -0.3 1 0.2 1 0 1 0 1 -0.1 1 -0.3 1 0.2 1 -0.1 1 -0.1 1 0.1 1 -0.1 1 0 1 0.2 1 0 1 -0.1 1 0 1 0 1 0 1 0 1 0.1 1 -0.1 1 0.2 1 0 1 0 1 -0.2 1 0 1 0.2 1 -0.1 1 0 1 -0.4 1 0 1 0.5 1 -0.1 1 0.2 1 -0.1 1 -0.1 1 0 1 -0.2 1 -0.1 1 -0.2 1 0.1 1 0 1 0 1 0.1 1 -0.2 1 0 1 0 1 0.1 1 0.3 1 -0.3 1 0.2 1 0 1 0 1 0 1 -0.3 1 0.6 1 0.1 1 -0.3 1 0.1 1 -0.1 1 0.1 1 -0.2 1 0.4 1 -0.3 1 -0.1 1 0.5 1 -0.2 1 0 1 0 1 -0.2 1 0.1 1 0.1 1 0 1 0 1 -0.1 1 -0.1 1 0.1 1 0.2 1 0 1 -0.3 1 0 1 0.3 1 -0.1 1 0 1 -0.3 1 0.1 1 0 1 0.1 1 -0.3 1 0.5 1 -0.2 1 0.1 1 -0.3 1 0.2 1 0.2 1 -0.4 1 0.2 1 0.1 1 -0.2 1 0.2 1 -0.1 1 0.2 1 -0.1 1 -0.1 1 0.3 1 -0.2 1 0.1 1 -0.4 1 -0.4 1 0.3 1 0 1 -0.1 1 0.1 1 -0.3 1 0.2 1 -0.2 1 0.3 1 -0.2 1 0 1 0.1 1 0.3 1 -0.4 1 0.1 1 0.2 1 -0.2 1 0.7 1 -0.3 1 0 1 0.1 1 0.2 1 -0.2 1 0 1 -0.1 1 -0.2 1 0.1 1 0.3 1 -0.1 1 0 1 0 1 -0.2 1 0.2 1 -0.2 1 0.2 1 -0.2 1 0.1 1 0.1 1 -0.1 1 0.1 1 0 1 0 1 0.1 1 -0.4 1 0 1 0.3 1 0 1 0.2 1 -0.2 1 0 1 -0.2 1 0.2 1 0 1 -0.3 1 0.1 1 0.1 1 0 1 -0.4 1 0.4 1 0 1 0 1 0 1 0.1 1 -0.3 1 0.3 1 -0.1 1 -0.1 1 0.1 1 0.2 1 -0.9 1 0 1 0 1 0.6 1 -0.4 1 0.1 1 -0.1 1 0 1 -0.2 1 0.3 1 0.1 1 -0.4 1 0.2 1 0 1 0.1 1 0.1 1 0.1 1 0.4 1 0 1 0 1 -0.4 1 0.1 1 0.3 1 -0.2 1 0 1 -0.3 1 0 1 0.4 1 0 1 -0.1 1 -0.1 1 -0.2 1 0.4 1 0.1 1 0 1 -0.2 1 0 1 -0.2 1 0.4 1 0.1 1 -0.4 1 0.1 1 0 1 -0.1 1 -0.3 1 0.3 1 0.2 1 -0.3 1 0.1 1 -0.4 1 0.7 1 -0.1 1 -0.1 1 0 1 -0.1 1 0.1 1 0 1 0 1 0 1 0 1 0.2 1 -0.4 1 0.2 1 -0.1 1 -0.1 1 -0.2 1 0.5 1 -0.2 1 0 1 0.2 1 -0.3 1 -0.3 1 0 1 0.2 1 0 1 -0.3 1 0.3 1 -0.1 1 0 1 0 1 0.1 1 -0.3 1 0.3 1 0.1 1 -0.2 1 0.3 1 -0.4 1 0.2 1 0.2 1 0 1 -0.1 1 0.1 1 0.1 1 -0.1 1 0.2 1 0.1 1 -0.4 1 0.3 1 -0.1 1 0 1 0.4 1 -0.2 1 -0.2 1 0 1 -0.3 1 0.4 1 -0.2 1 0.1 1 0 1 0.1 1 0.2 1 -0.2 1 0.1 1 -0.2 1 0.1 1 0 1 -0.3 1 0.5 1 -0.4 1 -0.1 1 0.4 1 0.1 1 -0.4 1 0 1 0.6 1 -0.5 1 -0.3 1 0.2 1 0.4 1 -0.2 1 0 1 0.1 1 -0.1 1 -0.1 1 -0.2 1 0.3 1 -0.3 1 0.2 1 0.3 1 -0.2 1 -0.1 1 0 1 -0.3 1 0 1 -0.3 1 0.2 1 0.2 1 -0.1 1 -0.2 1 0 1 -0.2 1 0.2 1 0.4 1 -0.3 1 -0.1 1 0.1 1 0 1 0 1 0 1 0.3 1 0.2 1 0.1 1 -0.3 1 0 1 0.3 1 -0.4 1 0.1 1 0 1 0.1 1 0 1 -0.1 1 0.1 1 -0.2 1 -0.1 1 0 1 0.4 0.7 -0.1 1 -23.5 2 -2.5 44.5 -0.2 1.5 26.2 0.3 -0.3 1 -0.1 1 0.1 1 0 1 -0.1 1 0.1 1 0.3 1 -0.2 1 0.3 1 -0.1 1 -0.1 1 0.2 1 -0.2 1 0.4 1 -0.2 1 -0.1 1 -0.1 1 0.1 1 0.1 1 -0.2 1 0.2 1 -0.4 1 0.3 1 0.1 1 0 1 -0.1 1 0.2 1 -0.3 1 0 1 0.1 1 0.2 1 -0.1 1 -0.1 1 0.1 1 0 1 -0.3 1 -0.2 1 0.3 1 -0.1 1 0.1 1 -0.1 1 0.1 1 0.2 1 -0.1 1 0 1 0.3 1 -0.4 1 0.1 1 0.2 1 -0.4 1 0 1 0.4 1 -0.1 1 0 1 0 1 0.1 1 -0.3 1 0.1 1 -0.6 1 0.2 1 0 1 -0.1 1 0.2 1 0.3 1 -0.6 1 0.3 1 0.1 1 0 1 -0.3 1 0.3 1 -0.1 1 -0.1 1 0 1 0.1 1 0.1 1 0.4 1 0.2 1 -0.4 1 0.1 1 -0.1 1 0.1 1 -0.1 1 -0.1 1 -0.1 1 0.1 1 0.2 1 0.1 1 -0.1 1 -0.3 1 0.1 1 0.1 1 0 1 0 1 0.1 1 -0.1 1 -0.1 1 -0.2 1 0.3 1 -0.2 1 0.2 1 0.1 1 -0.3 1 0.2 1 0 1 0.3 1 -0.2 1 -0.4 1 0.4 1 0 1 -0.1 1 -0.1 1 0.2 1 0 1 0 1 -0.3 1 0.2 1 -0.2 1 0 1 0.1 1 -0.1 1 0.1 1 0.5 1 -0.3 1 -0.2 1 -0.2 1 0.2 1 -0.1 1 -0.1 1 0.4 1 -0.2 1 -0.3 1 0.4 1 -0.4 1 0 1 0 1 -0.1 1 -0.1 1 0.1 1 0.3 1 -0.2 1 -0.2 1 0 1 0.1 1 0.1 1 0.1 1 0 1 0.5 1 -0.2 1 0.1 1 -9.4 1 0.1 1 -0.4 1 0.5 1 -0.4 1 0 1 0.3 1 -0.2 1 0.4 1 -0.3 1 -0.2 1 0.2 1 -0.1 1 0.3 1 0 1 -0.1 1 -0.2 1 0.1 1 0.2 1 -0.3 1 0 1 0.2 1 0 1 -0.1 1 0 1 -0.3 1 0.5 1 -0.2 1 -0.2 1 0 1 0.1 1 0.4 1 -0.2 1 -0.3 1 0.5 1 -0.1 1 -0.4 1 -0.2 1 0.5 1 -0.2 1 0.1 1 -0.1 1 0.3 1 0 1 -0.1 1 -0.1 1 0 1 0.1 1 -0.3 1 0.4 1 -0.2 1 0 1 0 1 0.1 1 0.1 1 0.1 1 -0.4 1 0 1 0.1 1 -0.1 1 0.2 1 -0.2 1 0.1 1 0.1 1 0.1 1 -0.2 1 0.2 1 0 1 -0.5 1 0.4 1 -0.1 1 0 1 -0.1 1 0.1 1 0.1 1 -0.1 1 0.2 1 0 1 -0.3 1 0 1 0.2 1 -0.2 1 0.1 1 0.1 1 0.1 1 -0.1 1 0.1 1 -0.3 1 0.2 1 -0.2 1 0.1 1 0 1 -0.1 1 -0.3 1 0.5 1 0 1 -0.1 1 -0.1 1 0.1 1 0.1 1 -0.1 1 0.2 1 -0.2 1 -0.1 1 0.2 1 -0.2 1 0.1 1 -0.3 1 0.3 1 0.1 1 -0.2 1 0.1 1 0.1 1 -0.1 1 0.3 1 -0.3 1 0 1 0 1 -0.3 1 0.1 1 0.3 1 -0.1 1 0.2 1 -0.2 1 0 1 0.2 1 -0.2 1 0.2 1 -0.4 1 0.3 1 0 1 0 1 0.1 1 0 1 -0.2 1 -0.1 1 0.3 1 -0.2 1 0.2 1 0 1 -0.2 1 -0.1 1 0.1 1 0.1 1 -0.1 1 0.2 1 -0.2 1 0 1 -0.1 1 0.1 1 0.2 1 -0.2 1 0 1 -0.1 1 0.2 1 -0.3 1 0.1 1 0.2 1 0.1 1 -0.2 1 0.2 1 -0.5 1 0.4 1 0 1 -0.3 1 -0.1 1 0.2 1 0.1 1 0.1 1 -0.1 1 0.1 1 0 1 -0.3 1 0.2 1 -0.1 1 0.3 1 -0.3 1 0.3 1 -0.2 1 0.4 1 -0.4 1 0 1 0 1 0 1 0.4 1 -0.5 1 0 1 0.1 1 0.1 1 -0.2 1 0.2 1 0 1 -0.1 1 0 1 -0.1 1 0.1 1 -0.1 1 0.3 1 0.1 1 -0.3 1 0 1 -0.3 1 0.2 1 0.2 1 -0.1 1 0 1 0.1 1 -0.1 1 -0.1 1 0.3 1 -0.5 1 0.1 1 0.1 1 0 1 0 1 0.1 1 -0.1 1 0.1 1 0.1 1 -0.1 1 0 1 -0.1 1 -0.1 1 0.2 1 0.1 1 0 1 0.1 1 0 1 0 1 -0.3 1 0.3 1 -0.1 1 0.2 1 -0.2 1 0 1 -0.1 1 0 1 -0.2 1 0.2 1 0 1 0.1 1 -0.2 1 0.1 1 0.3 1 -0.4 1 0.2 1 -0.2 1 0.1 1 0.1 1 0 1 -0.2 1 -0.1 1 0.4 1 -0.2 1 0.1 1 0 1 0 1 -0.1 1 0 1 -0.2 1 0.2 1 -0.1 1 0.1 1 0.3 1 -0.2 1 -0.1 1 -0.2 1 0.3 1 0.1 1 -0.3 1 0.2 1 -0.2 1 0.1 1 -0.1 1 -0.1 1 0.1 1 -0.1 1 0.4 1 0 1 -0.2 1 0 1 0 1 0 1 0 1 0 1 0 1 -0.2 1 0.1 1 0 1 0.1 1 -0.1 1 0.4 1 -0.3 1 -0.1 1 0.2 1 0.1 1 0.1 1 -0.2 1 -0.2 1 0.1 1 0.2 1 -0.2 1 0.1 1 -0.1 1 0.2 1 0 1 0 1 -0.2 1 -0.2 1 0 1 0.3 1 0 1 -0.5 1 0.3 1 0.3 1 -0.1 1 -0.2 1 0.2 1 -0.1 1 0 1 0.2 1 0 1 -0.3 1 0 1 -0.1 1 0 1 0.4 1 0.1 1 -0.3 1 0.2 1 -0.3 1 0.1 1 0.1 1 0 1 -0.1 1 -0.2 1 0 1 0.1 1 0 1 0.1 1 -0.1 1 0.1 1 0 1 0.1 1 -0.1 1 -0.1 1 0.1 1 0.1 1 -0.1 1 -0.1 1 0 1 0.1 1 0.1 1 0.1 1 -0.2 1 0.2 1 -0.2 1 0 1 -0.1 1 0.2 1 0.1 1 -0.2 1 -0.1 1 -0.1 1 0.2 1 0 1 0 1 -0.1 1 0 1 0 1 0.2 1 0 1 -0.1 1 0.1 1 -0.1 1 0 1 -0.2 1 0.3 1 0 1 0.1 1 -0.3 1 0.1 1 -0.1 1 0.1 1 0 1 0.1 1 -0.1 1 0.1 1 -0.2 1 0.2 0 -0.1 1.2 -7.2 1.3 7.2 0.5 0 1 0.1 1 -0.3 1 0 1 0.2 1 0 1 -0.3 1 0.1 1 0.1 1 0.2 1 -0.1 1 0.1 1 0.1 1 0.1 1 -0.5 1 0.2 1 0.2 1 -0.4 1 0 1 0.2 1 0.2 1 0 1 -0.5 1 0.1 1 0.2 1 -0.1 1 0.2 1 -0.1 1 0.3 1 -0.3 1 0 1 0 1 0.2 1 -0.4 1 0.3 1 -0.2 1 -0.1 1 0.4 1 -0.1 1 0.1 1 -0.2 1 0.1 1 -0.1 1 0.1 1 -0.2 1 0.4 1 -0.4 1 0.4 1 -0.3 1 0.1 1 -0.1 1 0.1 1 0.1 1 -0.2 1 -0.1 1 0.1 1 0.1 1 -0.5 1 0.6 1 0 1 -0.5 1 0.3 1 0.1 1 -0.3 1 0.1 1 0.1 1 0.1 1 0.1 1 -0.2 1 0 1 0.1 1 0 1 -0.1 1 0.2 1 -0.4 1 0.2 1 -0.1 1 0 1 0.1 1 0 1 0.4 1 -0.3 1 0 1 0.2 1 -0.1 1 -0.5 1 0.3 1 0.1 1 -0.2 1 0.2 1 -0.2 1 0.2 1 -0.3 1 -0.1 1 0.2 1 0.1 1 0.2 1 -0.2 0.9 0 1.5 -73 1 1.8 1.5 52 1.5 12 1.5 7.2 0.1 -0.1 1 -0.1 1 0.1 1 0 1 0.1 1 -0.1 1 0.2 1 0 1 -0.1 1 0 1 -0.3 1 0.1 1 0.1 1 0.1 1 -0.2 1 0.1 1 0.1 1 0.3 1 -0.3 1 -0.1 1 0.3 1 -0.2 1 0 1 0.2 1 -0.3 1 0.1 1 0 1 0.1 1 -0.3 1 0 1 0.1 1 0.1 1 0 1 -0.1 1 0.2 1 0 1 -0.1 1 -0.2 1 0.4 1 -0.4 1 0.2 1 0.1 1 -0.2 1 0.3 1 0.1 1 -0.1 1 -0.1 1 0 1 -0.2 1 0.2 1 0 1 -0.1 1 0 1 0 1 -0.3 1 0.4 1 -0.1 1 0.3 1 -0.2 1 -0.1 1 0.1 1 0 1 -0.1 1 -0.1 1 -0.1 1 0.2 1 0.2 1 -0.5 1 0.2 1 0.2 1 -0.1 1 0.1 1 -0.4 1 0.2 1 0.2 1 0 1 -0.1 1 -0.1 1 0.2 1 -0.3 1 0.1 1 -0.1 1 9.7 1 -0.3 1 0.1 1 -0.3 1 0.5 1 -0.1 1 -0.3 1 0 1 0.4 1 -0.3 1 0.4 1 -0.4 1 -0.3 1 0.6 1 -0.1 1 0 1 -0.2 1 0.1 1 0.1 1 -0.2 1 -0.2 1 0.4 1 -0.2 1 0.3 1 -0.3 1 0 1 0.1 1 -0.4 1 0.6 1 -0.3 1 0.1 1 0.2 1 -0.2 1 0.1 1 -0.1 1 0.1 1 -0.1 1 0.2 1 -0.2 1 0.1 1 -0.2 1 0.3 1 -0.5 1 0.3 1 0.1 1 -0.1 1 0 1 0.2 1 0.1 1 -0.4 1 -0.2 1 0.1 1 0.1 1 0.1 1 -9.5 1 0.2 1 -0.3 1 0.1 1 0 1 -0.1 1 0.1 1 0.4 1 -0.4 1 -0.1 1 -0.2 1 0.5 1 -0.3 1 0 1 0.5 1 -0.2 1 -0.5 1 0.2 1 0.2 1 0 1 -0.3 1 0.5 1 0 1 -0.5 1 -0.1 1 0.1 1 0.3 1 0.1 1 -0.2 1 -0.1 1 0.1 1 0.1 1 -0.3 1 -0.1 1 0.3 1 0.2 1 -0.2 1 0 1 -0.1 1 0.2 1 -0.4 1 0.3 1 -0.1 1 0.1 1 -0.1 1 0.2 1 -0.1 1 -0.1 1 0.2 1 -0.1 1 -0.1 1 0 1 0.2 1 -0.2 1 9.6 1 0 1 0 1 0 0.2 0 1.5 -6.5 1.5 6.5 0.8 0 1 0.2 1 -0.4 1 0.4 1 -0.4 1 0.3 1 0 1 -0.1 1 -0.1 1 0 1 0.1 1 -0.1 1 -0.2 1 0 1 0.4 1 0 1 0 1 -0.1 1 0.1 1 0 1 -0.1 1 -0.1 1 0 1 -0.1 1 0.2 1 -0.2 1 0.2 1 0.2 1 -0.3 1 0.2 1 0.1 1 -0.5 1 0.1 1 0.3 1 -0.2 1 0.2 1 0 1 -0.2 1 0.2 1 0.2 1 -0.2 1 -0.2 1 0.1 1 -0.1 1 0.3 1 -0.2 1 -0.1 1 0.1 1 0.1 1 -0.2 1 0.1 1 0 1 0.1 1 0 1 -0.1 1 -0.1 1 0.2 1 -0.2 1 0.3 1 -0.1 1 -0.1 1 -0.4 1 0.8 1 -0.2 1 0 1 -0.2 1 0.1 1 0.3 1 -0.5 1 0.2 1 0 1 -0.1 1 0.1 1 -0.2 1 0.2 1 -0.3 1 0.5 1 -0.2 1 -0.2 1 -0.2 1 0.3 1 0.1 1 -0.2 1 0.4 1 -0.2 1 -0.2 1 -0.1 1 0.2 1 0 1 0.1 1 0.1 1 -0.2 1 0.1 1 0.1 1 -0.1 1 -0.1 1 0.1 1 -0.2 1 0.2 1 -0.1 1 -0.2 1 0.3 1 -0.1 1 0.1 1 -0.3 1 0.4 1 0 1 -0.2 1 0 1 0 1 0 1 0.1 1 -0.2 1 -0.1 1 0.2 1 0.3 1 -0.3 1 -0.1 1 0 1 0.1 1 0.2 1 -0.3 1 0.1 1 0 1 0.1 1 -0.1 1 0.2 1 -0.1 1 -0.2 1 0.5 1 -0.6 1 0 1 0.4 1 -0.2 1 0 1 0 1 0.1 1 -0.2 1 0 1 -0.1 1 0.1 1 0 1 0.3 1 -0.2 1 0.1 1 -0.2 1 0.3 1 -0.4 1 0.3 1 0 1 -0.2 1 0 1 0.2 1 -0.2 1 0 1 0.1 1 -0.2 1 0.2 1 0.3 1 -0.4 1 0.2 1 -0.3 1 0.2 1 0 1 0 1 0.1 1 0.2 1 -0.3 1 0.2 1 -0.1 1 0 1 -0.2 1 0 1 0.1 1 -0.1 1 0.1 1 -0.2 1 0.2 1 0 1 0.3" stroke="#EAB839" stroke-width="1" fill="none" stroke-linejoin="round"/><path d="M50 677.6l1 0.1 1 -0.5 1 0.3 1 0.1 1 0.1 1 -0.1 1 0.1 1 -0.2 1 0.1 1 -0.1 1 -0.1 1 0 1 0.1 1 -0.1 1 0.3 1 0 1 0 1 -0.2 1 0.2 1 -0.3 1 0 1 0.1 1 0 1 -0.2 1 0 1 0.2 1 -0.1 1 0.2 1 -0.1 1 0 1 0 1 0.1 1 -0.1 1 0.1 1 -0.2 1 0.1 1 -3 1 0.2 1 0 1 0 1 0.3 1 -0.2 1 0.1 1 0.1 1 0.2 1 -0.2 1 0.2 1 -0.1 1 -0.1 1 0.3 1 0.1 1 -0.1 1 0 1 2 1 0 1 0.2 1 0.1 1 -0.2 1 0.1 1 0.1 1 -0.1 1 0.1 1 0.1 1 -0.3 1 0.2 1 -0.3 1 0.3 1 -0.1 1 -0.1 1 0 1 0.1 1 0 1 0 1 -0.1 1 0.2 1 -0.2 1 0.1 1 0 1 0.2 1 -0.4 1 0.2 1 0.1 1 -0.2 1 0 1 0.1 1 0 1 0.1 1 -0.2 1 0.1 1 0.1 1 0 1 -0.2 1 0.3 1 -0.3 1 -0.1 1 0.1 1 0.1 1 0 1 0.1 1 0 1 -0.1 1 0 1 0.2 1 -0.5 1 -2.8 1 0.2 1 0 1 -0.1 1 0.2 1 0.1 1 -0.2 1 0.4 1 0.1 1 0.1 1 -0.2 1 0.1 1 -0.1 1 0.2 1 0 1 0.1 1 0 1 2.3 1 0 1 0 1 -0.3 1 0 1 0.2 1 -0.1 1 0.1 1 0 1 0 1 0.1 1 0 1 0 1 -0.2 1 0.3 1 -0.2 1 0.1 1 -0.1 1 0.2 1 -0.2 1 0 1 0 1 -0.1 1 0 1 0.1 1 0 1 -0.1 1 0.4 1 -0.4 1 0.1 1 0.3 1 -0.4 1 0.2 1 0 1 -0.1 1 -0.2 1 0 1 0.2 1 0.1 1 -0.4 1 0.3 1 -0.1 1 0.2 1 -0.1 1 -0.1 1 0 1 0.1 1 0.2 1 0.2 1 -0.4 1 0 1 -2.8 1 0 1 0.1 1 0 1 0 1 0 1 0.2 1 0.1 1 -0.1 1 0.2 1 0 1 -0.1 1 0.3 1 -0.3 1 0.3 1 0.2 1 -0.3 1 2.2 1 0.1 1 0.1 1 -0.1 1 -0.1 1 0.1 1 -0.1 1 -0.1 1 0.1 1 0 1 -0.2 1 0.3 1 -0.2 1 0.2 1 -0.3 1 0.1 1 -0.1 1 0.4 1 0 1 0 1 0 1 -0.1 1 0 1 -0.3 1 0.3 1 -0.1 1 0 1 -0.1 1 0.3 1 -0.2 1 -0.2 1 0.3 1 -0.1 1 -0.1 1 0.1 1 -0.1 1 -0.2 1 0.1 1 0.3 1 -0.1 1 0 1 -0.1 1 0 1 0.1 1 0.1 1 -0.2 1 0 1 0.2 1 -0.1 1 0 1 -3 1 0.1 1 0.3 1 0 1 -0.1 1 -0.1 1 0.4 1 0 1 0 1 0 1 -0.2 1 0.1 1 0.2 1 0 1 0.1 1 -0.1 1 0.1 1 2.3 1 -0.1 1 0 1 0 1 0 1 0.1 1 0.1 1 -0.4 1 0.2 1 -0.1 1 0.2 1 -0.2 1 0.2 1 0 1 0 1 -0.2 1 0.1 1 -0.1 1 0.1 1 0.1 1 -0.3 1 0.1 1 0.1 1 -0.1 1 0.3 1 -0.2 1 0 1 -0.1 1 0.3 1 -0.2 1 0.1 1 -0.1 1 -0.3 1 0.1 1 0 1 0.3 1 -0.2 1 0.2 1 -0.1 1 0 1 0.1 1 -0.1 1 -0.2 1 0.1 1 0.3 1 -0.3 1 0.3 1 0 1 -0.3 1 0.1 0.3 0 0.7 -31.3 1.1 0.6 0.6 28.2 0.3 -0.4 1 0 1 0.1 1 0.1 1 0 1 0.1 1 0 1 0 1 0.3 1 0.2 1 -0.3 1 0 1 0 1 0.2 1 0 1 0 1 2 1 0.1 1 0 1 0.2 1 -0.1 1 -0.3 1 0.4 1 0 1 0.1 1 -0.5 1 0.3 1 0.1 1 0 1 -0.1 1 -0.2 1 0.1 1 0.1 1 0.1 1 0 1 -0.1 1 0.1 1 -0.2 1 0 1 0.1 1 0.1 1 -0.1 1 0.1 1 -0.1 1 -0.1 1 0.1 1 -0.1 1 0 1 -0.1 1 0.4 1 -0.1 1 -0.3 1 0.3 1 0 1 -0.1 1 0.1 1 0.2 1 -0.3 1 0.1 1 0 1 -0.2 1 -0.1 1 0 1 0.2 1 0.1 1 -0.2 1 -0.1 1 -2.6 1 -0.1 1 0.2 1 0 1 0 1 0.1 1 0 1 -0.1 1 0.1 1 0.3 1 0.3 1 -0.2 1 -0.3 1 0.2 1 0.2 1 -0.3 1 0.2 1 2.2 1 -0.1 1 0 1 0.2 1 -0.1 1 0 1 0.2 1 -0.3 1 -0.1 1 0.3 1 0.1 1 -0.2 1 0 1 -0.1 1 0 1 0.3 1 0 1 -0.1 1 -0.2 1 0 1 0 1 0 1 0.2 1 -0.2 1 0 1 0.2 1 0 1 -0.1 1 0.1 1 -0.1 1 -0.2 1 0.2 1 -0.1 1 0.1 1 0 1 -0.1 1 0.2 1 -0.1 1 0 1 0 1 0 1 0.1 1 0 1 0 1 -0.2 1 0 1 0 1 0.1 1 -0.2 1 0.1 1 0 1 0 0.6 0.1 0.7 -18.3 1.1 0.6 0.7 15.2 0.9 -0.2 1 -0.1 1 0 1 0.1 1 0.3 1 0.1 1 -0.3 1 0.2 1 0.2 1 -0.3 1 0.2 1 0.2 1 0 1 -0.2 1 0.3 1 2.1 1 0 1 -0.2 1 0.1 1 0.2 1 -0.1 1 0 1 -0.1 1 0.2 1 -0.2 1 0.1 1 -0.1 1 -0.1 1 0.3 1 -0.4 1 0.1 1 0.1 1 -0.2 1 0 1 0.2 1 -0.1 1 0.1 1 0.1 1 0.2 1 -0.4 1 0.4 1 -0.3 1 0 1 -0.3 1 0.1 1 0.2 1 0.1 1 -0.2 1 0.1 1 0.1 1 -0.2 1 -0.1 1 0.1 1 0.1 1 0 1 0.1 1 -0.2 1 0.1 1 0 1 0 1 0.1 1 0.1 1 -0.3 1 0 1 0 1 0 1 0 1 -2.8 1 0 1 0 1 0 1 0.2 1 0.4 1 -0.2 1 0 1 0 1 0 1 0.3 1 -0.2 1 0 1 0 1 0.2 1 -0.1 1 0 1 2.2 1 -0.1 1 0.2 1 -0.2 1 0.5 1 -0.6 1 0.1 1 0.2 1 0 1 0 1 0 1 0 1 0 1 0.1 1 -0.1 1 0 1 0 1 0.1 1 -0.1 1 0.1 1 0.1 1 -0.2 1 0.1 1 -0.2 1 0.1 1 0.1 1 -0.1 1 0.1 1 0.1 1 -0.2 1 -0.1 1 0.1 1 -0.2 1 0.2 1 0.1 1 -0.1 1 0.1 1 -0.1 1 0.1 1 0 1 -0.1 1 -0.4 1 0.3 1 0.2 1 -0.1 1 -0.1 1 0.2 1 -0.2 1 0.1 1 0.1 1 -0.2 1 0.1 0.9 0 0.7 -19.3 1.1 0.6 0.7 16.2 0.6 -0.4 1 0.1 1 0.2 1 -0.1 1 0 1 -0.1 1 0.2 1 0.3 1 -0.2 1 0.2 1 0 1 -0.1 1 0 1 0.2 1 -0.2 1 0.3 1 1.9 1 0.3 1 -0.2 1 0.1 1 0.1 1 -0.2 0.2 0.1 0.7 -14.3 1.1 0.6 0.7 13.7 0.3 0.1 1 0 1 -0.1 1 0 1 -0.1 1 0.2 1 -0.1 1 0 1 0 1 -0.2 1 0.1 1 0.1 1 0 1 0.1 1 -0.4 1 0.3 1 0.1 1 -0.1 1 0.1 1 -0.1 1 0 1 0.1 1 -0.3 1 -0.1 1 0.4 1 -0.1 1 0 1 0 1 0.1 1 -0.2 1 0.2 1 -0.1 1 -0.1 1 0.1 1 0 1 -0.1 1 0.2 1 -0.1 1 0.1 1 0.1 1 -0.4 1 0 1 0.3 1 -0.1 0.9 0 0.7 -6.7 1.1 0.4 0.7 3.8 0.6 -0.2 1 -0.1 1 0 1 0.2 1 0 1 0.2 1 -0.1 1 0.1 1 0 1 -0.2 1 0.2 1 0 1 0.2 1 -0.1 1 0.1 1 0 1 2 1 0.2 1 0.1 1 -0.1 1 0.1 1 -0.1 1 0 1 -0.1 1 0.1 1 0.1 1 -0.1 1 -0.1 1 0.1 1 0 1 0.1 1 0 1 -0.2 1 0.2 1 -0.3 1 0.1 1 0 1 0.3 1 -0.1 1 -0.1 1 -0.1 1 0.2 1 -0.1 1 0.1 1 0 1 -0.1 1 0.1 1 -0.3 1 0.3 1 -0.3 1 0.3 1 -0.1 1 0.1 1 0.2 1 -0.6 1 0.4 1 -0.1 1 0.1 1 -0.1 1 0 1 -0.1 1 0 1 0.1 1 -0.2 1 0.3 1 -0.2 1 0.2 1 -0.2 1 0.2 1 -0.1 1 0.1 1 -2.8 1 -0.2 1 0.2 1 0 1 0.2 1 -0.3 1 0.3 1 0 1 -0.1 1 0.1 1 0 1 0.3 1 -0.2 1 0.3 1 -0.2 1 0.2 1 -0.2 1 2.2 1 0.1 1 -0.1 1 -0.1 1 0.2 1 0.1 1 -0.1 1 0 1 0.1 1 -0.1 1 0.1 1 0 1 -0.2 1 0.2 1 0 1 -0.1 1 0.1 1 0.1 1 0 1 0 1 -0.2 1 0.2 1 -0.4 1 0.3 1 0 1 0 1 -0.2 1 0.3 1 0 1 -0.2 1 -0.2 1 0.2 1 -0.1 1 -0.1 1 0.1 1 0.4 1 -0.5 1 0.2 1 0 1 0.1 1 -0.2 1 0 1 0.2 1 -0.1 1 0.1 1 -0.2 1 0.1 1 0.1 1 -0.1 1 -0.1 1 0.1 1 -0.2 1 -2.7 1 0.2 1 0.1 1 -0.1 1 0.1 1 -0.2 1 0.2 1 0.2 1 0.2 1 -0.2 1 -0.1 1 0 1 0.3 1 0.1 1 -0.3 1 0.2 1 0.2 1 2.2 1 -0.3 1 0.1 1 0.1 1 -0.2 1 -0.1 1 0.1 1 0.2 1 0 1 0 1 -0.2 1 -0.1 1 0.1 1 0.1 1 0.1 1 -0.2 1 0.1 1 -0.2 1 -0.1 1 0.3 1 -0.2 1 0.1 1 -0.2 1 0.4 1 -0.3 1 0.2 1 -0.2 1 0.1 1 0.2 1 -0.1 1 0 1 0.1 1 -0.1 1 0.2 1 -0.4 1 0.3 1 -0.1 1 -0.1 1 0.2 1 0 1 -0.1 1 0.1 1 -0.3 1 0 1 0.1 1 0.2 1 0 1 -0.1 1 -0.1 1 0.1 1 0.1 1 -0.2 1 0 1 0.1 1 0.1 1 -2.9 1 0.2 1 -0.1 1 -0.1 1 -0.1 1 0.4 1 -0.1 1 0.1 1 0.1 1 0.1 1 0 1 0.1 1 -0.1 1 0 1 0.1 1 -0.1 1 2.3 1 0.1 1 0 1 -1.9 1 -0.1 1 0 1 0 1 0.1 1 0.1 1 0 1 0 1 0 1 -0.2 1 0.1 1 0.1 1 0 1 -0.2 1 0 1 0.2 1 0 1 0 1 -0.1 1 -0.1 1 0.1 1 0 1 0.1 1 0 1 -0.1 1 0.2 1 -0.2 1 0 1 0 1 -0.2 1 0 1 0.1 1 0.1 1 0 1 0.2 1 -0.2 1 0 1 0 1 -0.1 1 0.1 1 -0.1 1 0.1 1 -0.1 1 0 1 0.3 1 -0.1 1 0.2 1 -0.3 1 -2.9 1 0 1 0.1 1 -0.2 1 0.3 1 0 1 -0.1 1 0 1 0.2 1 0.1 1 0.1 1 -0.2 1 0.2 1 0.1 1 0.3 1 -0.2 1 0.1 1 2 1 0.1 1 -0.1 1 0 1 0.2 1 -0.1 1 0.2 1 -0.2 1 0 1 -0.1 1 0 1 0.2 1 -0.2 1 0.3 1 -0.3 1 0 1 0.3 1 -0.4 1 0.1 1 0.2 1 0 1 -0.2 1 0.4 1 -0.4 1 -0.1 1 0.3 1 -0.2 1 0.1 1 0.1 1 -0.2 1 0 1 0.1 1 0.1 1 -0.3 1 0.4 1 -0.2 1 -0.1 1 0.1 1 0.1 1 0 1 0 1 0 1 -0.1 1 0.1 1 -0.4 1 0.4 1 -0.1 1 0.2 1 -0.3 1 0 1 0.1 1 0.1 1 -0.1 1 -2.7 1 -0.1 1 0.1 1 0.3 1 -0.1 1 -0.1 1 -0.2 1 0.3 1 0.1 1 -0.1 1 0.2 1 -0.3 1 0.2 1 0 1 0.2 1 -0.1 1 0 1 2.5 0.3 -0.2 0.9 -80.7 1.2 2 1 18.8 0.9 -3.8 1.3 63.7 0.6 0 0.7 -94.3 1.4 8.5 1.1 85.8 1.2 0 1 -52.7 2.2 15 1.8 37.7 0.4 0.1 1 -0.1 1 -0.1 1 0.3 1 -0.2 1 0 1 0.2 1 -0.2 1 0.2 1 -0.2 1 0 1 0 1 0.3 1 -0.5 1 0.2 1 -0.1 1 0 1 -0.1 1 0.1 1 0.2 1 0.1 1 -0.3 1 0 1 0 1 0.3 1 -0.2 1 -0.3 1 0.4 1 -0.1 1 0.1 1 -0.1 1 -0.2 1 0.3 1 0 1 -0.2 1 -3 1 0.1 1 0.1 1 0.2 1 -0.1 1 0.1 1 0.1 1 0 1 0.1 1 0.1 1 0.1 1 -0.2 1 0.2 1 0 1 0.3 1 0 1 -0.2 1 2.3 1 -0.3 1 0.1 1 0.1 1 0 1 -0.1 1 0.1 1 0.1 1 -0.3 1 0 1 0 1 0.3 1 -0.2 1 0.1 1 -0.1 1 0.1 1 0 1 0 1 0 1 0.2 1 -0.3 1 0.1 1 0 1 -0.1 1 0.2 1 0.1 1 -0.3 1 0.4 1 -0.3 1 0 1 -0.3 1 0.3 1 0 1 0 1 0.1 1 -0.1 1 0 1 -0.1 1 0 1 0.1 1 0.1 1 0 1 -0.1 1 -0.1 1 0.1 1 0 1 -0.2 1 0.2 1 0 1 -0.1 1 -2.8 1 0.1 1 0.2 1 -0.4 1 0.3 1 0.1 1 0.1 1 0 1 -0.1 1 0.1 1 0.1 1 -0.1 1 0 1 0.1 1 0.5 1 -0.3 1 0 1 2.3 1 -0.1 1 0 1 0 1 -0.1 1 0 1 0.2 1 0 1 -0.2 1 0.3 1 -0.3 1 -0.1 1 0.3 1 0 1 -0.1 1 -0.1 1 0.2 1 0 1 -0.1 1 0 1 0 1 0.3 1 -0.4 1 0.1 1 0.1 1 0 1 -0.2 1 0.1 1 0 1 -0.2 1 0.2 1 0.1 1 -0.1 1 0.1 1 0 1 -0.2 1 0.2 1 -0.3 1 0.4 0.1 -0.2 0.6 -57.8 1.2 57.8 6.5 0 1 -80.6 1.3 45.5 1.1 -32.6 1.8 67 1.3 -2 0.3 -52 2 2.7 1.6 48.8 0.2 0.9 1 -0.5 1 0.4 1 0.1 1 -0.1 1 0 1 0.2 1 -0.2 1 0.3 1 0.1 1 2 1 -0.2 1 0.4 1 -0.2 1 0.1 1 -0.2 0.2 -0.1 0.9 -97.3 1.3 48.1 1.9 -5.3 2.6 54.7 0.7 0 1.3 -93.7 1.3 1.4 1.3 92.3 0.5 -0.1 1 0.1 1 -0.1 1 0.3 1 -0.1 1 -0.2 1 0.2 1 -0.1 1 -0.1 1 0.1 1 0 1 -0.1 1 0 1 0.2 1 0 1 -0.1 1 0 1 0 1 0 1 -0.1 1 0.2 1 -0.2 1 0.3 1 -0.1 1 0 1 -0.1 1 0 1 -0.1 1 0 1 0 0.2 0.1 0.7 -34.5 1.1 0.6 0.7 31.9 0.3 -0.6 1 -0.1 1 -0.1 1 0.3 1 -0.1 1 -0.1 1 0.2 1 0 1 0 1 0.1 1 0.1 1 -0.1 1 0.1 1 0.2 1 -0.1 1 0 1 2 1 0.2 1 -0.1 1 0.1 1 0.1 1 0 1 -0.1 1 -0.1 1 0.1 1 0 1 0 1 -0.2 1 0.2 1 -0.1 1 0.1 1 0.1 1 -0.1 1 0.1 1 -0.1 1 0 1 -0.1 1 0.1 1 0 1 0 1 0 1 -0.3 1 0.4 1 0 1 -0.3 1 0.2 1 0.1 1 0 1 0 1 -0.1 1 -0.1 1 0.3 1 -0.1 1 0.1 1 -0.2 1 0.1 1 0 1 0 1 -0.2 1 0.4 1 -0.3 1 0 0.6 0 0.7 -8.2 1.1 0.5 0.7 5.7 0.9 -0.8 1 0.1 1 0.1 1 -0.2 1 0.2 1 0.2 1 -0.2 1 0.2 1 0.1 1 0.1 1 -0.2 1 0.3 1 0 1 0 1 0.1 1 2.1 1 -0.2 1 0.2 1 -0.2 1 0.1 1 0 1 0.2 1 -0.1 1 0 1 -0.2 1 0.2 1 -0.2 1 0 1 -0.1 1 0.3 1 -0.1 1 0.1 1 0 1 0 1 -0.1 1 0.2 1 0 1 -0.3 1 0.2 1 -0.2 1 0.1 1 0.2 1 -0.1 1 0.1 1 -0.1 1 0 1 0.1 1 0 1 -0.1 1 0.1 1 0 1 -0.3 1 0 1 0.1 1 0.1 1 -0.2 1 -0.1 1 0.2 1 -0.1 1 0.3 1 -0.5 1 0.4 0.5 -0.1 0.7 -28.2 1.1 0.5 0.7 25.7 1 -0.8 1 0.1 1 0 1 0.2 1 -0.1 1 0 1 0.3 1 -0.1 1 -0.1 1 0.2 1 0 1 0 1 0 1 -0.1 1 0.2 1 2.1 1 -0.1 1 0.3 1 -0.1 1 0 1 -0.1 1 0 1 0.3 1 -0.3 1 0.2 1 -0.1 1 0.1 1 -0.1 1 0 1 0 1 -0.1 1 0.3 1 -0.3 1 0.1 1 0.2 1 0 1 -0.3 1 0.2 1 0 1 -0.3 1 0.5 1 -0.2 1 -0.1 1 0 1 -0.3 1 0.4 1 0.1 1 -0.2 1 0.2 1 -0.1 1 -0.3 1 0.3 1 -0.3 1 0 1 0.3 1 0 1 -0.1 1 0 1 -0.2 1 0.3 1 -0.1 1 0 1 0.4 1 -3.2 1 0 1 0.3 1 -0.2 1 0 1 0.3 1 -0.2 1 0 1 0.1 1 0.1 1 0.1 1 0.1 1 -0.2 1 0.3 1 -0.2 1 0.1 1 -0.2 1 2.6 1 -0.1 1 -0.1 1 0 1 0.1 1 -0.1 1 -0.3 1 0.3 1 0 1 0 1 0 1 0.1 1 -0.2 1 0.4 1 -0.3 1 -0.1 1 0.1 1 -0.2 1 0.2 1 -0.1 1 0 1 0.2 1 -0.1 1 -0.1 1 0 1 0.2 1 0.2 1 -0.3 1 0 1 0.1 1 -0.2 1 0.1 1 0.1 1 0 1 0 1 -0.2 1 0.1 1 0.2 1 0.1 1 -0.2 1 -0.1 1 0 1 0 1 0.3 1 -0.4 1 0.1 1 -0.2 0.4 0.2 0.7 -34.9 1.1 0.4 0.7 32.5 0.1 -0.7 1 0.1 1 -0.1 1 0 1 0 1 0.3 1 -0.1 1 -0.1 1 0.1 1 0.1 1 0 1 -0.1 1 0.4 1 -0.2 1 0.1 1 0.1 1 2.1 1 0 1 -0.3 1 0.3 1 0 1 0 1 0 1 0.3 1 -0.1 1 -0.1 1 0.1 1 -0.2 1 0 1 0.1 1 0 1 0 1 0.1 1 -0.2 1 0.2 1 -0.3 1 0.2 1 -0.2 1 0.3 1 -0.3 1 0.3 1 -0.4 1 0.4 1 -0.2 1 0.1 1 -0.1 1 -0.2 1 0.1 1 0 1 0.1 1 -0.2 1 0.1 1 0.1 1 0.1 1 0 1 -0.2 1 0.2 1 0.1 1 -0.1 1 -0.1 1 -0.1 1 0.1 1 0.2 1 -0.3 1 -3 1 0.4 1 -0.1 1 0.1 1 0 1 0.2 1 -0.1 1 0 1 0 1 0.4 1 0 1 -0.2 1 0 1 0.1 1 0.2 1 -0.2 1 0.4 1 1.9 1 -0.3 1 0.2 1 0.1 1 0.3 1 -0.1 1 -0.2 1 -0.1 1 0.1 1 0 1 0 1 0 1 0.1 1 -0.2 1 0 1 0.1 1 -0.2 1 0.1 1 0.2 1 -0.1 1 -0.1 1 0.1 1 0 1 0 1 0.1 1 -0.2 1 -0.1 1 0.4 1 -0.3 1 0.2 1 -0.1 1 0 1 0.1 1 -0.1 1 0 1 0.1 1 -0.2 1 0.2 1 -0.2 1 0.2 1 0.1 1 -0.3 1 0.3 1 -0.3 1 0.1 1 -0.1 1 0.1 1 0 0.5 0 0.7 -21.2 1.1 0.5 0.7 18.7 0 -0.9 1 0.2 1 -0.1 1 0 1 0.2 1 0.1 1 -0.1 1 0.1 1 0.1 1 -0.1 1 0.1 1 0 1 0 1 0.1 1 0.1 1 0.2 1 2.1 1 -0.1 1 -0.3 1 0.2 1 0.2 1 0 1 -0.1 1 -0.1 1 -0.1 1 0 1 0.2 1 0 1 0.2 1 -0.3 1 0.1 1 -0.1 1 0.1 1 0 1 -0.1 1 0.3 1 -0.3 1 0.2 1 -0.1 1 -0.1 1 0.2 0.7 -0.1 0.7 -15.7 1.1 0.5 0.7 15.2 0.8 0.1 1 -0.2 1 0.1 1 0.1 1 -0.2 1 0 1 0 1 0.1 1 -0.1 1 0.2 1 -0.1 1 0 1 0 1 0 1 0 1 0.1 1 0 1 0 1 0 1 0.1 1 -2.8 1 -0.2 1 -0.1 1 0.3 1 -0.1 1 0 1 0 1 0.1 1 -0.2 1 0.3 1 0.3 1 0.2 1 -0.2 1 0 1 0.1 1 -0.1 1 0 1 2.3 1 0 1 -0.1 1 0.1 1 -0.1 1 0 1 0 1 0.1 1 0 1 -0.1 1 0 1 0.1 1 0.1 1 0.1 1 -0.1 1 -0.2 1 0" stroke="#6ED0E0" stroke-width="1" fill="none" stroke-linejoin="round"/>
</svg>
<div class="t" style="left:18.24px;top:557.24px;font-size:12px;letter-spacing:-0.312px;-webkit-text-stroke:0.25px #c7d0d9;color:#c7d0d9;">4 kW</div>
<div class="t" style="left:18.23px;top:586.24px;font-size:12px;letter-spacing:-0.309px;-webkit-text-stroke:0.25px #c7d0d9;color:#c7d0d9;">3 kW</div>
<div class="t" style="left:18.22px;top:615.24px;font-size:12px;letter-spacing:-0.308px;-webkit-text-stroke:0.25px #c7d0d9;color:#c7d0d9;">2 kW</div>
<div class="t" style="left:18.21px;top:644.24px;font-size:12px;letter-spacing:-0.304px;-webkit-text-stroke:0.25px #c7d0d9;color:#c7d0d9;">1 kW</div>
<div class="t" style="left:24.02px;top:673.24px;font-size:12px;letter-spacing:-0.360px;-webkit-text-stroke:0.25px #c7d0d9;color:#c7d0d9;">0 W</div>
<div class="t" style="left:52.59px;top:685.84px;font-size:12px;letter-spacing:0.030px;-webkit-text-stroke:0.25px #c7d0d9;color:#c7d0d9;">23:00</div>
<div class="t" style="left:126.07px;top:685.84px;font-size:12px;letter-spacing:0.030px;-webkit-text-stroke:0.25px #c7d0d9;color:#c7d0d9;">00:00</div>
<div class="t" style="left:199.49px;top:685.84px;font-size:12px;letter-spacing:0.030px;-webkit-text-stroke:0.25px #c7d0d9;color:#c7d0d9;">01:00</div>
<div class="t" style="left:272.90px;top:685.84px;font-size:12px;letter-spacing:0.030px;-webkit-text-stroke:0.25px #c7d0d9;color:#c7d0d9;">02:00</div>
<div class="t" style="left:346.32px;top:685.84px;font-size:12px;letter-spacing:0.030px;-webkit-text-stroke:0.25px #c7d0d9;color:#c7d0d9;">03:00</div>
<div class="t" style="left:419.74px;top:685.84px;font-size:12px;letter-spacing:0.030px;-webkit-text-stroke:0.25px #c7d0d9;color:#c7d0d9;">04:00</div>
<div class="t" style="left:493.15px;top:685.84px;font-size:12px;letter-spacing:0.030px;-webkit-text-stroke:0.25px #c7d0d9;color:#c7d0d9;">05:00</div>
<div class="t" style="left:566.57px;top:685.84px;font-size:12px;letter-spacing:0.030px;-webkit-text-stroke:0.25px #c7d0d9;color:#c7d0d9;">06:00</div>
<div class="t" style="left:639.99px;top:685.84px;font-size:12px;letter-spacing:0.030px;-webkit-text-stroke:0.25px #c7d0d9;color:#c7d0d9;">07:00</div>
<div class="t" style="left:713.40px;top:685.84px;font-size:12px;letter-spacing:0.030px;-webkit-text-stroke:0.25px #c7d0d9;color:#c7d0d9;">08:00</div>
<div class="t" style="left:786.82px;top:685.84px;font-size:12px;letter-spacing:0.030px;-webkit-text-stroke:0.25px #c7d0d9;color:#c7d0d9;">09:00</div>
<div class="t" style="left:860.03px;top:685.84px;font-size:12px;letter-spacing:0.030px;-webkit-text-stroke:0.25px #c7d0d9;color:#c7d0d9;">10:00</div>
<div class="t" style="left:933.89px;top:685.84px;font-size:12px;letter-spacing:0.029px;-webkit-text-stroke:0.25px #c7d0d9;color:#c7d0d9;">11:00</div>
<div class="t" style="left:1006.86px;top:685.84px;font-size:12px;letter-spacing:0.030px;-webkit-text-stroke:0.25px #c7d0d9;color:#c7d0d9;">12:00</div>
<div class="t" style="left:1080.28px;top:685.84px;font-size:12px;letter-spacing:0.030px;-webkit-text-stroke:0.25px #c7d0d9;color:#c7d0d9;">13:00</div>
<div class="t" style="left:1153.69px;top:685.84px;font-size:12px;letter-spacing:0.030px;-webkit-text-stroke:0.25px #c7d0d9;color:#c7d0d9;">14:00</div>
<div class="t" style="left:1227.11px;top:685.84px;font-size:12px;letter-spacing:0.030px;-webkit-text-stroke:0.25px #c7d0d9;color:#c7d0d9;">15:00</div>
<div class="t" style="left:1300.53px;top:685.84px;font-size:12px;letter-spacing:0.030px;-webkit-text-stroke:0.25px #c7d0d9;color:#c7d0d9;">16:00</div>
<div class="t" style="left:1373.94px;top:685.84px;font-size:12px;letter-spacing:0.030px;-webkit-text-stroke:0.25px #c7d0d9;color:#c7d0d9;">17:00</div>
<div class="t" style="left:1447.36px;top:685.84px;font-size:12px;letter-spacing:0.030px;-webkit-text-stroke:0.25px #c7d0d9;color:#c7d0d9;">18:00</div>
<div class="t" style="left:1520.78px;top:685.84px;font-size:12px;letter-spacing:0.030px;-webkit-text-stroke:0.25px #c7d0d9;color:#c7d0d9;">19:00</div>
<div class="t" style="left:1594.34px;top:685.84px;font-size:12px;letter-spacing:0.030px;-webkit-text-stroke:0.25px #c7d0d9;color:#c7d0d9;">20:00</div>
<div class="t" style="left:1667.76px;top:685.84px;font-size:12px;letter-spacing:0.030px;-webkit-text-stroke:0.25px #c7d0d9;color:#c7d0d9;">21:00</div>
<div class="t" style="left:1741.18px;top:685.84px;font-size:12px;letter-spacing:0.030px;-webkit-text-stroke:0.25px #c7d0d9;color:#c7d0d9;">22:00</div>
<div class="dash" style="left:30.5px;top:718px;background:#7EB26D;"></div>
<div class="dash" style="left:187.6px;top:718px;background:#EAB839;"></div>
<div class="dash" style="left:331.3px;top:718px;background:#6ED0E0;"></div>
<div class="t" style="left:47.44px;top:711.84px;font-size:12px;letter-spacing:-0.223px;-webkit-text-stroke:0.25px #d8d9e0;color:#d8d9e0;">Phase 1</div>
<div class="t" style="left:96.00px;top:711.84px;font-size:12px;letter-spacing:-0.138px;-webkit-text-stroke:0.25px #d8d9e0;color:#d8d9e0;">Current: 364 W</div>
<div class="t" style="left:204.54px;top:711.84px;font-size:12px;letter-spacing:-0.047px;-webkit-text-stroke:0.25px #d8d9e0;color:#d8d9e0;">Phase 2</div>
<div class="t" style="left:253.00px;top:711.84px;font-size:12px;letter-spacing:-0.198px;-webkit-text-stroke:0.25px #d8d9e0;color:#d8d9e0;">Current: 9 W</div>
<div class="t" style="left:348.24px;top:711.84px;font-size:12px;letter-spacing:-0.150px;-webkit-text-stroke:0.25px #d8d9e0;color:#d8d9e0;">Phase 3</div>
<div class="t" style="left:396.80px;top:711.84px;font-size:12px;letter-spacing:-0.200px;-webkit-text-stroke:0.25px #d8d9e0;color:#d8d9e0;">Current: 135 W</div>
<div class="t" style="left:870.09px;top:752.15px;font-size:14px;font-weight:bold;letter-spacing:-0.368px;color:#d8d9e0;">Instant Power</div>
<svg width="1843" height="130" viewBox="0 784 1843 130" style="top:784px">
<path d="M50 897.6H54.5V907H50zM54.5 897.6H60V907H54.5zM60 897.8H65.4V907H60zM65.4 897.5H70.9V907H65.4zM70.9 897.8H76.4V907H70.9zM76.4 897.6H81.8V907H76.4zM81.8 897.7H87.3V907H81.8zM87.3 895.1H92.8V907H87.3zM92.8 895.1H98.3V907H92.8zM98.3 895.8H103.7V907H98.3zM103.7 897.4H109.2V907H103.7zM109.2 898.3H114.7V907H109.2zM114.7 897.5H120.2V907H114.7zM120.2 897.9H125.6V907H120.2zM125.6 897.4H131.1V907H125.6zM131.1 898H136.6V907H131.1zM136.6 897.4H142.1V907H136.6zM142.1 897.6H147.5V907H142.1zM147.5 897.9H153V907H147.5zM153 897.7H158.5V907H153zM158.5 895.9H163.9V907H158.5zM163.9 896.1H169.4V907H163.9zM169.4 896.4H174.9V907H169.4zM174.9 897.9H180.4V907H174.9zM180.4 898.6H185.8V907H180.4zM185.8 897.4H191.3V907H185.8zM191.3 898.3H196.8V907H191.3zM196.8 897.9H202.3V907H196.8zM202.3 897.7H207.7V907H202.3zM207.7 897.6H213.2V907H207.7zM213.2 898.2H218.7V907H213.2zM218.7 898.1H224.1V907H218.7zM224.1 895.6H229.6V907H224.1zM229.6 895.7H235.1V907H229.6zM235.1 896H240.6V907H235.1zM240.6 898H246V907H240.6zM246 897.9H251.5V907H246zM251.5 897.8H257V907H251.5zM257 897.6H262.5V907H257zM262.5 898.2H267.9V907H262.5zM267.9 897.9H273.4V907H267.9zM273.4 897.3H278.9V907H273.4zM278.9 897.5H284.4V907H278.9zM284.4 897.8H289.8V907H284.4zM289.8 895.6H295.3V907H289.8zM295.3 896.1H300.8V907H295.3zM300.8 896.5H306.2V907H300.8zM306.2 897.9H311.7V907H306.2zM311.7 897.9H317.2V907H311.7zM317.2 898H322.7V907H317.2zM322.7 897.7H328.1V907H322.7zM328.1 897.4H333.6V907H328.1zM333.6 897.7H339.1V907H333.6zM339.1 897.6H344.6V907H339.1zM344.6 897.6H350V907H344.6zM350 897.9H355.5V907H350zM355.5 897.9H361V907H355.5zM361 895.3H366.4V907H361zM366.4 895.9H371.9V907H366.4zM371.9 895.8H377.4V907H371.9zM377.4 898.1H382.9V907H377.4zM382.9 897.4H388.3V907H382.9zM388.3 897.4H393.8V907H388.3zM393.8 898.1H399.3V907H393.8zM399.3 897.5H404.8V907H399.3zM404.8 897.7H410.2V907H404.8zM410.2 898H415.7V907H410.2zM415.7 898.1H421.2V907H415.7zM421.2 897.8H426.6V907H421.2zM426.6 895.3H432.1V907H426.6zM432.1 895.3H437.6V907H432.1zM437.6 894.9H443.1V907H437.6zM443.1 897.7H448.5V907H443.1zM448.5 897.3H454V907H448.5zM454 897.6H459.5V907H454zM459.5 897.8H465V907H459.5zM465 898.2H470.4V907H465zM470.4 897.5H475.9V907H470.4zM475.9 897.8H481.4V907H475.9zM481.4 898.4H486.9V907H481.4zM486.9 897.9H492.3V907H486.9zM492.3 897.3H497.8V907H492.3zM497.8 895.3H503.3V907H497.8zM503.3 895.1H508.7V907H503.3zM508.7 895.5H514.2V907H508.7zM514.2 897.8H519.7V907H514.2zM519.7 897.8H525.2V907H519.7zM525.2 898.4H530.6V907H525.2zM530.6 897.3H536.1V907H530.6zM536.1 897.8H541.6V907H536.1zM541.6 897.3H547.1V907H541.6zM547.1 898.4H552.5V907H547.1zM552.5 897.7H558V907H552.5zM558 897.9H563.5V907H558zM563.5 897H568.9V907H563.5zM568.9 895.7H574.4V907H568.9zM574.4 895.9H579.9V907H574.4zM579.9 895.5H585.4V907H579.9zM585.4 897.7H590.8V907H585.4zM590.8 897.5H596.3V907H590.8zM596.3 897.7H601.8V907H596.3zM601.8 897.9H607.3V907H601.8zM607.3 898.2H612.7V907H607.3zM612.7 897.9H618.2V907H612.7zM618.2 897.7H623.7V907H618.2zM623.7 898.4H629.1V907H623.7zM629.1 897.9H634.6V907H629.1zM634.6 897H640.1V907H634.6zM640.1 895.3H645.6V907H640.1zM645.6 895.7H651V907H645.6zM651 896.3H656.5V907H651zM656.5 897.9H662V907H656.5zM662 897.5H667.5V907H662zM667.5 897.2H672.9V907H667.5zM672.9 898.4H678.4V907H672.9zM678.4 898.1H683.9V907H678.4zM683.9 897.8H689.4V907H683.9zM689.4 897.1H694.8V907H689.4zM694.8 898H700.3V907H694.8zM700.3 898H705.8V907H700.3zM705.8 896.8H711.2V907H705.8zM711.2 895.4H716.7V907H711.2zM716.7 895.5H722.2V907H716.7zM722.2 895.8H727.7V907H722.2zM727.7 897.8H733.1V907H727.7zM733.1 897.8H738.6V907H733.1zM738.6 897.6H741.7V907H738.6zM741.7 878.2H744.1V907H741.7zM744.1 878.6H749.6V907H744.1zM749.6 878H755V907H749.6zM755 878H760.5V907H755zM760.5 877.8H766V907H760.5zM766 877.9H771.4V907H766zM771.4 878.3H776.9V907H771.4zM776.9 878.3H778.3V907H776.9zM778.3 876.2H782.4V907H778.3zM782.4 876H787.9V907H782.4zM787.9 876.5H788.9V907H787.9zM788.9 888.6H793.3V907H788.9zM793.3 896.2H798.8V907H793.3zM798.8 896.8H804.3V907H798.8zM804.3 897.5H809.8V907H804.3zM809.8 897.8H815.2V907H809.8zM815.2 898H820.7V907H815.2zM820.7 897.8H826.2V907H820.7zM826.2 897.2H831.6V907H826.2zM831.6 897.9H837.1V907H831.6zM837.1 897.4H842.6V907H837.1zM842.6 897.8H848.1V907H842.6zM848.1 895.1H853.5V907H848.1zM853.5 895.5H859V907H853.5zM859 895.7H864.5V907H859zM864.5 898.5H870V907H864.5zM870 897.8H875.4V907H870zM875.4 897.6H880.9V907H875.4zM880.9 898H886.4V907H880.9zM886.4 897.3H891.9V907H886.4zM891.9 898.3H897.3V907H891.9zM897.3 898H902.8V907H897.3zM902.8 897.8H908.3V907H902.8zM908.3 896.9H913.7V907H908.3zM913.7 897.6H919.2V907H913.7zM919.2 895.2H924.7V907H919.2zM924.7 895.4H930.2V907H924.7zM930.2 895.4H935.6V907H930.2zM935.6 898.2H941.1V907H935.6zM941.1 889H946.6V907H941.1zM946.6 889.3H952.1V907H946.6zM952.1 890.2H957.5V907H952.1zM957.5 889.2H963V907H957.5zM963 889.2H968.5V907H963zM968.5 889.4H973.9V907H968.5zM973.9 889.3H979.4V907H973.9zM979.4 889.7H984.9V907H979.4zM984.9 890H990.4V907H984.9zM990.4 887.7H995.8V907H990.4zM995.8 887.4H1001.3V907H995.8zM1001.3 888.3H1006.8V907H1001.3zM1006.8 889.4H1012.3V907H1006.8zM1012.3 889.4H1017.7V907H1012.3zM1017.7 889.1H1023.2V907H1017.7zM1023.2 889.1H1028.7V907H1023.2zM1028.7 889.9H1034.2V907H1028.7zM1034.2 890.3H1039.6V907H1034.2zM1039.6 889.5H1045.1V907H1039.6zM1045.1 889.8H1050.6V907H1045.1zM1050.6 889H1056V907H1050.6zM1056 888.2H1061.5V907H1056zM1061.5 887.4H1067V907H1061.5zM1067 887.6H1072.5V907H1067zM1072.5 888H1077.9V907H1072.5zM1077.9 889.2H1083.4V907H1077.9zM1083.4 888.9H1088.9V907H1083.4zM1088.9 889.6H1094.4V907H1088.9zM1094.4 889.4H1099.8V907H1094.4zM1099.8 889.6H1105.3V907H1099.8zM1105.3 889.7H1110.8V907H1105.3zM1110.8 889.4H1116.2V907H1110.8zM1116.2 889.3H1121.7V907H1116.2zM1121.7 889.7H1127.2V907H1121.7zM1127.2 887.4H1132.7V907H1127.2zM1132.7 887.4H1138.1V907H1132.7zM1138.1 887.5H1143.6V907H1138.1zM1143.6 889.3H1149.1V907H1143.6zM1149.1 889.2H1154.6V907H1149.1zM1154.6 888.9H1160V907H1154.6zM1160 889.1H1165.5V907H1160zM1165.5 889.7H1171V907H1165.5zM1171 889.1H1176.4V907H1171zM1176.4 889.7H1181.9V907H1176.4zM1181.9 889.1H1187.4V907H1181.9zM1187.4 890.4H1192.9V907H1187.4zM1192.9 887.9H1198.3V907H1192.9zM1198.3 887.5H1203.8V907H1198.3zM1203.8 887.8H1209.3V907H1203.8zM1209.3 889.5H1214.8V907H1209.3zM1214.8 890.1H1220.2V907H1214.8zM1220.2 889.8H1225.7V907H1220.2zM1225.7 889.8H1231.2V907H1225.7zM1231.2 889.7H1236.7V907H1231.2zM1236.7 888.7H1242.1V907H1236.7zM1242.1 889.4H1247.6V907H1242.1zM1247.6 880H1253.1V907H1247.6zM1253.1 882.2H1258.5V907H1253.1zM1258.5 881.9H1264V907H1258.5zM1264 881.8H1269.5V907H1264zM1269.5 881.1H1275V907H1269.5zM1275 882.7H1280.4V907H1275zM1280.4 882.2H1285.9V907H1280.4zM1285.9 883.4H1291.4V907H1285.9zM1291.4 883.6H1296.9V907H1291.4zM1296.9 882.9H1302.3V907H1296.9zM1302.3 883.4H1307.8V907H1302.3zM1307.8 884H1313.3V907H1307.8zM1313.3 882.3H1318.7V907H1313.3zM1318.7 883.4H1324.2V907H1318.7zM1324.2 880.9H1329.7V907H1324.2zM1329.7 881.6H1335.2V907H1329.7zM1335.2 879.7H1340.6V907H1335.2zM1340.6 884.8H1346.1V907H1340.6zM1346.1 883.7H1351.6V907H1346.1zM1351.6 883.7H1357.1V907H1351.6zM1357.1 882.7H1362.5V907H1357.1zM1362.5 883H1368V907H1362.5zM1368 884.4H1373.5V907H1368zM1373.5 882.6H1378.9V907H1373.5zM1378.9 883.7H1384.4V907H1378.9zM1384.4 883.4H1389.9V907H1384.4zM1389.9 884.9H1395.4V907H1389.9zM1395.4 887.3H1400.8V907H1395.4zM1400.8 888.1H1406.3V907H1400.8zM1406.3 889H1411.8V907H1406.3zM1411.8 889.7H1417.3V907H1411.8zM1417.3 888.4H1422.7V907H1417.3zM1422.7 889H1428.2V907H1422.7zM1428.2 889.2H1433.7V907H1428.2zM1433.7 889.2H1439.2V907H1433.7zM1439.2 890.1H1444.6V907H1439.2zM1444.6 889.5H1450.1V907H1444.6zM1450.1 889.4H1455.6V907H1450.1zM1455.6 887.8H1461V907H1455.6zM1461 887.8H1466.5V907H1461zM1466.5 877.6H1472V907H1466.5zM1472 883.4H1477.5V907H1472zM1477.5 889.1H1482.9V907H1477.5zM1482.9 889.5H1488.4V907H1482.9zM1488.4 889.9H1493.9V907H1488.4zM1493.9 879.4H1499.4V907H1493.9zM1499.4 883.2H1504.8V907H1499.4zM1504.8 889.3H1510.3V907H1504.8zM1510.3 889.6H1515.8V907H1510.3zM1515.8 889.4H1521.2V907H1515.8zM1521.2 894.4H1526.7V907H1521.2zM1526.7 894.8H1532.2V907H1526.7zM1532.2 894.9H1537.7V907H1532.2zM1537.7 896.2H1543.1V907H1537.7zM1543.1 896.4H1548.6V907H1543.1zM1548.6 896.6H1554.1V907H1548.6zM1554.1 896.5H1559.6V907H1554.1zM1559.6 896.6H1565V907H1559.6zM1565 896.3H1570.5V907H1565zM1570.5 895H1576V907H1570.5zM1576 879.6H1581.5V907H1576zM1581.5 880.8H1586.9V907H1581.5zM1586.9 887H1592.4V907H1586.9zM1592.4 887.8H1597.9V907H1592.4zM1597.9 878.9H1603.3V907H1597.9zM1603.3 883.1H1608.8V907H1603.3zM1608.8 889.6H1614.3V907H1608.8zM1614.3 889.5H1619.8V907H1614.3zM1619.8 889.4H1625.2V907H1619.8zM1625.2 895.7H1630.7V907H1625.2zM1630.7 893.4H1636.2V907H1630.7zM1636.2 896.9H1641.7V907H1636.2zM1641.7 896.5H1647.1V907H1641.7zM1647.1 895H1652.6V907H1647.1zM1652.6 894.1H1658.1V907H1652.6zM1658.1 895.3H1663.5V907H1658.1zM1663.5 895.4H1669V907H1663.5zM1669 896.7H1674.5V907H1669zM1674.5 896.2H1680V907H1674.5zM1680 895.9H1685.4V907H1680zM1685.4 896.8H1690.9V907H1685.4zM1690.9 896.4H1696.4V907H1690.9zM1696.4 896.2H1701.9V907H1696.4zM1701.9 896.5H1707.3V907H1701.9zM1707.3 896.6H1712.8V907H1707.3zM1712.8 895.1H1718.3V907H1712.8zM1718.3 895.1H1723.7V907H1718.3zM1723.7 894.2H1729.2V907H1723.7zM1729.2 894.9H1734.7V907H1729.2zM1734.7 896.9H1740.2V907H1734.7zM1740.2 896.5H1745.6V907H1740.2zM1745.6 895.6H1751.1V907H1745.6zM1751.1 896.3H1756.6V907H1751.1zM1756.6 896.8H1762.1V907H1756.6zM1762.1 896.3H1767.5V907H1762.1zM1767.5 896.3H1773V907H1767.5zM1773 896.3H1778.5V907H1773zM1778.5 894.6H1784V907H1778.5zM1784 893.7H1789.4V907H1784zM1789.4 894.5H1794.9V907H1789.4zM1794.9 895.2H1800.4V907H1794.9zM1800.4 896.4H1805.8V907H1800.4zM1805.8 896.4H1811.3V907H1805.8zM1811.3 896.8H1812V907H1811.3z" fill="#43603b"/><path d="M54.5 897.9V907M60 898.1V907M65.4 898.1V907M70.9 898.1V907M76.4 898.1V907M81.8 898V907M87.3 898V907M92.8 895.4V907M98.3 896.1V907M103.7 897.7V907M109.2 898.6V907M114.7 898.6V907M120.2 898.2V907M125.6 898.2V907M131.1 898.3V907M136.6 898.3V907M142.1 897.9V907M147.5 898.2V907M153 898.2V907M158.5 898V907M163.9 896.4V907M169.4 896.7V907M174.9 898.2V907M180.4 898.9V907M185.8 898.9V907M191.3 898.6V907M196.8 898.6V907M202.3 898.2V907M207.7 898V907M213.2 898.5V907M218.7 898.5V907M224.1 898.4V907M229.6 896V907M235.1 896.3V907M240.6 898.3V907M246 898.3V907M251.5 898.2V907M257 898.1V907M262.5 898.5V907M267.9 898.5V907M273.4 898.2V907M278.9 897.8V907M284.4 898.1V907M289.8 898.1V907M295.3 896.4V907M300.8 896.8V907M306.2 898.2V907M311.7 898.2V907M317.2 898.3V907M322.7 898.3V907M328.1 898V907M333.6 898V907M339.1 898V907M344.6 897.9V907M350 898.2V907M355.5 898.2V907M361 898.2V907M366.4 896.2V907M371.9 896.2V907M377.4 898.4V907M382.9 898.4V907M388.3 897.7V907M393.8 898.4V907M399.3 898.4V907M404.8 898V907M410.2 898.3V907M415.7 898.4V907M421.2 898.4V907M426.6 898.1V907M432.1 895.6V907M437.6 895.6V907M443.1 898V907M448.5 898V907M454 897.9V907M459.5 898.1V907M465 898.5V907M470.4 898.5V907M475.9 898.1V907M481.4 898.7V907M486.9 898.7V907M492.3 898.2V907M497.8 897.6V907M503.3 895.6V907M508.7 895.8V907M514.2 898.1V907M519.7 898.1V907M525.2 898.7V907M530.6 898.7V907M536.1 898.1V907M541.6 898.1V907M547.1 898.7V907M552.5 898.7V907M558 898.2V907M563.5 898.2V907M568.9 897.3V907M574.4 896.2V907M579.9 896.2V907M585.4 898V907M590.8 898V907M596.3 898V907M601.8 898.2V907M607.3 898.5V907M612.7 898.5V907M618.2 898.2V907M623.7 898.7V907M629.1 898.7V907M634.6 898.2V907M640.1 897.3V907M645.6 896V907M651 896.6V907M656.5 898.2V907M662 898.2V907M667.5 897.8V907M672.9 898.7V907M678.4 898.7V907M683.9 898.4V907M689.4 898.1V907M694.8 898.3V907M700.3 898.3V907M705.8 898.3V907M711.2 897.1V907M716.7 895.8V907M722.2 896.1V907M727.7 898.1V907M733.1 898.1V907M738.6 898.1V907M744.1 878.9V907M749.6 878.9V907M755 878.3V907M760.5 878.3V907M766 878.2V907M771.4 878.6V907M776.9 878.6V907M782.4 876.5V907M787.9 876.8V907M793.3 896.5V907M798.8 897.1V907M804.3 897.8V907M809.8 898.1V907M815.2 898.3V907M820.7 898.3V907M826.2 898.1V907M831.6 898.2V907M837.1 898.2V907M842.6 898.1V907M848.1 898.1V907M853.5 895.8V907M859 896V907M864.5 898.8V907M870 898.8V907M875.4 898.1V907M880.9 898.3V907M886.4 898.3V907M891.9 898.6V907M897.3 898.6V907M902.8 898.3V907M908.3 898.1V907M913.7 897.9V907M919.2 897.9V907M924.7 895.7V907M930.2 895.7V907M935.6 898.5V907M941.1 898.5V907M946.6 889.6V907M952.1 890.5V907M957.5 890.5V907M963 889.5V907M968.5 889.7V907M973.9 889.7V907M979.4 890V907M984.9 890.3V907M990.4 890.3V907M995.8 888V907M1001.3 888.6V907M1006.8 889.7V907M1012.3 889.7V907M1017.7 889.7V907M1023.2 889.4V907M1028.7 890.2V907M1034.2 890.6V907M1039.6 890.6V907M1045.1 890.1V907M1050.6 890.1V907M1056 889.3V907M1061.5 888.5V907M1067 887.9V907M1072.5 888.3V907M1077.9 889.5V907M1083.4 889.5V907M1088.9 889.9V907M1094.4 889.9V907M1099.8 889.9V907M1105.3 890V907M1110.8 890V907M1116.2 889.7V907M1121.7 890V907M1127.2 890V907M1132.7 887.7V907M1138.1 887.8V907M1143.6 889.6V907M1149.1 889.6V907M1154.6 889.5V907M1160 889.4V907M1165.5 890V907M1171 890V907M1176.4 890V907M1181.9 890V907M1187.4 890.7V907M1192.9 890.7V907M1198.3 888.2V907M1203.8 888.1V907M1209.3 889.8V907M1214.8 890.4V907M1220.2 890.4V907M1225.7 890.1V907M1231.2 890.1V907M1236.7 890V907M1242.1 889.7V907M1247.6 889.7V907M1253.1 882.5V907M1258.5 882.5V907M1264 882.2V907M1269.5 882.1V907M1275 883V907M1280.4 883V907M1285.9 883.7V907M1291.4 883.9V907M1296.9 883.9V907M1302.3 883.7V907M1307.8 884.3V907M1313.3 884.3V907M1318.7 883.7V907M1324.2 883.7V907M1329.7 881.9V907M1335.2 881.9V907M1340.6 885.1V907M1346.1 885.1V907M1351.6 884V907M1357.1 884V907M1362.5 883.3V907M1368 884.7V907M1373.5 884.7V907M1378.9 884V907M1384.4 884V907M1389.9 885.2V907M1395.4 887.6V907M1400.8 888.4V907M1406.3 889.3V907M1411.8 890V907M1417.3 890V907M1422.7 889.3V907M1428.2 889.5V907M1433.7 889.5V907M1439.2 890.4V907M1444.6 890.4V907M1450.1 889.8V907M1455.6 889.7V907M1461 888.1V907M1466.5 888.1V907M1472 883.7V907M1477.5 889.4V907M1482.9 889.8V907M1488.4 890.2V907M1493.9 890.2V907M1499.4 883.5V907M1504.8 889.6V907M1510.3 889.9V907M1515.8 889.9V907M1521.2 894.7V907M1526.7 895.1V907M1532.2 895.2V907M1537.7 896.5V907M1543.1 896.7V907M1548.6 896.9V907M1554.1 896.9V907M1559.6 896.9V907M1565 896.9V907M1570.5 896.6V907M1576 895.3V907M1581.5 881.1V907M1586.9 887.3V907M1592.4 888.1V907M1597.9 888.1V907M1603.3 883.4V907M1608.8 889.9V907M1614.3 889.9V907M1619.8 889.8V907M1625.2 896V907M1630.7 896V907M1636.2 897.2V907M1641.7 897.2V907M1647.1 896.8V907M1652.6 895.3V907M1658.1 895.6V907M1663.5 895.7V907M1669 897V907M1674.5 897V907M1680 896.5V907M1685.4 897.1V907M1690.9 897.1V907M1696.4 896.7V907M1701.9 896.8V907M1707.3 896.9V907M1712.8 896.9V907M1718.3 895.4V907M1723.7 895.4V907M1729.2 895.2V907M1734.7 897.2V907M1740.2 897.2V907M1745.6 896.8V907M1751.1 896.6V907M1756.6 897.1V907M1762.1 897.1V907M1767.5 896.6V907M1773 896.6V907M1778.5 896.6V907M1784 894.9V907M1789.4 894.8V907M1794.9 895.5V907M1800.4 896.7V907M1805.8 896.7V907M1811.3 897.1V907" stroke="#6a995c" stroke-width="1.3" fill="none"/><path d="M1075.6 826H1077.2V907H1075.6zM1077.2 842H1078.3V907H1077.2zM1078.3 862H1079.3V907H1078.3zM1080 850H1081.5V907H1080zM1081.5 843H1083V907H1081.5zM1084.8 848H1086.5V907H1084.8zM1086.5 862H1088V907H1086.5zM1245.8 875.7H1248V907H1245.8zM1247.8 838.8H1249V907H1247.8zM1256.8 826.3H1258.2V907H1256.8zM1258.9 831H1260.1V907H1258.9zM1263 843.3H1264.2V907H1263zM1264.2 845H1265.2V907H1264.2zM1281.8 847.1H1286V907H1281.8zM1286 843H1287.1V907H1286zM1289.8 813.1H1290.9V907H1289.8zM1290.9 851.3H1292V907H1290.9zM1430.3 832H1431.5V907H1430.3zM1387 881H1388.2V907H1387zM1464 873.8H1465.5V907H1464zM1491 874.5H1492.5V907H1491zM1574.5 875H1576V907H1574.5zM1595.5 873.8H1597V907H1595.5zM1713.2 884.5H1714.3V907H1713.2zM1756.5 887H1757.5V907H1756.5zM358.5 893.7H359.6V907H358.5zM660.4 886.5H661.4V907H660.4z" fill="#5f8b53"/><path d="M50 906.5H1812" stroke="#5f8a54" stroke-width="1"/>
<path d="M50 791.5H1812M50 814.5H1812M50 837.5H1812M50 860.5H1812M50 883.5H1812M50 906.5H1812M67.5 791 V907M141.5 791 V907M214.5 791 V907M287.5 791 V907M361.5 791 V907M434.5 791 V907M508.5 791 V907M581.5 791 V907M655.5 791 V907M728.5 791 V907M801.5 791 V907M875.5 791 V907M948.5 791 V907M1022.5 791 V907M1095.5 791 V907M1168.5 791 V907M1242.5 791 V907M1315.5 791 V907M1389.5 791 V907M1462.5 791 V907M1536.5 791 V907M1609.5 791 V907M1682.5 791 V907M1756.5 791 V907" stroke="rgba(200,200,200,0.22)" stroke-width="1" fill="none"/>
</svg>
<div class="t" style="left:18.23px;top:785.24px;font-size:12px;letter-spacing:-0.309px;-webkit-text-stroke:0.25px #c7d0d9;color:#c7d0d9;">5 kW</div>
<div class="t" style="left:18.24px;top:808.24px;font-size:12px;letter-spacing:-0.312px;-webkit-text-stroke:0.25px #c7d0d9;color:#c7d0d9;">4 kW</div>
<div class="t" style="left:18.23px;top:831.24px;font-size:12px;letter-spacing:-0.309px;-webkit-text-stroke:0.25px #c7d0d9;color:#c7d0d9;">3 kW</div>
<div class="t" style="left:18.22px;top:854.24px;font-size:12px;letter-spacing:-0.308px;-webkit-text-stroke:0.25px #c7d0d9;color:#c7d0d9;">2 kW</div>
<div class="t" style="left:18.21px;top:877.24px;font-size:12px;letter-spacing:-0.304px;-webkit-text-stroke:0.25px #c7d0d9;color:#c7d0d9;">1 kW</div>
<div class="t" style="left:24.02px;top:900.24px;font-size:12px;letter-spacing:-0.360px;-webkit-text-stroke:0.25px #c7d0d9;color:#c7d0d9;">0 W</div>
<div class="t" style="left:52.59px;top:913.84px;font-size:12px;letter-spacing:0.030px;-webkit-text-stroke:0.25px #c7d0d9;color:#c7d0d9;">23:00</div>
<div class="t" style="left:126.07px;top:913.84px;font-size:12px;letter-spacing:0.030px;-webkit-text-stroke:0.25px #c7d0d9;color:#c7d0d9;">00:00</div>
<div class="t" style="left:199.49px;top:913.84px;font-size:12px;letter-spacing:0.030px;-webkit-text-stroke:0.25px #c7d0d9;color:#c7d0d9;">01:00</div>
<div class="t" style="left:272.90px;top:913.84px;font-size:12px;letter-spacing:0.030px;-webkit-text-stroke:0.25px #c7d0d9;color:#c7d0d9;">02:00</div>
<div class="t" style="left:346.32px;top:913.84px;font-size:12px;letter-spacing:0.030px;-webkit-text-stroke:0.25px #c7d0d9;color:#c7d0d9;">03:00</div>
<div class="t" style="left:419.74px;top:913.84px;font-size:12px;letter-spacing:0.030px;-webkit-text-stroke:0.25px #c7d0d9;color:#c7d0d9;">04:00</div>
<div class="t" style="left:493.15px;top:913.84px;font-size:12px;letter-spacing:0.030px;-webkit-text-stroke:0.25px #c7d0d9;color:#c7d0d9;">05:00</div>
<div class="t" style="left:566.57px;top:913.84px;font-size:12px;letter-spacing:0.030px;-webkit-text-stroke:0.25px #c7d0d9;color:#c7d0d9;">06:00</div>
<div class="t" style="left:639.99px;top:913.84px;font-size:12px;letter-spacing:0.030px;-webkit-text-stroke:0.25px #c7d0d9;color:#c7d0d9;">07:00</div>
<div class="t" style="left:713.40px;top:913.84px;font-size:12px;letter-spacing:0.030px;-webkit-text-stroke:0.25px #c7d0d9;color:#c7d0d9;">08:00</div>
<div class="t" style="left:786.82px;top:913.84px;font-size:12px;letter-spacing:0.030px;-webkit-text-stroke:0.25px #c7d0d9;color:#c7d0d9;">09:00</div>
<div class="t" style="left:860.03px;top:913.84px;font-size:12px;letter-spacing:0.030px;-webkit-text-stroke:0.25px #c7d0d9;color:#c7d0d9;">10:00</div>
<div class="t" style="left:933.89px;top:913.84px;font-size:12px;letter-spacing:0.029px;-webkit-text-stroke:0.25px #c7d0d9;color:#c7d0d9;">11:00</div>
<div class="t" style="left:1006.86px;top:913.84px;font-size:12px;letter-spacing:0.030px;-webkit-text-stroke:0.25px #c7d0d9;color:#c7d0d9;">12:00</div>
<div class="t" style="left:1080.28px;top:913.84px;font-size:12px;letter-spacing:0.030px;-webkit-text-stroke:0.25px #c7d0d9;color:#c7d0d9;">13:00</div>
<div class="t" style="left:1153.69px;top:913.84px;font-size:12px;letter-spacing:0.030px;-webkit-text-stroke:0.25px #c7d0d9;color:#c7d0d9;">14:00</div>
<div class="t" style="left:1227.11px;top:913.84px;font-size:12px;letter-spacing:0.030px;-webkit-text-stroke:0.25px #c7d0d9;color:#c7d0d9;">15:00</div>
<div class="t" style="left:1300.53px;top:913.84px;font-size:12px;letter-spacing:0.030px;-webkit-text-stroke:0.25px #c7d0d9;color:#c7d0d9;">16:00</div>
<div class="t" style="left:1373.94px;top:913.84px;font-size:12px;letter-spacing:0.030px;-webkit-text-stroke:0.25px #c7d0d9;color:#c7d0d9;">17:00</div>
<div class="t" style="left:1447.36px;top:913.84px;font-size:12px;letter-spacing:0.030px;-webkit-text-stroke:0.25px #c7d0d9;color:#c7d0d9;">18:00</div>
<div class="t" style="left:1520.78px;top:913.84px;font-size:12px;letter-spacing:0.030px;-webkit-text-stroke:0.25px #c7d0d9;color:#c7d0d9;">19:00</div>
<div class="t" style="left:1594.34px;top:913.84px;font-size:12px;letter-spacing:0.030px;-webkit-text-stroke:0.25px #c7d0d9;color:#c7d0d9;">20:00</div>
<div class="t" style="left:1667.76px;top:913.84px;font-size:12px;letter-spacing:0.030px;-webkit-text-stroke:0.25px #c7d0d9;color:#c7d0d9;">21:00</div>
<div class="t" style="left:1741.18px;top:913.84px;font-size:12px;letter-spacing:0.030px;-webkit-text-stroke:0.25px #c7d0d9;color:#c7d0d9;">22:00</div>
<div class="dash" style="left:30.5px;top:946px;background:#7EB26D;"></div>
<div class="t" style="left:47.44px;top:939.84px;font-size:12px;letter-spacing:0.062px;-webkit-text-stroke:0.25px #d8d9e0;color:#d8d9e0;">Momentane Leistung</div>
<div class="t" style="left:165.70px;top:939.84px;font-size:12px;letter-spacing:-0.200px;-webkit-text-stroke:0.25px #d8d9e0;color:#d8d9e0;">Current: 508 W</div>
</body></html>
